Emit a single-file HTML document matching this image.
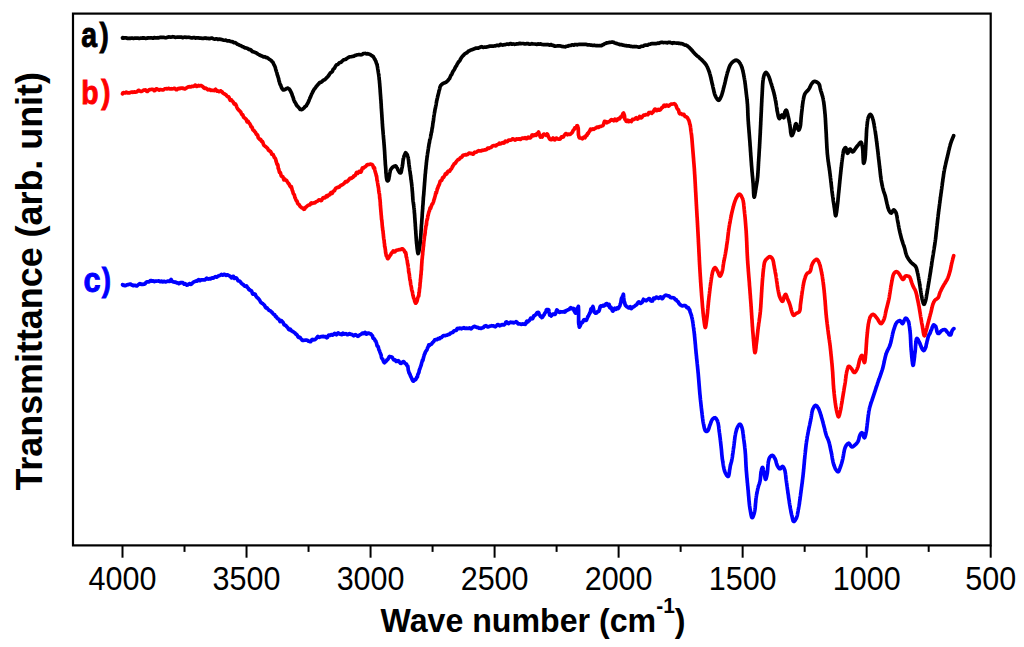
<!DOCTYPE html>
<html lang="en">
<head>
<meta charset="utf-8">
<title>FTIR spectra</title>
<style>
html,body{margin:0;padding:0;background:#fff;}
body{width:1024px;height:647px;overflow:hidden;}
svg{display:block;}
text{font-family:"Liberation Sans",Arial,Helvetica,sans-serif;}
.tl text{font-size:30.5px;text-anchor:middle;fill:#000;}
.ax{font-size:33px;font-weight:bold;fill:#000;}
.lab{font-size:33px;font-weight:bold;}
.curve{fill:none;stroke-width:3.7;stroke-linejoin:round;stroke-linecap:round;}
</style>
</head>
<body>
<svg width="1024" height="647" viewBox="0 0 1024 647">
<rect x="0" y="0" width="1024" height="647" fill="#fff"/>
<g class="curve">
<path stroke="#000000" d="M122.5 38.1 L122.5 37.8 L122.6 37.7 L122.7 37.7 L122.9 37.7 L123.1 37.7 L123.4 37.9 L123.7 38.1 L124.1 38.0 L124.5 37.9 L124.9 37.9 L125.4 37.8 L125.9 37.8 L126.5 38.0 L127.0 38.3 L127.6 38.5 L128.3 38.3 L128.9 38.2 L129.6 38.3 L130.3 38.3 L131.0 38.2 L131.8 38.1 L132.5 38.2 L133.3 38.3 L134.1 38.3 L134.9 38.1 L135.6 38.0 L136.5 38.1 L137.3 38.2 L138.1 38.2 L138.9 38.3 L139.7 38.3 L140.5 38.2 L141.3 38.2 L142.1 38.1 L142.9 37.9 L143.7 37.9 L144.5 38.1 L145.2 38.3 L146.0 38.3 L146.7 38.2 L147.4 38.1 L148.1 37.9 L148.8 37.8 L149.4 38.0 L150.0 38.0 L150.6 37.9 L151.2 37.8 L151.9 37.9 L152.5 38.2 L153.1 38.1 L153.7 37.7 L154.3 37.6 L155.0 37.8 L155.6 38.0 L156.2 37.9 L156.8 37.8 L157.4 37.7 L158.0 37.9 L158.6 37.9 L159.2 37.6 L159.8 37.4 L160.5 37.4 L161.1 37.5 L161.7 37.3 L162.3 37.3 L162.9 37.3 L163.5 37.4 L164.1 37.4 L164.7 37.6 L165.3 37.7 L165.9 37.8 L166.5 37.7 L167.1 37.4 L167.7 37.3 L168.3 37.0 L168.9 36.9 L169.5 37.0 L170.1 37.1 L170.7 37.1 L171.4 37.1 L172.0 36.9 L172.6 36.7 L173.2 36.8 L173.8 36.9 L174.4 37.0 L175.0 37.2 L175.6 37.4 L176.2 37.3 L176.8 37.2 L177.5 37.1 L178.1 37.1 L178.7 37.2 L179.3 37.2 L180.0 37.1 L180.6 37.0 L181.2 37.0 L181.9 37.3 L182.5 37.6 L183.1 37.6 L183.8 37.3 L184.4 37.2 L185.1 37.1 L185.7 37.2 L186.3 37.4 L187.0 37.4 L187.6 37.3 L188.2 37.2 L188.8 37.3 L189.5 37.4 L190.1 37.6 L190.7 37.8 L191.3 37.9 L191.9 38.0 L192.5 37.9 L193.1 37.6 L193.7 37.5 L194.3 37.5 L194.9 37.8 L195.5 38.1 L196.1 38.0 L196.7 37.8 L197.3 37.9 L197.8 37.9 L198.4 37.9 L198.9 38.0 L199.5 38.2 L200.0 38.2 L200.7 38.1 L201.3 38.2 L202.0 38.3 L202.6 38.4 L203.2 38.4 L203.9 38.3 L204.5 38.1 L205.1 37.9 L205.7 38.1 L206.3 38.4 L206.9 38.5 L207.5 38.3 L208.0 38.3 L208.6 38.5 L209.2 38.7 L209.8 38.6 L210.3 38.4 L210.9 38.2 L211.5 38.0 L212.1 38.1 L212.6 38.4 L213.2 38.7 L213.8 38.9 L214.4 39.1 L215.0 39.1 L215.6 39.0 L216.2 38.8 L216.8 38.8 L217.4 39.2 L218.0 39.5 L218.6 39.3 L219.2 39.1 L219.8 39.3 L220.4 39.5 L221.0 39.4 L221.6 39.5 L222.2 39.7 L222.8 39.9 L223.4 40.1 L224.0 40.2 L224.6 40.3 L225.2 40.2 L225.8 40.2 L226.4 40.5 L227.0 40.7 L227.6 40.9 L228.2 40.8 L228.8 40.8 L229.4 40.9 L230.0 41.2 L230.6 41.4 L231.1 41.6 L231.7 41.6 L232.3 41.6 L232.8 41.8 L233.4 42.3 L233.9 42.6 L234.5 42.5 L235.0 42.6 L235.6 42.9 L236.2 43.3 L236.7 43.8 L237.3 44.2 L237.8 44.4 L238.4 44.5 L238.9 44.8 L239.5 45.2 L240.0 45.4 L240.6 45.6 L241.1 45.8 L241.7 46.1 L242.2 46.5 L242.8 46.7 L243.3 46.8 L243.9 47.2 L244.4 47.6 L245.0 47.9 L245.6 47.9 L246.1 48.0 L246.7 48.2 L247.3 48.3 L247.8 48.6 L248.4 49.1 L249.0 49.5 L249.6 49.7 L250.1 49.6 L250.7 49.8 L251.3 50.4 L251.8 51.0 L252.4 51.5 L253.0 51.8 L253.5 51.9 L254.1 52.1 L254.7 52.3 L255.2 52.5 L255.8 52.7 L256.3 53.0 L256.9 53.3 L257.4 53.7 L257.9 54.1 L258.5 54.4 L259.0 54.6 L259.5 55.0 L260.0 55.2 L260.6 55.5 L261.2 55.8 L261.8 56.0 L262.5 56.3 L263.1 56.7 L263.7 56.9 L264.3 56.8 L264.9 56.7 L265.5 57.1 L266.0 57.5 L266.6 57.7 L267.2 57.7 L267.7 58.0 L268.2 58.4 L268.7 58.8 L269.1 59.1 L269.6 59.4 L270.0 59.6 L270.5 60.0 L271.0 60.3 L271.5 60.8 L271.9 61.4 L272.3 61.8 L272.6 62.0 L273.0 62.5 L273.3 63.2 L273.7 64.1 L273.9 64.6 L274.2 65.0 L274.4 65.4 L274.6 65.9 L274.9 66.4 L275.1 67.0 L275.3 67.6 L275.5 68.3 L275.7 69.2 L275.9 69.9 L276.0 70.3 L276.2 70.7 L276.4 71.5 L276.6 72.1 L276.8 72.6 L277.0 73.3 L277.1 74.1 L277.3 74.8 L277.5 75.3 L277.7 75.8 L277.9 76.3 L278.0 77.0 L278.2 77.4 L278.4 77.9 L278.5 78.5 L278.7 79.3 L278.9 80.2 L279.0 80.9 L279.2 81.2 L279.4 81.8 L279.5 82.4 L279.7 83.1 L279.9 83.8 L280.1 84.3 L280.3 84.6 L280.5 84.8 L280.8 85.4 L281.1 86.4 L281.4 87.3 L281.8 88.0 L282.1 88.6 L282.5 89.2 L282.9 89.7 L283.3 90.0 L283.7 90.0 L284.3 89.8 L284.9 89.5 L285.5 89.3 L286.2 88.8 L286.8 88.4 L287.4 88.2 L288.0 88.2 L288.4 88.6 L288.8 88.8 L289.2 89.0 L289.5 89.4 L289.9 90.0 L290.2 90.5 L290.5 91.0 L290.9 91.8 L291.2 92.5 L291.4 93.0 L291.7 93.5 L291.9 94.0 L292.1 94.7 L292.3 95.5 L292.6 96.1 L292.8 96.6 L293.0 97.2 L293.2 97.6 L293.4 98.4 L293.6 99.3 L293.8 99.9 L294.0 100.4 L294.3 100.9 L294.5 101.5 L294.7 102.0 L295.0 102.3 L295.3 102.7 L295.7 103.4 L296.1 104.2 L296.4 104.9 L296.8 105.5 L297.2 106.0 L297.6 106.3 L298.0 106.7 L298.3 107.1 L298.7 107.5 L299.2 108.0 L299.6 108.6 L300.1 109.3 L300.5 109.5 L301.0 109.5 L301.5 109.6 L302.0 109.5 L302.5 109.2 L303.0 108.8 L303.5 108.4 L304.1 107.9 L304.5 107.3 L305.0 106.7 L305.5 106.4 L305.9 106.2 L306.3 105.8 L306.7 105.0 L307.1 104.2 L307.5 103.6 L307.7 103.2 L308.0 102.7 L308.2 102.2 L308.4 101.9 L308.6 101.4 L308.9 100.8 L309.1 100.1 L309.4 99.4 L309.6 98.9 L309.8 98.3 L310.1 97.8 L310.3 97.3 L310.6 96.8 L310.8 96.1 L311.1 95.4 L311.4 94.6 L311.7 94.0 L311.9 93.6 L312.2 93.1 L312.5 92.4 L312.8 91.7 L313.2 91.1 L313.5 90.5 L313.8 89.9 L314.2 89.3 L314.5 88.8 L314.9 88.5 L315.2 88.1 L315.6 87.5 L316.0 86.8 L316.3 86.4 L316.7 86.1 L317.1 85.7 L317.5 85.0 L317.9 84.6 L318.3 84.3 L318.7 83.9 L319.2 83.1 L319.7 82.5 L320.2 82.4 L320.8 82.4 L321.3 82.2 L321.9 81.7 L322.4 81.1 L323.0 80.5 L323.5 80.1 L324.0 80.0 L324.5 79.9 L325.0 79.5 L325.5 79.0 L325.9 78.6 L326.3 78.1 L326.7 77.8 L327.1 77.4 L327.5 76.9 L327.9 76.5 L328.3 76.0 L328.7 75.5 L329.1 74.9 L329.6 74.1 L330.0 73.4 L330.4 72.9 L330.7 72.7 L331.1 72.5 L331.4 72.3 L331.8 72.0 L332.2 71.6 L332.6 70.8 L332.9 69.9 L333.3 69.2 L333.7 68.9 L334.1 68.7 L334.5 68.1 L334.9 67.3 L335.3 66.6 L335.7 65.9 L336.2 65.3 L336.6 64.8 L337.0 64.5 L337.5 64.5 L338.0 64.3 L338.4 63.8 L338.9 63.3 L339.4 62.8 L339.9 62.6 L340.4 62.5 L341.0 62.3 L341.5 61.9 L342.0 61.3 L342.6 60.7 L343.1 60.2 L343.7 59.9 L344.2 59.8 L344.8 59.6 L345.3 59.4 L345.9 59.2 L346.4 58.8 L347.0 58.3 L347.5 58.0 L348.1 57.6 L348.6 57.3 L349.2 57.0 L349.8 56.9 L350.4 56.8 L351.0 56.7 L351.6 56.6 L352.2 56.5 L352.7 56.4 L353.3 56.2 L353.9 56.1 L354.5 55.7 L355.1 55.4 L355.7 55.4 L356.3 55.1 L356.9 54.8 L357.5 54.8 L358.1 54.7 L358.8 54.5 L359.4 54.5 L360.1 54.7 L360.7 54.8 L361.4 54.7 L362.1 54.5 L362.7 54.1 L363.4 53.6 L364.0 53.5 L364.6 53.5 L365.3 53.4 L365.9 53.7 L366.4 53.9 L367.0 53.8 L367.5 53.7 L368.2 53.8 L368.8 54.1 L369.4 54.3 L370.0 54.5 L370.5 54.7 L371.0 55.1 L371.5 55.5 L372.0 55.9 L372.5 56.2 L372.9 56.2 L373.3 56.6 L373.6 57.2 L374.0 57.9 L374.3 58.5 L374.6 59.1 L374.9 59.4 L375.2 59.7 L375.4 60.3 L375.7 61.1 L376.0 61.8 L376.2 62.6 L376.4 63.1 L376.5 63.5 L376.7 63.8 L376.9 64.1 L377.0 64.6 L377.1 65.3 L377.3 66.1 L377.4 66.6 L377.5 67.1 L377.6 67.8 L377.7 68.5 L377.8 69.1 L377.9 69.7 L378.0 70.3 L378.1 70.9 L378.2 71.5 L378.3 72.2 L378.4 73.0 L378.5 73.5 L378.6 74.0 L378.7 74.7 L378.8 75.2 L378.8 75.7 L378.9 76.3 L379.0 76.8 L379.1 77.4 L379.1 78.2 L379.2 79.0 L379.2 79.5 L379.3 80.0 L379.4 80.5 L379.4 81.0 L379.5 81.5 L379.5 82.2 L379.6 82.9 L379.6 83.3 L379.7 83.7 L379.7 84.4 L379.8 85.3 L379.8 85.9 L379.9 86.5 L379.9 87.1 L380.0 87.6 L380.0 88.2 L380.1 88.9 L380.1 89.6 L380.2 90.4 L380.2 91.0 L380.2 91.4 L380.3 91.9 L380.3 92.7 L380.4 93.4 L380.4 94.1 L380.5 94.7 L380.5 95.3 L380.6 96.1 L380.6 96.8 L380.7 97.4 L380.7 97.9 L380.7 98.6 L380.8 99.1 L380.8 99.4 L380.9 99.8 L380.9 100.4 L381.0 101.2 L381.0 102.0 L381.0 102.7 L381.1 102.9 L381.1 103.4 L381.2 104.2 L381.2 105.1 L381.2 105.8 L381.3 106.5 L381.3 107.2 L381.3 107.8 L381.4 108.2 L381.4 108.7 L381.5 109.5 L381.5 110.2 L381.5 110.5 L381.6 111.0 L381.6 111.9 L381.7 112.5 L381.7 112.9 L381.7 113.3 L381.8 114.0 L381.8 114.8 L381.9 115.4 L381.9 115.9 L381.9 116.5 L382.0 117.3 L382.0 118.0 L382.1 118.7 L382.1 119.3 L382.1 119.7 L382.2 120.1 L382.2 120.7 L382.3 121.4 L382.3 122.2 L382.3 122.9 L382.4 123.5 L382.4 124.0 L382.5 124.6 L382.5 125.3 L382.5 125.9 L382.6 126.4 L382.6 126.9 L382.7 127.7 L382.7 128.3 L382.8 128.8 L382.8 129.5 L382.9 130.1 L382.9 130.6 L383.0 131.0 L383.0 131.6 L383.1 132.5 L383.1 133.1 L383.2 133.6 L383.2 134.2 L383.3 135.0 L383.4 135.6 L383.4 136.3 L383.5 137.2 L383.5 137.9 L383.6 138.5 L383.6 139.0 L383.7 139.4 L383.7 139.8 L383.8 140.5 L383.8 141.2 L383.9 141.9 L383.9 142.3 L384.0 142.7 L384.0 143.2 L384.0 143.9 L384.1 144.4 L384.1 144.9 L384.2 145.3 L384.2 146.0 L384.3 146.9 L384.3 147.6 L384.4 148.0 L384.4 148.4 L384.4 149.1 L384.5 149.8 L384.5 150.2 L384.6 150.8 L384.6 151.6 L384.7 152.6 L384.7 153.2 L384.7 153.8 L384.8 154.5 L384.8 155.2 L384.9 156.1 L384.9 156.8 L384.9 157.4 L385.0 157.9 L385.0 158.6 L385.0 159.2 L385.1 159.6 L385.1 160.0 L385.2 160.7 L385.2 161.4 L385.2 162.0 L385.3 162.5 L385.3 163.1 L385.3 163.8 L385.4 164.3 L385.4 164.7 L385.4 165.1 L385.5 165.5 L385.5 166.0 L385.6 166.5 L385.6 167.1 L385.7 167.8 L385.7 168.3 L385.8 169.1 L385.8 170.0 L385.9 171.1 L385.9 172.1 L385.9 172.6 L386.0 172.9 L386.0 173.4 L386.1 173.9 L386.2 174.6 L386.2 175.2 L386.3 175.9 L386.3 176.5 L386.4 177.2 L386.5 177.8 L386.6 178.6 L386.8 179.2 L386.9 179.9 L387.1 180.5 L387.3 180.8 L387.5 180.9 L387.7 180.9 L388.0 180.8 L388.2 180.6 L388.5 179.9 L388.8 178.9 L389.0 177.8 L389.1 176.9 L389.3 176.3 L389.4 175.8 L389.5 175.0 L389.6 174.1 L389.7 173.5 L389.8 173.2 L389.9 172.7 L390.1 171.8 L390.2 171.0 L390.4 170.4 L390.6 169.9 L390.9 169.4 L391.3 168.8 L391.7 168.2 L392.2 167.6 L392.6 167.2 L393.1 166.9 L393.7 166.5 L394.4 166.2 L395.0 166.0 L395.6 165.9 L396.0 166.1 L396.3 166.8 L396.6 167.3 L396.9 167.7 L397.2 168.0 L397.5 168.7 L397.8 169.6 L398.1 170.2 L398.5 170.9 L398.9 171.5 L399.3 172.2 L399.7 172.6 L400.1 172.8 L400.4 173.0 L400.6 172.9 L400.9 172.6 L401.1 172.2 L401.2 171.8 L401.4 171.1 L401.6 170.2 L401.7 169.1 L401.9 168.2 L402.0 167.9 L402.1 167.6 L402.2 167.0 L402.3 166.5 L402.4 165.9 L402.5 165.1 L402.6 164.4 L402.7 163.8 L402.8 163.4 L402.8 162.8 L402.9 161.9 L403.0 161.0 L403.1 160.2 L403.2 159.7 L403.3 159.2 L403.4 158.6 L403.6 158.1 L403.7 157.5 L403.9 156.8 L404.1 156.3 L404.3 155.6 L404.6 154.8 L404.8 154.3 L405.1 153.9 L405.3 153.3 L405.6 152.8 L406.0 153.1 L406.4 153.7 L406.8 154.1 L407.2 154.6 L407.5 155.4 L407.6 155.9 L407.8 156.4 L407.9 156.9 L408.0 157.2 L408.1 157.3 L408.2 157.8 L408.3 158.6 L408.4 159.2 L408.5 159.9 L408.6 160.7 L408.7 161.5 L408.7 162.0 L408.8 162.7 L408.9 163.5 L409.0 164.3 L409.1 164.9 L409.1 165.6 L409.2 166.2 L409.3 166.7 L409.4 167.3 L409.5 167.9 L409.6 168.4 L409.6 169.0 L409.7 169.8 L409.8 170.4 L409.9 170.9 L410.0 171.4 L410.1 172.1 L410.2 172.8 L410.2 173.4 L410.3 173.8 L410.4 174.4 L410.5 175.2 L410.6 175.9 L410.7 176.5 L410.8 177.1 L410.9 178.0 L410.9 178.8 L411.0 179.4 L411.1 179.8 L411.2 180.3 L411.3 180.7 L411.3 181.5 L411.4 182.2 L411.5 182.5 L411.6 183.1 L411.6 183.8 L411.7 184.3 L411.8 184.8 L411.8 185.5 L411.9 186.3 L412.0 186.8 L412.0 187.2 L412.1 187.9 L412.1 188.7 L412.2 189.5 L412.2 190.3 L412.3 190.9 L412.3 191.3 L412.4 191.6 L412.4 192.2 L412.5 193.1 L412.5 193.7 L412.6 194.2 L412.6 194.7 L412.6 195.4 L412.7 196.0 L412.7 196.6 L412.8 197.2 L412.8 197.9 L412.8 198.4 L412.9 199.0 L412.9 199.6 L413.0 200.3 L413.1 200.9 L413.1 201.4 L413.2 202.0 L413.3 202.5 L413.4 202.9 L413.4 203.4 L413.5 204.1 L413.6 204.9 L413.7 205.4 L413.8 205.8 L413.8 206.5 L413.9 207.3 L414.0 208.1 L414.1 208.6 L414.1 209.1 L414.2 209.6 L414.3 210.0 L414.3 210.8 L414.3 211.8 L414.4 212.6 L414.4 213.1 L414.5 213.4 L414.5 213.7 L414.6 214.2 L414.6 214.9 L414.7 215.8 L414.7 216.5 L414.7 217.0 L414.8 217.6 L414.8 218.0 L414.9 218.5 L414.9 219.0 L414.9 219.6 L415.0 220.3 L415.0 221.1 L415.1 221.8 L415.1 222.4 L415.2 223.0 L415.2 223.6 L415.3 224.3 L415.3 225.0 L415.3 225.7 L415.4 226.3 L415.4 226.8 L415.5 227.5 L415.5 228.2 L415.5 228.6 L415.6 229.2 L415.6 229.8 L415.7 230.4 L415.7 230.8 L415.8 231.5 L415.8 232.2 L415.8 232.9 L415.9 233.5 L415.9 234.2 L416.0 234.8 L416.0 235.6 L416.1 236.5 L416.1 237.2 L416.2 237.8 L416.2 238.5 L416.3 239.1 L416.3 239.7 L416.3 240.3 L416.4 240.7 L416.4 241.1 L416.5 241.7 L416.5 242.5 L416.6 243.2 L416.6 243.7 L416.7 243.9 L416.7 244.1 L416.8 244.5 L416.8 245.2 L416.9 245.9 L417.0 246.9 L417.1 248.1 L417.2 248.9 L417.3 249.5 L417.4 250.1 L417.5 250.9 L417.6 251.6 L417.7 252.3 L417.8 252.9 L417.9 253.2 L418.0 253.3 L418.1 253.6 L418.2 253.5 L418.3 253.2 L418.5 252.7 L418.6 252.2 L418.8 251.7 L418.9 251.2 L419.0 250.6 L419.2 249.9 L419.3 249.0 L419.5 248.1 L419.6 247.2 L419.7 246.3 L419.8 245.9 L419.8 245.7 L419.9 245.3 L420.0 244.6 L420.0 243.9 L420.1 243.5 L420.2 243.0 L420.2 242.1 L420.3 241.3 L420.3 240.7 L420.4 240.2 L420.4 239.6 L420.5 238.9 L420.6 238.2 L420.6 237.6 L420.7 237.1 L420.7 236.6 L420.8 236.0 L420.8 235.2 L420.9 234.3 L420.9 233.6 L421.0 232.9 L421.0 232.2 L421.0 231.6 L421.1 230.9 L421.1 230.2 L421.2 229.7 L421.2 229.1 L421.3 228.5 L421.3 227.9 L421.3 227.3 L421.4 226.6 L421.4 225.7 L421.5 224.9 L421.5 224.6 L421.6 224.1 L421.6 223.7 L421.7 223.1 L421.7 222.5 L421.7 221.9 L421.8 221.3 L421.8 220.6 L421.9 220.0 L421.9 219.4 L421.9 218.9 L422.0 218.5 L422.0 218.0 L422.1 217.4 L422.1 216.4 L422.2 215.6 L422.2 215.0 L422.2 214.5 L422.3 213.8 L422.3 213.2 L422.3 212.7 L422.4 212.1 L422.4 211.7 L422.5 211.3 L422.5 210.8 L422.5 210.3 L422.6 209.8 L422.6 209.3 L422.7 208.7 L422.7 208.0 L422.7 207.1 L422.8 206.4 L422.8 205.8 L422.9 205.3 L422.9 205.0 L423.0 204.5 L423.0 203.8 L423.1 203.0 L423.1 202.3 L423.1 201.6 L423.2 201.1 L423.2 200.6 L423.3 199.9 L423.3 199.0 L423.4 197.9 L423.4 197.1 L423.5 196.7 L423.5 196.5 L423.6 196.0 L423.6 195.4 L423.7 194.9 L423.7 194.4 L423.8 193.9 L423.8 193.4 L423.8 192.7 L423.9 192.1 L423.9 191.7 L424.0 191.2 L424.0 190.5 L424.1 189.8 L424.1 189.1 L424.2 188.5 L424.2 187.8 L424.3 187.0 L424.3 186.3 L424.4 185.8 L424.4 185.2 L424.5 184.4 L424.5 183.7 L424.6 183.0 L424.6 182.4 L424.7 182.0 L424.7 181.5 L424.8 180.8 L424.8 180.0 L424.9 179.3 L424.9 178.7 L425.0 178.0 L425.0 177.4 L425.1 176.7 L425.1 175.9 L425.2 175.2 L425.2 174.6 L425.3 174.0 L425.4 173.5 L425.4 173.0 L425.5 172.5 L425.5 171.8 L425.6 171.1 L425.6 170.5 L425.7 169.9 L425.7 169.4 L425.8 169.0 L425.9 168.4 L425.9 167.7 L426.0 167.1 L426.0 166.6 L426.1 166.1 L426.1 165.5 L426.2 165.0 L426.3 164.5 L426.3 163.7 L426.4 162.8 L426.5 161.9 L426.6 161.2 L426.6 160.7 L426.7 160.1 L426.8 159.6 L426.9 159.1 L426.9 158.6 L427.0 157.8 L427.1 157.2 L427.2 156.7 L427.3 156.1 L427.3 155.5 L427.4 154.9 L427.5 154.3 L427.6 153.5 L427.6 153.0 L427.7 152.9 L427.8 152.5 L427.9 151.8 L428.0 151.0 L428.1 150.4 L428.2 150.0 L428.2 149.4 L428.3 148.8 L428.4 148.2 L428.5 147.5 L428.6 146.9 L428.7 146.5 L428.8 145.9 L428.9 145.1 L429.0 144.3 L429.1 143.7 L429.2 143.2 L429.4 142.7 L429.5 141.9 L429.6 141.2 L429.7 140.4 L429.8 139.8 L430.0 139.4 L430.1 139.0 L430.2 138.6 L430.3 138.1 L430.5 137.6 L430.6 137.0 L430.7 136.3 L430.8 135.6 L431.0 135.0 L431.1 134.4 L431.2 133.7 L431.3 133.0 L431.4 132.4 L431.6 132.1 L431.7 131.8 L431.8 131.0 L431.9 130.1 L432.0 129.3 L432.1 128.6 L432.2 128.3 L432.3 128.0 L432.4 127.4 L432.5 126.7 L432.6 126.0 L432.7 125.3 L432.8 124.5 L432.8 123.7 L432.9 123.3 L433.0 123.0 L433.1 122.4 L433.2 121.9 L433.3 121.4 L433.4 120.7 L433.5 120.0 L433.6 119.2 L433.6 118.5 L433.7 117.9 L433.8 117.3 L433.9 116.5 L434.0 115.7 L434.1 115.1 L434.2 114.6 L434.3 114.0 L434.4 113.2 L434.5 112.7 L434.6 112.4 L434.7 111.9 L434.8 111.2 L434.9 110.4 L435.0 109.7 L435.1 109.1 L435.2 108.8 L435.4 108.2 L435.5 107.4 L435.6 107.0 L435.7 106.5 L435.8 105.9 L436.0 105.2 L436.1 104.6 L436.2 103.9 L436.3 103.0 L436.5 102.2 L436.6 101.4 L436.7 100.8 L436.9 100.3 L437.0 99.6 L437.1 99.0 L437.3 98.5 L437.4 98.0 L437.5 97.2 L437.7 96.7 L437.8 96.3 L437.9 95.7 L438.0 95.2 L438.2 94.7 L438.3 94.1 L438.4 93.6 L438.6 93.1 L438.7 92.6 L438.9 91.7 L439.0 90.9 L439.2 90.3 L439.3 89.9 L439.5 89.6 L439.6 89.2 L439.8 88.3 L439.9 87.4 L440.1 86.9 L440.3 86.4 L440.6 85.7 L440.9 85.2 L441.2 85.0 L441.6 84.5 L442.1 84.2 L442.6 83.9 L443.1 83.5 L443.6 83.1 L444.2 83.0 L444.8 82.8 L445.4 82.5 L446.0 82.3 L446.5 81.9 L447.0 81.3 L447.5 81.0 L447.9 80.6 L448.2 80.1 L448.6 79.5 L448.9 79.1 L449.3 78.9 L449.6 78.5 L449.9 77.7 L450.2 76.9 L450.5 76.2 L450.7 75.6 L451.0 75.1 L451.3 74.9 L451.6 74.6 L451.9 74.0 L452.2 73.3 L452.5 72.5 L452.8 71.9 L453.1 71.2 L453.5 70.7 L453.8 70.3 L454.1 69.9 L454.4 69.5 L454.8 68.7 L455.1 67.9 L455.4 67.3 L455.7 66.7 L456.0 66.3 L456.4 65.9 L456.7 65.2 L456.9 64.6 L457.2 64.2 L457.5 63.6 L457.9 63.0 L458.2 62.5 L458.6 62.0 L458.9 61.5 L459.2 61.2 L459.6 60.9 L460.0 60.3 L460.3 59.7 L460.6 59.0 L461.0 58.3 L461.3 57.8 L461.6 57.4 L462.0 56.8 L462.4 56.3 L462.8 55.9 L463.2 55.6 L463.6 55.2 L464.0 54.6 L464.5 54.1 L465.0 53.7 L465.4 53.4 L465.9 53.2 L466.4 52.9 L466.9 52.7 L467.4 52.3 L467.9 51.8 L468.4 51.2 L469.0 50.9 L469.6 50.7 L470.1 50.4 L470.7 50.1 L471.3 49.9 L471.9 49.8 L472.5 49.5 L473.1 49.3 L473.7 49.1 L474.4 48.8 L475.0 48.6 L475.5 48.3 L476.1 48.1 L476.6 48.1 L477.2 48.2 L477.8 48.2 L478.3 48.1 L478.9 47.8 L479.5 47.6 L480.1 47.3 L480.7 46.9 L481.3 46.7 L482.0 46.9 L482.6 47.3 L483.2 47.4 L483.8 47.2 L484.4 47.1 L485.1 47.1 L485.7 47.2 L486.3 47.1 L486.9 46.9 L487.6 46.7 L488.2 46.6 L488.8 46.5 L489.4 46.2 L490.0 46.0 L490.6 46.0 L491.2 46.1 L491.8 46.2 L492.4 46.1 L493.0 46.0 L493.5 46.1 L494.1 46.0 L494.7 45.9 L495.3 45.9 L495.9 45.7 L496.5 45.4 L497.1 45.2 L497.7 45.3 L498.2 45.5 L498.8 45.6 L499.4 45.4 L500.0 44.8 L500.6 44.4 L501.2 44.5 L501.9 44.9 L502.5 45.1 L503.1 45.0 L503.7 44.8 L504.4 44.7 L505.0 44.6 L505.6 44.6 L506.1 44.4 L506.7 44.1 L507.3 44.0 L507.8 44.2 L508.4 44.3 L509.0 44.3 L509.6 43.9 L510.2 43.5 L510.8 43.6 L511.4 44.0 L512.0 44.2 L512.6 44.0 L513.2 43.9 L513.8 44.1 L514.4 44.3 L515.0 44.3 L515.6 44.2 L516.2 44.0 L516.8 43.8 L517.4 43.8 L518.1 43.9 L518.7 43.8 L519.3 43.4 L519.9 43.4 L520.6 43.6 L521.2 43.6 L521.8 43.5 L522.5 43.5 L523.1 43.5 L523.7 43.7 L524.4 43.8 L525.0 43.8 L525.6 43.8 L526.2 43.8 L526.8 43.6 L527.4 43.5 L528.0 43.6 L528.6 44.0 L529.2 44.1 L529.8 44.1 L530.5 44.1 L531.1 43.9 L531.7 43.7 L532.4 43.8 L533.0 43.9 L533.7 44.0 L534.3 44.0 L535.0 44.0 L535.6 44.2 L536.2 44.3 L536.9 44.3 L537.5 44.0 L538.2 43.9 L538.8 44.2 L539.5 44.2 L540.1 43.9 L540.7 43.9 L541.4 44.2 L542.0 44.4 L542.6 44.5 L543.2 44.6 L543.8 44.6 L544.4 44.6 L545.0 44.5 L545.6 44.5 L546.2 44.6 L546.8 44.7 L547.3 44.7 L547.9 44.5 L548.4 44.5 L549.0 44.9 L549.5 45.2 L550.0 45.0 L550.7 44.6 L551.4 44.7 L552.1 45.2 L552.7 45.4 L553.4 45.4 L554.0 45.7 L554.6 46.1 L555.2 46.2 L555.8 46.1 L556.4 46.0 L557.0 46.0 L557.6 45.9 L558.1 45.9 L558.7 45.9 L559.3 46.0 L559.9 45.9 L560.6 46.0 L561.2 46.2 L561.8 46.4 L562.5 46.5 L563.1 46.6 L563.6 46.6 L564.2 46.7 L564.8 46.8 L565.3 46.8 L565.9 46.5 L566.5 46.3 L567.1 46.2 L567.7 46.2 L568.3 46.0 L568.9 45.5 L569.5 45.5 L570.1 45.5 L570.7 45.4 L571.3 45.2 L571.9 44.9 L572.5 44.8 L573.1 45.0 L573.8 45.2 L574.4 44.8 L575.0 44.5 L575.6 44.5 L576.2 44.6 L576.9 44.8 L577.5 44.8 L578.1 44.6 L578.7 44.4 L579.4 44.4 L580.0 44.4 L580.6 44.4 L581.2 44.3 L581.8 44.3 L582.4 44.4 L583.0 44.3 L583.6 44.3 L584.3 44.4 L584.9 44.3 L585.6 44.3 L586.2 44.4 L586.8 44.6 L587.5 45.0 L588.1 45.0 L588.8 44.8 L589.4 44.8 L590.0 45.0 L590.7 45.1 L591.3 45.1 L592.0 45.3 L592.6 45.5 L593.2 45.5 L593.8 45.3 L594.4 45.2 L595.0 45.4 L595.6 45.6 L596.2 45.6 L596.8 45.7 L597.4 45.7 L597.9 45.7 L598.4 45.7 L599.0 45.6 L599.5 45.5 L600.0 45.6 L600.7 45.7 L601.4 45.7 L602.0 45.3 L602.6 44.9 L603.2 44.8 L603.8 44.4 L604.4 43.9 L605.0 43.6 L605.5 43.4 L606.1 43.2 L606.6 42.9 L607.2 42.8 L607.7 42.8 L608.3 42.7 L608.8 42.5 L609.4 42.4 L610.0 42.3 L610.6 42.3 L611.2 42.2 L611.7 42.1 L612.3 42.2 L612.8 42.1 L613.4 42.2 L614.0 42.5 L614.5 42.8 L615.1 43.1 L615.7 43.3 L616.2 43.3 L616.8 43.5 L617.4 43.8 L618.1 44.0 L618.7 44.1 L619.3 44.4 L620.0 44.6 L620.5 44.5 L621.1 44.5 L621.6 44.6 L622.2 45.0 L622.8 45.1 L623.3 45.1 L623.9 45.2 L624.5 45.5 L625.2 45.6 L625.8 45.5 L626.4 45.6 L627.0 46.0 L627.7 46.0 L628.3 45.9 L628.9 45.9 L629.6 46.1 L630.2 46.3 L630.9 46.3 L631.5 46.4 L632.1 46.6 L632.8 46.5 L633.4 46.5 L634.0 46.7 L634.6 46.7 L635.2 46.6 L635.8 46.5 L636.4 46.6 L636.9 46.7 L637.5 46.8 L638.1 47.0 L638.8 47.2 L639.4 47.2 L640.0 47.0 L640.6 46.7 L641.2 46.3 L641.8 46.2 L642.4 46.3 L643.0 46.2 L643.6 45.8 L644.2 45.5 L644.8 45.2 L645.3 45.1 L645.9 45.1 L646.5 45.1 L647.1 45.2 L647.6 45.1 L648.2 44.8 L648.8 44.4 L649.4 44.3 L650.0 44.2 L650.6 44.0 L651.2 43.7 L651.8 43.6 L652.3 43.7 L652.9 43.7 L653.5 43.7 L654.1 43.7 L654.6 43.7 L655.2 43.6 L655.8 43.6 L656.4 43.6 L657.0 43.4 L657.5 43.2 L658.1 43.2 L658.7 43.3 L659.3 43.0 L660.0 42.7 L660.6 42.5 L661.2 42.4 L661.8 42.3 L662.5 42.4 L663.1 42.6 L663.6 42.6 L664.2 42.5 L664.8 42.5 L665.4 42.5 L666.0 42.6 L666.7 42.8 L667.3 42.9 L668.0 42.5 L668.6 42.3 L669.3 42.3 L669.9 42.4 L670.6 42.6 L671.3 42.9 L671.9 43.2 L672.6 43.3 L673.2 42.9 L673.9 42.7 L674.5 42.9 L675.2 43.0 L675.8 43.0 L676.4 43.1 L677.0 43.1 L677.6 43.0 L678.2 43.1 L678.7 43.4 L679.3 43.5 L679.8 43.4 L680.3 43.5 L680.8 43.7 L681.2 43.6 L681.9 43.7 L682.6 43.9 L683.3 44.2 L683.9 44.6 L684.5 44.9 L685.1 45.2 L685.6 45.2 L686.1 45.2 L686.6 45.5 L687.1 45.8 L687.5 46.0 L688.1 46.5 L688.6 46.9 L689.0 47.2 L689.5 47.8 L690.0 48.4 L690.4 48.6 L690.7 48.9 L691.1 49.5 L691.5 50.0 L691.9 50.3 L692.4 50.7 L692.8 51.4 L693.2 52.0 L693.7 52.5 L694.1 52.9 L694.5 53.3 L695.0 53.9 L695.4 54.2 L695.8 54.6 L696.3 55.0 L696.7 55.5 L697.2 55.9 L697.6 56.3 L698.1 56.6 L698.6 56.9 L699.0 57.3 L699.5 57.8 L699.9 58.3 L700.4 58.6 L700.8 59.0 L701.2 59.4 L701.7 59.9 L702.1 60.3 L702.6 60.7 L703.0 61.2 L703.4 61.6 L703.9 62.1 L704.3 62.5 L704.7 63.0 L705.1 63.5 L705.5 64.0 L705.9 64.5 L706.2 65.0 L706.5 65.5 L706.8 66.0 L707.1 66.6 L707.4 67.1 L707.6 67.7 L707.9 68.2 L708.1 68.8 L708.3 69.4 L708.5 70.0 L708.7 70.6 L709.0 71.2 L709.2 71.8 L709.4 72.5 L709.6 73.0 L709.7 73.6 L709.9 74.1 L710.1 74.7 L710.2 75.3 L710.4 75.9 L710.5 76.5 L710.7 77.1 L710.8 77.7 L711.0 78.3 L711.1 78.9 L711.2 79.6 L711.4 80.2 L711.5 80.8 L711.7 81.4 L711.8 82.0 L711.9 82.7 L712.1 83.3 L712.2 83.8 L712.4 84.4 L712.5 85.0 L712.7 85.6 L712.8 86.3 L712.9 86.9 L713.1 87.5 L713.2 88.2 L713.4 88.8 L713.5 89.5 L713.7 90.1 L713.8 90.7 L713.9 91.3 L714.1 91.9 L714.2 92.5 L714.4 93.0 L714.5 93.6 L714.7 94.1 L714.8 94.6 L715.0 95.0 L715.3 95.7 L715.6 96.4 L715.9 97.0 L716.2 97.6 L716.6 98.1 L716.9 98.6 L717.3 99.2 L717.8 99.8 L718.2 100.2 L718.7 100.3 L719.0 100.2 L719.3 99.9 L719.7 99.4 L720.0 98.9 L720.3 98.2 L720.6 97.6 L720.9 96.9 L721.2 96.2 L721.4 95.7 L721.6 95.3 L721.8 94.8 L721.9 94.2 L722.1 93.7 L722.3 93.1 L722.5 92.5 L722.6 91.9 L722.8 91.3 L723.0 90.7 L723.1 90.1 L723.3 89.4 L723.4 88.8 L723.6 88.1 L723.8 87.5 L723.9 86.9 L724.1 86.2 L724.2 85.6 L724.4 85.0 L724.6 84.4 L724.7 83.8 L724.9 83.2 L725.0 82.6 L725.1 82.0 L725.3 81.4 L725.4 80.8 L725.6 80.2 L725.7 79.5 L725.8 78.9 L726.0 78.3 L726.1 77.7 L726.3 77.1 L726.4 76.5 L726.6 75.9 L726.7 75.3 L726.9 74.7 L727.0 74.1 L727.2 73.6 L727.3 73.0 L727.5 72.5 L727.7 71.9 L727.9 71.2 L728.1 70.6 L728.3 69.9 L728.5 69.3 L728.7 68.7 L728.9 68.1 L729.1 67.5 L729.4 66.9 L729.6 66.3 L729.8 65.8 L730.1 65.3 L730.3 64.8 L730.6 64.4 L731.0 63.8 L731.4 63.3 L731.9 62.8 L732.3 62.3 L732.8 61.9 L733.2 61.5 L733.7 61.2 L734.4 60.8 L735.1 60.4 L735.8 60.2 L736.5 60.2 L737.0 60.3 L737.5 60.6 L738.0 61.0 L738.5 61.4 L739.0 61.9 L739.4 62.4 L739.7 62.8 L740.1 63.3 L740.3 63.8 L740.6 64.4 L740.9 64.9 L741.2 65.5 L741.4 66.2 L741.7 66.8 L741.9 67.5 L742.1 68.0 L742.2 68.5 L742.4 69.0 L742.5 69.5 L742.7 70.1 L742.8 70.7 L742.9 71.2 L743.1 71.8 L743.2 72.4 L743.3 73.0 L743.5 73.7 L743.6 74.3 L743.7 74.9 L743.8 75.5 L743.9 76.2 L744.1 76.8 L744.2 77.4 L744.3 78.1 L744.4 78.7 L744.5 79.3 L744.6 79.8 L744.7 80.4 L744.8 81.0 L744.9 81.6 L745.0 82.2 L745.0 82.8 L745.1 83.4 L745.2 84.0 L745.3 84.6 L745.4 85.2 L745.4 85.9 L745.5 86.5 L745.6 87.1 L745.6 87.7 L745.7 88.3 L745.8 88.9 L745.9 89.5 L745.9 90.1 L746.0 90.7 L746.1 91.3 L746.1 91.9 L746.2 92.5 L746.3 93.1 L746.3 93.8 L746.4 94.4 L746.5 95.0 L746.6 95.7 L746.6 96.3 L746.7 96.9 L746.8 97.5 L746.9 98.1 L746.9 98.7 L747.0 99.4 L747.1 100.0 L747.1 100.6 L747.2 101.2 L747.2 101.8 L747.3 102.5 L747.3 103.1 L747.4 103.7 L747.5 104.4 L747.5 105.0 L747.5 105.6 L747.6 106.2 L747.6 106.8 L747.6 107.4 L747.7 108.0 L747.7 108.6 L747.7 109.2 L747.7 109.8 L747.8 110.4 L747.8 111.0 L747.8 111.6 L747.8 112.2 L747.8 112.8 L747.9 113.4 L747.9 114.0 L747.9 114.7 L747.9 115.3 L748.0 116.0 L748.0 116.6 L748.0 117.3 L748.1 118.0 L748.1 118.7 L748.1 119.2 L748.2 119.8 L748.2 120.3 L748.2 120.8 L748.3 121.4 L748.3 122.0 L748.4 122.5 L748.4 123.1 L748.4 123.7 L748.5 124.3 L748.5 124.9 L748.6 125.5 L748.6 126.1 L748.7 126.7 L748.7 127.3 L748.8 127.9 L748.8 128.6 L748.9 129.2 L748.9 129.8 L749.0 130.5 L749.0 131.1 L749.1 131.7 L749.1 132.4 L749.2 133.0 L749.2 133.6 L749.3 134.3 L749.3 134.9 L749.4 135.6 L749.4 136.2 L749.5 136.8 L749.5 137.5 L749.6 138.1 L749.6 138.7 L749.7 139.4 L749.7 140.0 L749.8 140.6 L749.8 141.3 L749.9 141.9 L749.9 142.5 L750.0 143.1 L750.0 143.7 L750.0 144.3 L750.1 144.9 L750.1 145.6 L750.2 146.2 L750.2 146.8 L750.3 147.4 L750.3 148.1 L750.4 148.7 L750.4 149.3 L750.4 150.0 L750.5 150.6 L750.5 151.2 L750.6 151.9 L750.6 152.5 L750.7 153.1 L750.7 153.8 L750.7 154.4 L750.8 155.0 L750.8 155.6 L750.9 156.3 L750.9 156.9 L751.0 157.5 L751.0 158.1 L751.1 158.7 L751.1 159.4 L751.1 160.0 L751.2 160.6 L751.2 161.2 L751.3 161.8 L751.3 162.4 L751.4 163.0 L751.4 163.5 L751.4 164.1 L751.5 164.7 L751.5 165.3 L751.6 165.8 L751.6 166.4 L751.7 167.0 L751.7 167.5 L751.8 168.2 L751.8 168.9 L751.9 169.5 L751.9 170.2 L752.0 170.8 L752.0 171.5 L752.1 172.1 L752.2 172.7 L752.2 173.4 L752.3 174.0 L752.3 174.6 L752.4 175.2 L752.4 175.8 L752.5 176.4 L752.6 177.0 L752.6 177.6 L752.7 178.2 L752.7 178.8 L752.8 179.4 L752.8 180.0 L752.9 180.6 L752.9 181.2 L753.0 181.8 L753.0 182.4 L753.1 183.0 L753.2 183.7 L753.2 184.3 L753.2 185.1 L753.3 185.8 L753.3 186.6 L753.4 187.4 L753.4 188.2 L753.5 189.1 L753.5 189.9 L753.5 190.7 L753.6 191.5 L753.6 192.2 L753.6 192.9 L753.7 193.6 L753.7 194.3 L753.8 194.9 L753.8 195.4 L753.9 195.9 L753.9 196.3 L754.0 196.6 L754.1 196.9 L754.1 197.0 L754.2 197.1 L754.3 197.0 L754.4 196.8 L754.5 196.5 L754.6 196.0 L754.8 195.4 L754.9 194.8 L755.0 194.1 L755.1 193.3 L755.3 192.6 L755.4 191.7 L755.5 190.9 L755.6 190.1 L755.8 189.4 L755.9 188.7 L756.0 188.0 L756.1 187.4 L756.2 186.8 L756.3 186.2 L756.4 185.6 L756.5 185.0 L756.6 184.4 L756.7 183.8 L756.8 183.2 L756.9 182.6 L757.0 182.0 L757.1 181.4 L757.2 180.7 L757.3 180.1 L757.3 179.4 L757.4 178.7 L757.5 178.0 L757.6 177.5 L757.6 177.0 L757.7 176.4 L757.7 175.9 L757.8 175.3 L757.8 174.8 L757.8 174.2 L757.9 173.6 L757.9 173.1 L758.0 172.5 L758.0 171.9 L758.0 171.3 L758.1 170.7 L758.1 170.1 L758.2 169.5 L758.2 168.8 L758.2 168.2 L758.3 167.6 L758.3 167.0 L758.3 166.3 L758.4 165.7 L758.4 165.1 L758.4 164.4 L758.5 163.8 L758.5 163.2 L758.5 162.5 L758.6 161.9 L758.6 161.3 L758.7 160.6 L758.7 160.0 L758.7 159.4 L758.8 158.8 L758.8 158.3 L758.8 157.7 L758.9 157.1 L758.9 156.5 L759.0 155.9 L759.0 155.3 L759.0 154.7 L759.1 154.1 L759.1 153.5 L759.1 152.9 L759.2 152.3 L759.2 151.7 L759.2 151.1 L759.3 150.5 L759.3 149.9 L759.3 149.3 L759.4 148.7 L759.4 148.0 L759.5 147.4 L759.5 146.8 L759.5 146.2 L759.6 145.6 L759.6 145.0 L759.6 144.3 L759.7 143.7 L759.7 143.1 L759.7 142.5 L759.8 141.9 L759.8 141.2 L759.8 140.6 L759.9 140.0 L759.9 139.4 L759.9 138.7 L760.0 138.1 L760.0 137.5 L760.0 136.9 L760.1 136.3 L760.1 135.7 L760.1 135.1 L760.2 134.5 L760.2 133.8 L760.2 133.2 L760.3 132.6 L760.3 132.0 L760.3 131.4 L760.3 130.7 L760.4 130.1 L760.4 129.5 L760.4 128.9 L760.5 128.2 L760.5 127.6 L760.5 127.0 L760.6 126.3 L760.6 125.7 L760.6 125.1 L760.7 124.5 L760.7 123.8 L760.7 123.2 L760.7 122.6 L760.8 122.0 L760.8 121.3 L760.8 120.7 L760.9 120.1 L760.9 119.5 L760.9 118.9 L760.9 118.3 L761.0 117.7 L761.0 117.1 L761.0 116.5 L761.1 115.9 L761.1 115.3 L761.1 114.7 L761.1 114.1 L761.2 113.6 L761.2 113.0 L761.2 112.4 L761.3 111.7 L761.3 111.1 L761.3 110.4 L761.4 109.8 L761.4 109.2 L761.4 108.6 L761.4 108.0 L761.5 107.3 L761.5 106.7 L761.5 106.1 L761.6 105.5 L761.6 104.9 L761.6 104.3 L761.6 103.7 L761.7 103.1 L761.7 102.5 L761.7 101.9 L761.8 101.4 L761.8 100.8 L761.8 100.2 L761.8 99.6 L761.9 99.0 L761.9 98.5 L761.9 97.9 L762.0 97.3 L762.0 96.7 L762.0 96.1 L762.1 95.6 L762.1 95.0 L762.1 94.4 L762.2 93.7 L762.2 93.1 L762.2 92.4 L762.3 91.8 L762.3 91.1 L762.3 90.5 L762.4 89.8 L762.4 89.2 L762.4 88.5 L762.5 87.9 L762.5 87.3 L762.5 86.6 L762.6 86.0 L762.6 85.4 L762.6 84.8 L762.7 84.2 L762.7 83.6 L762.8 83.1 L762.8 82.5 L762.9 82.0 L762.9 81.4 L763.0 80.9 L763.0 80.5 L763.1 80.0 L763.2 79.2 L763.3 78.5 L763.5 77.9 L763.6 77.2 L763.7 76.6 L763.9 76.0 L764.0 75.5 L764.2 75.0 L764.4 74.5 L764.7 73.8 L765.1 73.1 L765.5 72.6 L765.9 72.4 L766.3 72.5 L766.8 73.0 L767.2 73.6 L767.7 74.3 L768.1 75.0 L768.3 75.4 L768.5 75.9 L768.8 76.4 L769.0 76.9 L769.2 77.4 L769.4 78.0 L769.6 78.6 L769.8 79.2 L770.0 79.9 L770.2 80.5 L770.4 81.1 L770.6 81.8 L770.8 82.4 L771.0 83.1 L771.2 83.7 L771.4 84.3 L771.6 84.8 L771.7 85.4 L771.9 86.0 L772.1 86.6 L772.3 87.2 L772.5 87.8 L772.6 88.4 L772.8 89.0 L773.0 89.6 L773.2 90.2 L773.3 90.8 L773.5 91.4 L773.7 92.0 L773.8 92.6 L774.0 93.2 L774.1 93.8 L774.3 94.4 L774.4 95.0 L774.5 95.6 L774.7 96.3 L774.8 96.9 L775.0 97.6 L775.1 98.2 L775.2 98.8 L775.3 99.5 L775.4 100.1 L775.6 100.7 L775.7 101.4 L775.8 102.0 L775.9 102.6 L776.0 103.2 L776.1 103.8 L776.2 104.4 L776.3 105.0 L776.4 105.7 L776.5 106.3 L776.6 107.0 L776.7 107.6 L776.8 108.2 L776.9 108.9 L777.0 109.5 L777.0 110.1 L777.1 110.7 L777.3 111.3 L777.4 111.9 L777.5 112.5 L777.7 113.2 L777.8 114.0 L778.0 114.7 L778.1 115.5 L778.3 116.3 L778.5 117.0 L778.7 117.6 L778.9 118.1 L779.2 118.5 L779.4 118.6 L779.7 118.4 L780.1 117.9 L780.4 117.2 L780.8 116.4 L781.2 115.7 L781.6 115.2 L781.9 115.0 L782.3 115.3 L782.7 116.0 L783.0 116.9 L783.4 117.5 L783.7 117.8 L783.9 117.6 L784.0 117.3 L784.2 116.7 L784.3 116.0 L784.4 115.3 L784.5 114.4 L784.6 113.7 L784.7 112.9 L784.8 112.3 L785.0 111.8 L785.4 111.0 L785.8 110.4 L786.2 110.2 L786.4 110.3 L786.6 110.7 L786.8 111.1 L787.0 111.7 L787.2 112.4 L787.4 113.2 L787.6 114.0 L787.8 114.8 L787.9 115.5 L788.1 116.2 L788.2 116.8 L788.4 117.3 L788.5 117.9 L788.6 118.5 L788.8 119.0 L788.9 119.6 L789.0 120.2 L789.1 120.8 L789.2 121.4 L789.3 122.1 L789.5 122.7 L789.6 123.3 L789.7 124.0 L789.8 124.6 L789.9 125.2 L790.0 125.9 L790.1 126.7 L790.2 127.5 L790.3 128.2 L790.4 129.1 L790.5 129.9 L790.6 130.7 L790.6 131.4 L790.7 132.2 L790.8 132.9 L791.0 133.5 L791.1 134.1 L791.2 134.6 L791.3 135.0 L791.4 135.3 L791.6 135.5 L791.7 135.6 L792.0 135.5 L792.4 135.0 L792.7 134.3 L793.1 133.5 L793.4 132.7 L793.6 132.2 L793.8 131.6 L793.9 130.9 L794.1 130.2 L794.3 129.4 L794.4 128.6 L794.6 127.8 L794.8 127.0 L794.9 126.3 L795.1 125.6 L795.3 125.0 L795.5 124.5 L795.6 124.1 L795.8 123.8 L796.0 123.7 L796.2 123.8 L796.5 124.2 L796.7 124.8 L796.9 125.6 L797.2 126.4 L797.4 127.3 L797.7 128.1 L797.9 128.9 L798.2 129.5 L798.4 129.9 L798.6 130.1 L799.0 129.9 L799.3 129.3 L799.7 128.4 L800.0 127.5 L800.1 127.1 L800.2 126.6 L800.3 126.2 L800.4 125.6 L800.5 125.1 L800.6 124.5 L800.6 123.9 L800.7 123.2 L800.7 122.6 L800.8 121.9 L800.9 121.2 L800.9 120.5 L801.0 119.8 L801.0 119.1 L801.1 118.4 L801.1 117.7 L801.2 117.0 L801.3 116.3 L801.3 115.7 L801.4 115.0 L801.5 114.4 L801.5 113.8 L801.6 113.2 L801.7 112.6 L801.7 112.0 L801.8 111.4 L801.9 110.7 L802.0 110.1 L802.0 109.4 L802.1 108.8 L802.2 108.1 L802.2 107.5 L802.3 106.9 L802.4 106.2 L802.5 105.6 L802.5 105.0 L802.6 104.4 L802.7 103.8 L802.8 103.2 L802.9 102.6 L802.9 102.0 L803.0 101.5 L803.1 101.0 L803.2 100.5 L803.3 100.0 L803.4 99.2 L803.6 98.5 L803.7 97.8 L803.8 97.2 L804.0 96.6 L804.1 96.0 L804.3 95.4 L804.5 94.8 L804.7 94.2 L805.0 93.7 L805.3 93.2 L805.7 92.7 L806.1 92.2 L806.5 91.7 L807.0 91.3 L807.4 90.9 L807.9 90.4 L808.3 89.9 L808.7 89.4 L809.0 88.9 L809.3 88.4 L809.6 87.8 L809.9 87.2 L810.2 86.6 L810.5 86.0 L810.7 85.4 L811.0 84.9 L811.3 84.4 L811.6 83.9 L811.9 83.5 L812.4 82.9 L812.8 82.4 L813.3 81.9 L813.8 81.6 L814.4 81.4 L814.9 81.4 L815.4 81.5 L816.0 81.7 L816.6 82.0 L817.2 82.3 L817.8 82.7 L818.3 83.1 L818.7 83.6 L819.0 84.0 L819.2 84.5 L819.5 85.0 L819.6 85.6 L819.8 86.2 L819.9 86.8 L820.0 87.4 L820.2 88.1 L820.3 88.7 L820.4 89.4 L820.6 90.0 L820.8 90.5 L820.9 91.1 L821.1 91.6 L821.3 92.2 L821.4 92.7 L821.6 93.3 L821.8 93.8 L822.0 94.4 L822.1 95.0 L822.3 95.6 L822.5 96.2 L822.7 96.8 L822.8 97.4 L823.0 98.0 L823.1 98.7 L823.2 99.2 L823.3 99.8 L823.4 100.3 L823.5 100.9 L823.6 101.4 L823.7 102.0 L823.8 102.6 L823.9 103.2 L823.9 103.8 L824.0 104.4 L824.1 105.0 L824.2 105.6 L824.2 106.2 L824.3 106.8 L824.4 107.4 L824.4 108.1 L824.5 108.7 L824.6 109.3 L824.6 110.0 L824.7 110.6 L824.8 111.2 L824.8 111.8 L824.9 112.5 L824.9 113.1 L825.0 113.7 L825.1 114.3 L825.1 114.9 L825.2 115.5 L825.2 116.0 L825.2 116.6 L825.3 117.2 L825.3 117.8 L825.4 118.4 L825.4 119.0 L825.4 119.5 L825.5 120.1 L825.5 120.7 L825.5 121.3 L825.6 121.9 L825.6 122.5 L825.6 123.1 L825.7 123.7 L825.7 124.3 L825.7 124.9 L825.8 125.5 L825.8 126.1 L825.8 126.8 L825.9 127.4 L825.9 128.0 L825.9 128.7 L826.0 129.3 L826.0 130.0 L826.0 130.5 L826.1 131.1 L826.1 131.7 L826.1 132.2 L826.2 132.8 L826.2 133.4 L826.2 134.0 L826.3 134.6 L826.3 135.2 L826.3 135.8 L826.3 136.4 L826.4 137.0 L826.4 137.7 L826.4 138.3 L826.5 138.9 L826.5 139.5 L826.5 140.2 L826.6 140.8 L826.6 141.4 L826.6 142.1 L826.7 142.7 L826.7 143.4 L826.7 144.0 L826.8 144.6 L826.8 145.3 L826.8 145.9 L826.9 146.5 L826.9 147.2 L826.9 147.8 L827.0 148.4 L827.0 149.0 L827.1 149.7 L827.1 150.3 L827.2 150.9 L827.2 151.5 L827.2 152.1 L827.3 152.7 L827.3 153.3 L827.4 153.9 L827.4 154.4 L827.5 155.0 L827.6 155.6 L827.6 156.3 L827.7 156.9 L827.8 157.5 L827.8 158.2 L827.9 158.8 L828.0 159.4 L828.1 160.0 L828.1 160.6 L828.2 161.2 L828.3 161.8 L828.4 162.4 L828.5 163.0 L828.6 163.6 L828.6 164.2 L828.7 164.7 L828.8 165.3 L828.9 165.9 L829.0 166.5 L829.1 167.1 L829.2 167.7 L829.3 168.3 L829.3 168.9 L829.4 169.4 L829.5 170.0 L829.6 170.6 L829.7 171.2 L829.8 171.9 L829.8 172.5 L829.9 173.1 L830.0 173.7 L830.1 174.3 L830.1 174.9 L830.2 175.5 L830.3 176.1 L830.4 176.7 L830.4 177.3 L830.5 178.0 L830.6 178.6 L830.7 179.2 L830.7 179.8 L830.8 180.5 L830.9 181.1 L830.9 181.7 L831.0 182.4 L831.1 183.0 L831.2 183.6 L831.2 184.3 L831.3 184.9 L831.4 185.5 L831.4 186.2 L831.5 186.8 L831.6 187.4 L831.7 188.0 L831.7 188.6 L831.8 189.3 L831.9 189.9 L831.9 190.5 L832.0 191.1 L832.1 191.6 L832.1 192.2 L832.2 192.8 L832.3 193.4 L832.4 193.9 L832.4 194.5 L832.5 195.0 L832.6 195.7 L832.7 196.4 L832.8 197.1 L832.9 197.7 L833.0 198.4 L833.1 199.0 L833.1 199.7 L833.2 200.3 L833.3 201.0 L833.4 201.6 L833.5 202.2 L833.6 202.8 L833.7 203.4 L833.8 204.0 L833.9 204.6 L834.0 205.2 L834.1 205.8 L834.1 206.3 L834.2 206.9 L834.3 207.5 L834.4 208.0 L834.5 208.7 L834.6 209.5 L834.7 210.3 L834.8 211.1 L834.9 211.9 L835.0 212.6 L835.1 213.4 L835.2 214.0 L835.3 214.6 L835.4 215.1 L835.5 215.5 L835.6 215.7 L835.7 215.8 L835.8 215.7 L835.9 215.5 L836.0 215.1 L836.1 214.6 L836.2 214.0 L836.3 213.4 L836.5 212.6 L836.6 211.9 L836.7 211.0 L836.8 210.2 L836.9 209.4 L837.0 208.5 L837.1 207.7 L837.2 207.0 L837.3 206.5 L837.3 205.9 L837.4 205.4 L837.5 204.8 L837.5 204.2 L837.6 203.7 L837.7 203.1 L837.7 202.5 L837.8 201.9 L837.9 201.3 L837.9 200.7 L838.0 200.1 L838.0 199.5 L838.1 198.9 L838.1 198.2 L838.2 197.6 L838.3 197.0 L838.3 196.3 L838.4 195.7 L838.4 195.1 L838.5 194.4 L838.6 193.8 L838.6 193.1 L838.7 192.5 L838.8 191.9 L838.8 191.4 L838.9 190.8 L838.9 190.2 L839.0 189.6 L839.1 189.0 L839.1 188.4 L839.2 187.8 L839.2 187.2 L839.3 186.6 L839.4 186.0 L839.4 185.3 L839.5 184.7 L839.5 184.1 L839.6 183.5 L839.7 182.9 L839.7 182.2 L839.8 181.6 L839.8 181.0 L839.9 180.4 L840.0 179.7 L840.0 179.1 L840.1 178.5 L840.2 177.9 L840.2 177.3 L840.3 176.7 L840.3 176.1 L840.4 175.5 L840.5 174.9 L840.5 174.3 L840.6 173.7 L840.7 173.1 L840.7 172.4 L840.8 171.8 L840.9 171.2 L840.9 170.5 L841.0 169.9 L841.1 169.3 L841.1 168.6 L841.2 168.0 L841.3 167.4 L841.4 166.7 L841.4 166.1 L841.5 165.5 L841.6 164.9 L841.6 164.2 L841.7 163.6 L841.8 163.0 L841.8 162.4 L841.9 161.8 L842.0 161.3 L842.1 160.7 L842.1 160.1 L842.2 159.6 L842.3 159.0 L842.4 158.5 L842.4 158.0 L842.5 157.5 L842.6 156.8 L842.7 156.1 L842.8 155.3 L842.9 154.6 L843.0 153.9 L843.1 153.3 L843.2 152.6 L843.3 152.0 L843.4 151.4 L843.5 150.9 L843.7 150.4 L843.8 149.9 L844.0 149.5 L844.4 148.8 L844.8 148.2 L845.2 147.7 L845.6 147.6 L845.8 147.8 L846.0 148.2 L846.2 148.9 L846.4 149.6 L846.5 150.5 L846.7 151.3 L846.9 152.1 L847.1 152.7 L847.3 153.1 L847.5 153.3 L847.8 153.1 L848.1 152.7 L848.4 152.0 L848.7 151.2 L849.0 150.4 L849.3 149.7 L849.7 149.2 L850.0 149.0 L850.4 149.2 L850.8 149.7 L851.2 150.4 L851.6 151.1 L852.1 151.7 L852.5 151.9 L852.9 151.8 L853.3 151.5 L853.7 151.1 L854.1 150.5 L854.5 149.9 L855.0 149.3 L855.4 148.6 L855.8 148.0 L856.2 147.5 L856.6 147.0 L857.0 146.4 L857.5 145.9 L857.9 145.3 L858.3 144.8 L858.7 144.3 L859.0 143.9 L859.4 143.5 L860.0 142.9 L860.5 142.3 L861.0 142.2 L861.2 142.4 L861.4 142.7 L861.6 143.2 L861.8 143.8 L861.9 144.4 L862.1 145.2 L862.2 145.9 L862.4 146.7 L862.5 147.5 L862.6 148.0 L862.6 148.5 L862.7 149.1 L862.8 149.8 L862.8 150.5 L862.9 151.2 L862.9 152.0 L862.9 152.7 L863.0 153.6 L863.0 154.4 L863.0 155.2 L863.1 156.0 L863.1 156.8 L863.1 157.6 L863.2 158.4 L863.2 159.1 L863.2 159.8 L863.3 160.4 L863.3 161.1 L863.4 161.6 L863.4 162.1 L863.4 162.5 L863.5 162.8 L863.6 163.1 L863.6 163.2 L863.7 163.3 L863.9 163.1 L864.2 162.4 L864.5 161.5 L864.7 160.5 L864.8 160.1 L864.8 159.8 L864.9 159.3 L865.0 158.9 L865.0 158.4 L865.1 157.9 L865.1 157.4 L865.2 156.8 L865.2 156.2 L865.3 155.6 L865.3 155.0 L865.4 154.4 L865.4 153.7 L865.4 153.1 L865.5 152.4 L865.5 151.7 L865.5 151.0 L865.6 150.4 L865.6 149.7 L865.7 149.0 L865.7 148.3 L865.7 147.6 L865.8 146.9 L865.8 146.3 L865.8 145.6 L865.9 145.0 L865.9 144.3 L865.9 143.7 L866.0 143.1 L866.0 142.5 L866.0 141.9 L866.1 141.2 L866.1 140.6 L866.1 139.9 L866.2 139.3 L866.2 138.6 L866.2 138.0 L866.3 137.3 L866.3 136.7 L866.3 136.1 L866.4 135.4 L866.4 134.8 L866.4 134.1 L866.4 133.5 L866.5 132.9 L866.5 132.3 L866.5 131.7 L866.6 131.1 L866.6 130.5 L866.6 129.9 L866.7 129.3 L866.7 128.7 L866.8 128.1 L866.8 127.6 L866.9 127.0 L867.0 126.3 L867.0 125.6 L867.1 124.9 L867.2 124.2 L867.3 123.5 L867.3 122.8 L867.4 122.1 L867.5 121.4 L867.6 120.8 L867.7 120.1 L867.8 119.5 L867.9 119.0 L868.0 118.4 L868.2 117.9 L868.3 117.4 L868.5 117.0 L868.8 116.3 L869.2 115.5 L869.6 114.9 L870.0 114.5 L870.4 114.4 L870.8 114.6 L871.1 115.0 L871.5 115.6 L871.8 116.4 L872.2 117.2 L872.5 118.0 L872.7 118.4 L872.8 118.9 L873.0 119.4 L873.1 119.9 L873.2 120.4 L873.4 121.0 L873.5 121.5 L873.6 122.1 L873.7 122.7 L873.9 123.4 L874.0 124.0 L874.1 124.6 L874.2 125.3 L874.3 126.0 L874.4 126.6 L874.5 127.3 L874.7 128.0 L874.8 128.7 L874.9 129.3 L875.0 130.0 L875.1 130.5 L875.2 131.1 L875.3 131.6 L875.4 132.2 L875.4 132.8 L875.5 133.4 L875.6 134.0 L875.7 134.6 L875.8 135.2 L875.9 135.8 L876.0 136.4 L876.0 137.0 L876.1 137.6 L876.2 138.2 L876.3 138.9 L876.4 139.5 L876.4 140.1 L876.5 140.7 L876.6 141.4 L876.7 142.0 L876.8 142.6 L876.8 143.2 L876.9 143.9 L877.0 144.5 L877.1 145.1 L877.1 145.7 L877.2 146.3 L877.3 146.9 L877.4 147.5 L877.4 148.1 L877.5 148.7 L877.6 149.3 L877.7 149.9 L877.7 150.6 L877.8 151.2 L877.9 151.8 L878.0 152.4 L878.0 153.0 L878.1 153.6 L878.2 154.2 L878.2 154.8 L878.3 155.5 L878.4 156.1 L878.4 156.7 L878.5 157.3 L878.6 157.9 L878.6 158.5 L878.7 159.1 L878.8 159.7 L878.9 160.3 L878.9 160.8 L879.0 161.4 L879.1 162.0 L879.1 162.6 L879.2 163.2 L879.3 163.8 L879.3 164.4 L879.4 165.0 L879.5 165.6 L879.5 166.2 L879.6 166.9 L879.7 167.5 L879.8 168.1 L879.8 168.7 L879.9 169.4 L880.0 170.0 L880.0 170.6 L880.1 171.2 L880.2 171.8 L880.2 172.5 L880.3 173.1 L880.4 173.7 L880.4 174.3 L880.5 174.9 L880.6 175.5 L880.6 176.1 L880.7 176.7 L880.8 177.2 L880.9 177.8 L881.0 178.4 L881.0 178.9 L881.1 179.5 L881.2 180.0 L881.3 180.7 L881.4 181.4 L881.5 182.0 L881.7 182.7 L881.8 183.3 L881.9 183.9 L882.0 184.5 L882.1 185.1 L882.3 185.7 L882.4 186.3 L882.5 186.9 L882.7 187.5 L882.8 188.1 L883.0 188.6 L883.1 189.2 L883.3 189.8 L883.4 190.4 L883.6 191.0 L883.8 191.6 L884.0 192.2 L884.2 192.7 L884.4 193.3 L884.6 193.9 L884.8 194.4 L885.0 195.0 L885.1 195.6 L885.3 196.2 L885.5 196.8 L885.6 197.4 L885.7 198.0 L885.9 198.6 L886.0 199.2 L886.1 199.8 L886.3 200.4 L886.4 201.0 L886.5 201.6 L886.7 202.2 L886.8 202.8 L886.9 203.4 L887.1 203.9 L887.2 204.5 L887.4 205.2 L887.5 205.8 L887.7 206.5 L887.8 207.1 L888.0 207.7 L888.2 208.4 L888.4 208.9 L888.6 209.5 L888.8 210.0 L889.0 210.5 L889.4 211.2 L889.8 211.9 L890.3 212.5 L890.7 212.9 L891.2 213.1 L891.6 212.9 L892.0 212.3 L892.4 211.5 L892.9 210.7 L893.3 210.1 L893.7 209.9 L894.1 210.0 L894.5 210.4 L894.9 210.9 L895.3 211.5 L895.7 212.1 L896.0 212.8 L896.2 213.3 L896.4 213.8 L896.5 214.3 L896.6 214.9 L896.8 215.5 L896.9 216.1 L897.0 216.7 L897.1 217.4 L897.2 218.0 L897.3 218.7 L897.4 219.3 L897.5 220.0 L897.6 220.6 L897.7 221.2 L897.8 221.8 L898.0 222.4 L898.1 223.0 L898.2 223.6 L898.3 224.3 L898.4 224.9 L898.5 225.5 L898.6 226.2 L898.8 226.8 L898.9 227.5 L899.0 228.1 L899.1 228.7 L899.3 229.4 L899.4 230.0 L899.5 230.6 L899.7 231.2 L899.8 231.8 L899.9 232.4 L900.1 233.0 L900.2 233.6 L900.4 234.2 L900.5 234.8 L900.7 235.4 L900.8 236.0 L901.0 236.6 L901.1 237.2 L901.3 237.8 L901.4 238.3 L901.6 238.9 L901.7 239.5 L901.9 240.0 L902.1 240.6 L902.3 241.2 L902.5 241.8 L902.7 242.4 L902.8 242.9 L903.0 243.5 L903.2 244.1 L903.4 244.6 L903.6 245.2 L903.8 245.8 L904.0 246.3 L904.2 246.9 L904.4 247.5 L904.6 248.1 L904.7 248.6 L904.9 249.2 L905.0 249.8 L905.2 250.4 L905.3 251.0 L905.4 251.6 L905.6 252.2 L905.7 252.8 L905.9 253.4 L906.1 254.0 L906.3 254.6 L906.5 255.1 L906.7 255.7 L906.9 256.2 L907.2 256.8 L907.5 257.4 L907.8 257.9 L908.2 258.5 L908.5 259.0 L908.9 259.6 L909.3 260.1 L909.6 260.6 L910.0 261.1 L910.4 261.6 L910.8 262.0 L911.2 262.5 L911.7 263.0 L912.2 263.5 L912.7 263.9 L913.3 264.3 L913.8 264.7 L914.3 265.1 L914.8 265.5 L915.2 266.0 L915.6 266.5 L915.9 267.0 L916.2 267.6 L916.4 268.1 L916.6 268.7 L916.7 269.3 L916.9 269.9 L917.0 270.5 L917.2 271.2 L917.3 271.8 L917.5 272.5 L917.6 273.1 L917.8 273.6 L917.9 274.2 L918.0 274.8 L918.1 275.4 L918.3 276.0 L918.4 276.7 L918.5 277.3 L918.6 277.9 L918.7 278.6 L918.8 279.2 L919.0 279.9 L919.1 280.6 L919.2 281.2 L919.3 281.9 L919.4 282.5 L919.5 283.1 L919.6 283.7 L919.7 284.4 L919.8 285.0 L919.9 285.6 L920.0 286.3 L920.1 286.9 L920.2 287.6 L920.3 288.2 L920.4 288.9 L920.5 289.5 L920.6 290.1 L920.7 290.8 L920.8 291.4 L920.9 292.0 L921.0 292.6 L921.1 293.1 L921.2 293.7 L921.3 294.4 L921.4 295.1 L921.5 295.7 L921.6 296.4 L921.8 297.0 L921.9 297.6 L922.0 298.3 L922.1 298.8 L922.2 299.4 L922.4 300.0 L922.5 300.5 L922.7 301.3 L923.0 302.1 L923.2 303.0 L923.5 303.6 L923.7 304.1 L924.0 304.3 L924.3 304.1 L924.5 303.7 L924.8 303.0 L925.1 302.2 L925.4 301.3 L925.6 300.5 L925.7 300.0 L925.9 299.5 L926.0 299.0 L926.1 298.4 L926.2 297.9 L926.3 297.3 L926.4 296.7 L926.5 296.0 L926.6 295.4 L926.7 294.7 L926.8 294.1 L927.0 293.4 L927.1 292.7 L927.2 292.0 L927.3 291.4 L927.4 290.7 L927.5 290.0 L927.6 289.4 L927.7 288.9 L927.8 288.3 L927.9 287.8 L928.0 287.2 L928.1 286.6 L928.2 286.0 L928.3 285.4 L928.4 284.8 L928.5 284.2 L928.6 283.6 L928.7 283.0 L928.8 282.4 L928.9 281.8 L929.0 281.2 L929.1 280.6 L929.2 279.9 L929.3 279.3 L929.4 278.7 L929.5 278.1 L929.6 277.5 L929.7 276.8 L929.8 276.2 L929.9 275.6 L930.0 275.0 L930.1 274.4 L930.2 273.8 L930.3 273.2 L930.4 272.6 L930.5 272.0 L930.6 271.4 L930.7 270.9 L930.7 270.3 L930.8 269.7 L930.9 269.1 L931.0 268.5 L931.1 267.9 L931.2 267.3 L931.3 266.7 L931.4 266.1 L931.5 265.5 L931.6 264.8 L931.7 264.2 L931.7 263.6 L931.8 263.0 L931.9 262.4 L932.0 261.8 L932.1 261.2 L932.2 260.6 L932.3 259.9 L932.4 259.3 L932.5 258.7 L932.6 258.1 L932.7 257.5 L932.8 256.9 L932.9 256.3 L933.0 255.7 L933.1 255.1 L933.2 254.4 L933.3 253.8 L933.4 253.2 L933.5 252.5 L933.6 251.9 L933.7 251.2 L933.8 250.6 L933.9 250.0 L934.0 249.3 L934.1 248.7 L934.2 248.0 L934.3 247.4 L934.4 246.8 L934.5 246.2 L934.6 245.6 L934.7 245.0 L934.8 244.4 L934.9 243.8 L934.9 243.2 L935.0 242.6 L935.1 242.1 L935.2 241.5 L935.3 241.0 L935.3 240.5 L935.4 240.0 L935.5 239.3 L935.6 238.6 L935.7 238.0 L935.7 237.4 L935.8 236.8 L935.9 236.2 L935.9 235.6 L936.0 235.1 L936.0 234.5 L936.1 233.9 L936.2 233.3 L936.2 232.6 L936.3 231.9 L936.4 231.2 L936.5 230.7 L936.5 230.2 L936.6 229.7 L936.6 229.2 L936.7 228.6 L936.8 228.1 L936.8 227.5 L936.9 226.9 L936.9 226.3 L937.0 225.8 L937.1 225.2 L937.1 224.5 L937.2 223.9 L937.3 223.3 L937.4 222.7 L937.4 222.1 L937.5 221.4 L937.6 220.8 L937.6 220.1 L937.7 219.5 L937.8 218.9 L937.9 218.2 L937.9 217.6 L938.0 216.9 L938.1 216.3 L938.2 215.6 L938.2 215.0 L938.3 214.3 L938.4 213.7 L938.5 213.1 L938.5 212.4 L938.6 211.8 L938.7 211.2 L938.8 210.6 L938.8 210.0 L938.9 209.4 L939.0 208.8 L939.1 208.2 L939.2 207.6 L939.2 207.0 L939.3 206.4 L939.4 205.8 L939.5 205.2 L939.5 204.6 L939.6 204.0 L939.7 203.3 L939.8 202.7 L939.9 202.1 L939.9 201.5 L940.0 200.9 L940.1 200.3 L940.2 199.7 L940.3 199.1 L940.3 198.5 L940.4 197.9 L940.5 197.2 L940.6 196.6 L940.7 196.0 L940.8 195.4 L940.8 194.8 L940.9 194.2 L941.0 193.6 L941.1 193.0 L941.2 192.4 L941.3 191.8 L941.3 191.2 L941.4 190.6 L941.5 190.0 L941.6 189.4 L941.7 188.8 L941.8 188.1 L941.8 187.5 L941.9 186.9 L942.0 186.3 L942.1 185.7 L942.2 185.0 L942.3 184.4 L942.3 183.8 L942.4 183.1 L942.5 182.5 L942.6 181.9 L942.7 181.3 L942.8 180.7 L942.8 180.0 L942.9 179.4 L943.0 178.8 L943.1 178.2 L943.2 177.6 L943.3 177.0 L943.4 176.4 L943.5 175.8 L943.5 175.2 L943.6 174.6 L943.7 174.0 L943.8 173.4 L943.9 172.8 L944.0 172.2 L944.1 171.7 L944.2 171.1 L944.3 170.6 L944.4 170.0 L944.5 169.3 L944.6 168.7 L944.8 168.1 L944.9 167.4 L945.0 166.8 L945.2 166.2 L945.3 165.6 L945.4 165.0 L945.6 164.4 L945.7 163.8 L945.8 163.2 L946.0 162.6 L946.1 162.0 L946.2 161.4 L946.4 160.8 L946.5 160.3 L946.7 159.7 L946.8 159.1 L946.9 158.5 L947.1 157.9 L947.2 157.4 L947.4 156.8 L947.5 156.2 L947.6 155.6 L947.8 155.0 L947.9 154.4 L948.1 153.7 L948.2 153.1 L948.4 152.5 L948.5 151.9 L948.6 151.3 L948.8 150.6 L948.9 150.0 L949.1 149.4 L949.2 148.8 L949.4 148.2 L949.5 147.6 L949.7 147.0 L949.8 146.5 L950.0 145.9 L950.1 145.3 L950.3 144.8 L950.4 144.2 L950.6 143.7 L950.8 143.0 L951.1 142.3 L951.3 141.5 L951.6 140.8 L951.9 140.0 L952.2 139.2 L952.5 138.5 L952.8 137.8 L953.0 137.2 L953.3 136.7 L953.4 136.2 L953.6 135.9 L953.7 135.7 L953.7 135.6"/>
<path stroke="#0000ff" d="M122.5 284.7 L122.5 284.7 L122.7 284.7 L122.9 285.0 L123.2 285.4 L123.6 285.3 L124.1 285.2 L124.6 285.5 L125.1 285.7 L125.8 285.5 L126.4 285.1 L127.1 284.8 L127.9 284.7 L128.6 284.6 L129.4 284.2 L130.2 284.0 L131.0 284.3 L131.8 285.0 L132.6 285.4 L133.4 285.6 L134.1 285.4 L134.9 285.3 L135.6 285.6 L136.3 286.0 L136.9 286.0 L137.5 285.4 L138.1 284.8 L138.7 284.3 L139.3 284.0 L139.9 283.7 L140.5 284.0 L141.0 284.4 L141.6 284.2 L142.2 284.4 L142.7 284.5 L143.3 284.2 L143.8 284.2 L144.4 284.2 L145.0 283.9 L145.5 283.2 L146.1 282.4 L146.7 282.0 L147.3 281.8 L148.0 281.9 L148.6 281.9 L149.3 281.7 L150.0 280.9 L150.5 280.5 L151.0 280.5 L151.6 280.8 L152.1 281.2 L152.7 280.8 L153.3 280.8 L153.8 281.4 L154.4 281.6 L155.1 281.2 L155.7 281.2 L156.3 281.1 L156.9 281.0 L157.6 281.0 L158.2 281.1 L158.9 280.9 L159.5 281.2 L160.2 281.7 L160.8 281.6 L161.5 281.2 L162.2 281.6 L162.8 281.9 L163.5 281.5 L164.1 281.3 L164.8 281.6 L165.5 282.0 L166.1 281.8 L166.8 281.4 L167.4 281.2 L168.1 281.2 L168.7 281.2 L169.3 281.5 L169.9 281.5 L170.5 280.2 L171.1 279.5 L171.7 280.5 L172.3 281.4 L172.9 281.8 L173.4 281.7 L174.0 281.9 L174.5 282.2 L175.0 282.3 L175.7 282.1 L176.4 282.4 L177.0 283.0 L177.7 282.9 L178.3 283.0 L178.9 283.6 L179.5 283.5 L180.1 282.7 L180.7 282.5 L181.3 282.8 L181.8 282.7 L182.4 282.5 L182.9 282.7 L183.5 283.5 L184.1 284.1 L184.6 283.8 L185.2 283.7 L185.8 284.2 L186.3 284.7 L186.9 285.1 L187.5 285.0 L188.1 284.5 L188.7 284.1 L189.3 283.7 L189.9 283.7 L190.5 284.2 L191.1 284.4 L191.7 283.9 L192.3 283.2 L192.9 282.6 L193.5 282.1 L194.0 281.8 L194.6 281.7 L195.2 281.4 L195.8 281.0 L196.4 280.9 L197.0 281.1 L197.6 280.8 L198.2 279.9 L198.8 279.6 L199.4 280.2 L200.0 280.6 L200.6 280.2 L201.2 279.8 L201.8 279.8 L202.4 279.9 L203.0 279.8 L203.6 279.9 L204.2 279.9 L204.8 279.9 L205.4 279.5 L206.0 278.8 L206.6 278.2 L207.2 278.3 L207.8 278.8 L208.4 279.1 L209.0 278.9 L209.6 278.6 L210.2 278.8 L210.8 278.8 L211.3 278.4 L211.9 277.9 L212.5 277.9 L213.1 278.2 L213.7 277.9 L214.3 277.3 L214.9 277.0 L215.5 276.7 L216.1 276.8 L216.7 277.1 L217.3 276.8 L217.9 276.2 L218.5 275.9 L219.1 275.7 L219.7 275.4 L220.3 275.2 L220.9 274.9 L221.4 274.5 L222.0 274.8 L222.6 275.2 L223.1 274.8 L223.7 274.3 L224.3 274.3 L224.9 274.5 L225.5 275.0 L226.1 275.3 L226.7 275.0 L227.3 274.8 L227.9 275.0 L228.5 275.4 L229.0 275.6 L229.6 276.0 L230.2 276.4 L230.8 277.0 L231.3 277.7 L231.9 277.9 L232.5 277.4 L233.0 276.4 L233.5 276.4 L234.0 277.6 L234.5 278.4 L235.0 278.3 L235.5 278.0 L236.0 277.8 L236.5 278.1 L237.0 278.8 L237.5 279.7 L238.0 280.6 L238.5 280.9 L239.0 281.0 L239.5 281.0 L240.0 281.4 L240.5 282.0 L241.0 282.7 L241.5 283.3 L242.0 283.7 L242.5 284.2 L242.9 284.3 L243.4 284.6 L243.8 285.1 L244.3 285.8 L244.7 286.1 L245.1 286.3 L245.6 286.4 L246.0 286.1 L246.5 285.9 L246.9 286.4 L247.4 287.5 L247.8 287.9 L248.3 288.3 L248.7 289.2 L249.2 289.8 L249.6 289.7 L250.1 290.0 L250.5 290.5 L251.0 290.7 L251.4 290.8 L251.9 291.7 L252.3 293.1 L252.8 294.1 L253.2 294.2 L253.7 293.9 L254.1 293.9 L254.6 294.0 L255.0 294.0 L255.4 294.6 L255.8 295.8 L256.3 296.6 L256.7 297.1 L257.1 297.5 L257.5 297.7 L257.9 298.1 L258.4 298.6 L258.8 299.2 L259.2 299.7 L259.6 300.2 L260.0 300.8 L260.4 301.6 L260.8 302.3 L261.2 302.5 L261.6 302.9 L262.0 303.2 L262.5 303.4 L262.9 303.8 L263.3 304.2 L263.7 304.7 L264.1 304.9 L264.5 305.3 L264.9 306.2 L265.4 307.2 L265.8 307.8 L266.2 308.0 L266.6 307.8 L267.1 308.0 L267.5 308.7 L267.9 309.2 L268.4 309.5 L268.8 310.2 L269.3 310.5 L269.7 310.6 L270.1 310.8 L270.6 311.0 L271.0 311.4 L271.5 312.0 L271.9 312.3 L272.4 312.7 L272.8 313.3 L273.3 314.0 L273.8 314.4 L274.2 314.6 L274.7 314.8 L275.1 315.6 L275.6 316.6 L276.0 316.7 L276.5 316.8 L276.9 317.7 L277.4 318.5 L277.9 318.8 L278.3 319.1 L278.8 319.1 L279.2 319.7 L279.7 320.8 L280.1 321.6 L280.6 321.4 L281.0 320.7 L281.5 320.6 L281.9 321.3 L282.4 321.7 L282.8 322.2 L283.3 322.9 L283.8 324.1 L284.2 324.9 L284.7 325.1 L285.2 325.2 L285.6 325.4 L286.1 325.9 L286.5 326.5 L287.0 327.0 L287.5 327.4 L287.9 328.0 L288.4 328.9 L288.8 329.5 L289.3 329.9 L289.7 329.8 L290.2 329.2 L290.6 329.4 L291.0 330.3 L291.4 330.8 L291.9 331.0 L292.3 331.3 L292.7 331.5 L293.1 331.6 L293.5 332.0 L294.0 332.5 L294.5 332.6 L295.0 333.0 L295.5 333.9 L296.0 334.3 L296.4 334.2 L296.9 334.7 L297.4 335.7 L297.8 336.5 L298.3 337.1 L298.7 337.5 L299.2 337.3 L299.6 337.1 L300.1 337.5 L300.5 338.2 L301.0 338.7 L301.6 339.4 L302.1 340.1 L302.6 340.4 L303.2 340.5 L303.7 340.4 L304.3 340.3 L304.8 340.2 L305.4 340.0 L306.0 340.0 L306.6 340.1 L307.2 340.2 L307.7 340.4 L308.2 341.0 L308.8 341.3 L309.3 341.4 L309.9 341.7 L310.5 341.7 L311.1 341.0 L311.7 339.9 L312.3 339.4 L312.9 339.6 L313.5 339.8 L314.1 339.8 L314.8 339.6 L315.4 339.3 L316.0 338.7 L316.6 338.0 L317.3 337.0 L317.9 336.4 L318.5 336.9 L319.1 337.4 L319.7 337.1 L320.2 337.0 L320.8 336.8 L321.4 336.6 L322.0 336.7 L322.6 336.5 L323.2 336.3 L323.8 336.5 L324.4 336.8 L325.0 336.7 L325.6 336.7 L326.2 337.4 L326.8 337.9 L327.4 337.4 L328.0 336.0 L328.6 335.2 L329.2 335.0 L329.8 335.4 L330.4 335.4 L331.0 334.7 L331.6 334.5 L332.2 335.0 L332.8 335.2 L333.4 334.7 L334.0 333.9 L334.6 333.4 L335.2 333.7 L335.8 334.4 L336.4 334.8 L337.0 334.6 L337.5 333.5 L338.1 332.9 L338.7 333.3 L339.3 333.7 L339.9 334.0 L340.5 334.3 L341.1 334.5 L341.7 334.6 L342.3 334.0 L342.9 333.2 L343.5 333.5 L344.1 334.1 L344.7 334.0 L345.3 333.9 L345.9 333.7 L346.5 334.0 L347.1 334.6 L347.7 334.7 L348.3 334.3 L348.9 334.0 L349.5 333.6 L350.1 333.9 L350.7 334.4 L351.3 334.4 L351.9 334.3 L352.5 334.8 L353.1 335.4 L353.7 335.8 L354.3 335.6 L354.8 335.0 L355.4 334.7 L356.0 334.8 L356.6 335.3 L357.3 336.0 L358.0 336.3 L358.6 335.9 L359.3 335.2 L360.0 334.7 L360.6 334.5 L361.3 334.1 L361.9 333.5 L362.6 333.0 L363.2 333.2 L363.9 333.5 L364.5 332.8 L365.1 332.4 L365.6 333.1 L366.2 334.1 L366.7 334.1 L367.2 333.4 L367.9 333.0 L368.5 333.1 L369.1 333.3 L369.7 333.7 L370.2 333.8 L370.7 333.9 L371.2 334.4 L371.7 335.0 L372.2 335.5 L372.6 336.2 L372.9 337.6 L373.3 338.4 L373.6 338.3 L373.9 338.4 L374.2 339.0 L374.6 339.4 L374.9 340.0 L375.2 340.8 L375.5 340.9 L375.8 341.1 L376.0 341.7 L376.3 342.5 L376.6 343.6 L376.9 345.0 L377.2 346.0 L377.4 346.2 L377.7 346.0 L377.9 346.1 L378.1 346.6 L378.4 347.4 L378.6 348.5 L378.8 349.5 L379.1 350.0 L379.3 350.2 L379.5 350.7 L379.7 351.5 L379.9 352.1 L380.1 352.5 L380.4 353.3 L380.6 354.0 L380.8 354.1 L381.0 354.6 L381.2 355.7 L381.4 357.1 L381.6 357.9 L381.8 358.2 L382.0 358.5 L382.2 358.8 L382.5 359.0 L382.8 359.4 L383.1 360.4 L383.4 361.2 L383.7 361.7 L384.1 362.5 L384.4 362.7 L384.7 362.2 L385.1 362.0 L385.5 361.8 L385.9 361.5 L386.4 360.8 L386.8 360.0 L387.2 359.7 L387.6 359.6 L388.0 359.1 L388.4 358.3 L388.8 357.5 L389.2 356.9 L389.7 356.4 L390.1 356.7 L390.5 356.8 L391.0 356.8 L391.4 356.9 L391.9 357.0 L392.4 357.5 L392.9 358.6 L393.5 359.6 L394.0 360.0 L394.5 359.8 L395.1 359.8 L395.6 360.5 L396.2 361.5 L396.8 361.5 L397.4 360.9 L398.1 360.7 L398.7 361.0 L399.3 361.7 L399.9 362.6 L400.5 363.3 L401.0 363.4 L401.7 363.0 L402.3 362.3 L403.0 361.8 L403.7 361.6 L404.3 362.3 L404.9 363.2 L405.5 363.7 L406.0 363.9 L406.5 364.2 L406.8 365.1 L407.1 365.7 L407.4 366.1 L407.6 366.1 L407.8 366.1 L407.9 366.9 L408.1 368.3 L408.2 369.7 L408.3 370.2 L408.5 370.6 L408.6 371.3 L408.8 372.0 L409.0 372.7 L409.2 373.1 L409.5 373.4 L409.7 374.0 L409.9 374.5 L410.2 374.9 L410.4 375.7 L410.7 376.3 L410.9 376.8 L411.2 377.3 L411.5 378.1 L411.9 379.0 L412.3 379.8 L412.7 380.5 L413.1 381.0 L413.6 381.2 L414.0 380.5 L414.4 379.8 L414.8 379.6 L415.2 379.8 L415.6 379.6 L416.0 379.0 L416.4 378.0 L416.8 377.2 L417.2 377.2 L417.4 377.0 L417.6 375.8 L417.8 374.6 L418.0 374.2 L418.2 374.0 L418.4 373.4 L418.6 372.9 L418.8 372.6 L419.0 372.0 L419.1 371.1 L419.3 370.2 L419.5 369.6 L419.7 369.3 L419.8 368.9 L420.0 368.3 L420.2 367.5 L420.4 367.0 L420.6 366.6 L420.8 366.0 L421.0 365.6 L421.2 365.1 L421.4 364.2 L421.6 363.2 L421.8 362.4 L422.0 362.0 L422.2 361.4 L422.3 360.6 L422.5 360.2 L422.7 360.4 L422.9 360.5 L423.1 359.5 L423.3 358.3 L423.6 357.4 L423.8 356.5 L424.0 355.8 L424.2 355.0 L424.4 354.5 L424.6 354.3 L424.8 353.8 L425.1 353.1 L425.3 352.3 L425.5 351.8 L425.8 351.4 L426.0 351.2 L426.3 350.6 L426.6 350.2 L426.9 349.9 L427.2 349.0 L427.5 348.0 L427.8 347.5 L428.1 347.0 L428.5 345.8 L428.8 345.0 L429.1 345.2 L429.5 345.4 L429.8 345.2 L430.2 344.8 L430.6 344.4 L431.0 344.3 L431.4 344.1 L431.9 343.6 L432.3 342.9 L432.8 342.3 L433.2 342.1 L433.7 341.5 L434.2 340.7 L434.7 339.8 L435.2 339.7 L435.7 339.7 L436.2 339.7 L436.8 339.7 L437.3 339.3 L437.9 338.6 L438.5 338.5 L439.0 338.9 L439.5 338.7 L440.0 338.0 L440.6 337.5 L441.2 337.6 L441.7 337.3 L442.3 336.6 L442.9 336.0 L443.5 335.6 L444.1 335.7 L444.7 335.7 L445.4 335.7 L446.0 335.4 L446.6 335.1 L447.2 335.1 L447.8 334.8 L448.3 334.4 L448.9 334.4 L449.5 334.4 L450.0 333.8 L450.5 333.2 L451.0 332.9 L451.6 332.7 L452.1 332.5 L452.6 332.5 L453.1 332.1 L453.6 331.4 L454.1 330.9 L454.6 330.8 L455.0 330.6 L455.5 330.4 L456.0 330.5 L456.4 330.2 L456.9 329.0 L457.4 328.4 L457.9 328.6 L458.5 328.7 L459.1 328.6 L459.6 328.1 L460.2 328.1 L460.8 328.6 L461.4 328.8 L462.0 328.6 L462.7 328.3 L463.3 327.9 L463.9 327.7 L464.6 328.0 L465.2 328.5 L465.9 328.5 L466.5 328.2 L467.2 328.3 L467.8 328.5 L468.5 328.4 L469.1 328.0 L469.7 327.9 L470.3 328.4 L470.9 328.9 L471.5 328.6 L472.1 327.9 L472.8 327.2 L473.4 327.0 L474.0 326.5 L474.7 326.3 L475.3 326.6 L475.9 327.0 L476.6 327.4 L477.2 327.4 L477.8 327.4 L478.5 327.8 L479.1 328.3 L479.7 328.2 L480.4 328.2 L481.0 328.4 L481.6 328.2 L482.3 327.8 L482.9 327.7 L483.5 327.5 L484.1 326.6 L484.8 326.1 L485.4 325.9 L486.0 325.7 L486.6 326.1 L487.3 326.8 L487.9 326.8 L488.5 326.8 L489.1 326.6 L489.8 326.3 L490.4 326.1 L491.0 325.9 L491.6 325.7 L492.3 325.9 L492.9 326.0 L493.5 325.9 L494.1 326.0 L494.7 326.6 L495.3 326.8 L495.9 326.4 L496.6 325.6 L497.2 324.9 L497.8 324.5 L498.5 324.7 L499.1 325.3 L499.7 325.8 L500.3 325.6 L500.9 325.1 L501.5 324.7 L502.1 324.6 L502.7 324.8 L503.3 325.0 L503.9 325.0 L504.4 324.6 L505.0 324.1 L505.5 322.8 L506.0 322.0 L506.7 321.9 L507.3 322.4 L507.9 323.2 L508.4 323.6 L509.0 323.2 L509.5 322.9 L510.1 322.4 L510.7 322.1 L511.2 322.2 L511.8 322.7 L512.5 322.4 L513.0 322.4 L513.6 322.9 L514.2 322.8 L514.8 322.4 L515.4 322.1 L516.1 321.7 L516.7 321.9 L517.4 322.8 L518.0 323.8 L518.7 323.9 L519.4 323.8 L520.0 324.0 L520.7 324.1 L521.3 324.4 L521.9 324.1 L522.5 323.8 L523.1 324.2 L523.7 324.2 L524.2 323.9 L524.8 324.0 L525.3 324.4 L525.8 323.7 L526.4 321.8 L526.9 321.1 L527.4 322.0 L527.9 321.8 L528.4 321.1 L528.9 320.7 L529.3 320.5 L529.8 319.9 L530.3 318.8 L530.7 318.1 L531.2 318.2 L531.6 318.7 L532.1 318.8 L532.5 318.7 L533.0 317.9 L533.5 316.4 L534.0 315.7 L534.5 315.7 L535.0 315.1 L535.5 314.7 L535.9 314.6 L536.4 314.0 L536.8 312.9 L537.2 312.6 L537.6 312.9 L538.0 312.7 L538.4 312.5 L538.8 313.0 L539.1 314.2 L539.4 314.8 L539.8 315.2 L540.1 315.8 L540.4 316.3 L540.8 316.5 L541.2 316.6 L541.6 317.2 L541.9 317.6 L542.4 317.2 L542.8 316.6 L543.2 315.8 L543.7 315.3 L544.1 314.7 L544.6 313.5 L545.1 312.8 L545.5 312.4 L546.0 311.1 L546.4 309.7 L546.8 309.6 L547.2 310.1 L547.5 309.8 L547.8 310.1 L548.1 310.6 L548.4 310.3 L548.6 309.7 L548.8 310.2 L549.0 311.8 L549.2 313.0 L549.5 314.2 L549.7 315.1 L550.0 315.3 L550.3 314.9 L550.7 315.2 L551.1 316.0 L551.5 315.6 L552.0 314.6 L552.5 314.2 L553.0 314.5 L553.5 314.1 L554.0 313.9 L554.6 314.4 L555.1 314.4 L555.7 313.2 L556.3 311.2 L556.9 309.9 L557.5 310.4 L558.1 311.3 L558.7 311.9 L559.3 312.4 L559.9 312.2 L560.6 311.7 L561.2 311.8 L561.9 311.8 L562.6 311.8 L563.3 311.8 L563.9 311.6 L564.6 312.1 L565.2 311.8 L565.8 310.7 L566.4 310.5 L567.0 310.5 L567.5 310.0 L568.2 309.7 L568.8 309.5 L569.4 309.2 L570.0 308.2 L570.6 307.8 L571.1 308.6 L571.6 308.7 L572.1 308.4 L572.5 308.9 L572.9 309.1 L573.3 308.4 L573.6 308.5 L573.9 309.8 L574.1 310.9 L574.4 311.2 L574.7 311.6 L575.0 312.5 L575.3 312.8 L575.6 313.1 L575.8 312.7 L576.1 310.9 L576.4 309.7 L576.7 309.3 L577.0 308.6 L577.3 308.1 L577.5 308.3 L577.8 308.7 L578.0 308.1 L578.1 307.3 L578.2 306.9 L578.3 306.6 L578.4 306.3 L578.4 307.1 L578.5 308.0 L578.5 308.3 L578.5 309.0 L578.6 310.0 L578.6 311.6 L578.6 313.5 L578.6 314.1 L578.6 313.8 L578.6 313.9 L578.6 314.8 L578.6 315.8 L578.6 317.1 L578.6 319.0 L578.6 321.2 L578.6 322.3 L578.7 323.1 L578.7 324.0 L578.7 324.1 L578.8 322.9 L578.8 322.5 L578.9 323.5 L578.9 324.5 L579.0 324.8 L579.1 325.3 L579.2 326.5 L579.4 327.2 L579.5 326.7 L579.8 326.3 L580.1 326.1 L580.4 325.2 L580.8 324.2 L581.2 323.2 L581.6 322.5 L582.0 322.8 L582.4 322.5 L582.9 321.7 L583.3 320.9 L583.7 320.1 L584.2 319.6 L584.8 320.2 L585.3 320.4 L585.9 320.5 L586.4 320.2 L587.0 318.8 L587.5 317.6 L587.8 316.8 L588.1 316.3 L588.4 316.1 L588.8 315.1 L589.1 314.4 L589.4 313.9 L589.7 313.2 L590.0 312.6 L590.3 312.4 L590.5 311.2 L590.8 309.5 L591.1 308.7 L591.4 308.6 L591.7 308.5 L592.0 308.6 L592.2 308.4 L592.5 307.3 L592.9 306.5 L593.2 307.4 L593.6 309.1 L593.9 310.8 L594.3 312.1 L594.7 312.4 L595.1 312.8 L595.5 313.2 L595.9 313.1 L596.3 313.0 L596.8 312.8 L597.2 312.1 L597.7 311.5 L598.2 311.4 L598.7 311.5 L599.2 310.5 L599.7 308.5 L600.2 306.5 L600.7 306.0 L601.2 306.3 L601.7 306.3 L602.2 305.8 L602.8 305.3 L603.3 305.5 L603.9 306.0 L604.4 305.7 L604.9 304.9 L605.5 304.4 L606.0 303.8 L606.5 303.5 L607.0 303.7 L607.5 304.7 L607.9 305.5 L608.3 305.1 L608.7 304.6 L609.1 304.4 L609.5 305.7 L609.8 307.6 L610.2 307.9 L610.5 307.5 L610.9 307.2 L611.3 307.9 L611.6 309.0 L612.1 310.1 L612.5 310.8 L613.0 311.1 L613.6 310.1 L614.1 308.9 L614.7 308.2 L615.3 308.8 L616.0 309.4 L616.6 308.6 L617.1 307.8 L617.7 308.1 L618.2 308.5 L618.7 308.0 L619.0 307.1 L619.4 306.4 L619.7 306.3 L620.0 305.2 L620.3 303.9 L620.5 303.7 L620.8 302.8 L621.0 301.2 L621.3 299.4 L621.5 298.3 L621.7 298.1 L621.9 298.3 L622.1 297.6 L622.3 296.7 L622.5 296.6 L622.7 296.7 L622.9 296.2 L623.0 295.5 L623.2 294.5 L623.4 294.2 L623.5 295.1 L623.6 296.3 L623.7 297.5 L623.8 298.3 L623.8 298.6 L623.9 299.3 L624.0 300.6 L624.0 301.5 L624.1 301.8 L624.2 301.7 L624.4 301.5 L624.5 302.0 L624.7 303.0 L625.0 304.3 L625.4 305.3 L625.9 305.6 L626.4 306.4 L626.9 306.8 L627.5 307.0 L628.1 307.6 L628.7 307.9 L629.3 307.2 L630.0 306.8 L630.4 307.6 L630.9 308.3 L631.4 308.6 L631.9 308.0 L632.4 307.1 L632.9 307.0 L633.4 307.0 L633.9 306.7 L634.5 306.3 L635.0 305.8 L635.6 305.2 L636.1 305.0 L636.7 304.7 L637.2 303.7 L637.8 302.8 L638.4 302.1 L638.9 301.8 L639.5 302.2 L640.0 303.0 L640.6 303.3 L641.2 303.0 L641.7 302.7 L642.3 302.1 L642.9 300.5 L643.5 299.3 L644.1 299.8 L644.7 300.3 L645.3 300.2 L645.8 300.7 L646.4 300.8 L647.0 299.9 L647.6 299.6 L648.2 299.4 L648.8 298.5 L649.4 298.5 L650.0 299.6 L650.6 300.6 L651.2 301.0 L651.9 301.1 L652.5 300.9 L653.1 299.5 L653.7 298.1 L654.4 298.2 L655.0 298.6 L655.6 298.0 L656.2 297.2 L656.9 297.2 L657.5 297.4 L658.1 298.0 L658.7 298.4 L659.4 297.8 L660.0 297.0 L660.6 296.9 L661.3 297.6 L661.9 298.7 L662.6 298.6 L663.2 297.6 L663.9 296.4 L664.6 295.8 L665.2 295.5 L665.9 295.2 L666.5 295.5 L667.2 295.5 L667.8 295.7 L668.4 295.9 L668.9 295.8 L669.5 296.4 L670.0 297.0 L670.6 297.5 L671.3 297.7 L671.8 297.8 L672.4 297.7 L672.9 297.6 L673.4 297.8 L673.9 298.0 L674.5 298.5 L675.0 299.3 L675.4 299.7 L675.9 299.6 L676.3 299.7 L676.7 300.6 L677.2 301.1 L677.6 301.2 L678.0 301.6 L678.5 302.5 L678.9 303.3 L679.4 303.9 L679.8 304.4 L680.3 304.9 L680.7 305.1 L681.2 305.3 L681.8 305.8 L682.3 305.9 L682.9 305.7 L683.5 305.6 L684.2 305.7 L684.8 305.6 L685.4 305.6 L686.0 306.1 L686.5 307.2 L687.0 307.7 L687.5 307.7 L687.9 307.7 L688.3 307.7 L688.6 308.1 L688.9 309.0 L689.2 309.8 L689.5 310.1 L689.8 310.0 L690.0 311.7 L690.3 312.3 L690.5 313.0 L690.8 313.6 L691.0 314.3 L691.2 315.0 L691.4 315.5 L691.5 316.0 L691.7 316.5 L691.8 317.1 L691.9 317.6 L692.0 318.1 L692.2 318.7 L692.3 319.3 L692.4 319.8 L692.5 320.4 L692.6 321.0 L692.7 321.6 L692.8 322.2 L692.9 322.8 L693.0 323.4 L693.1 324.1 L693.2 324.7 L693.2 325.4 L693.3 326.0 L693.4 326.7 L693.5 327.3 L693.6 328.0 L693.7 328.7 L693.8 329.2 L693.8 329.8 L693.9 330.3 L694.0 330.9 L694.1 331.4 L694.1 332.0 L694.2 332.6 L694.3 333.2 L694.3 333.7 L694.4 334.4 L694.5 335.0 L694.5 335.6 L694.6 336.2 L694.6 336.8 L694.7 337.4 L694.8 338.1 L694.8 338.7 L694.9 339.3 L694.9 340.0 L695.0 340.6 L695.1 341.3 L695.1 341.9 L695.2 342.6 L695.2 343.2 L695.3 343.9 L695.4 344.5 L695.4 345.1 L695.5 345.8 L695.5 346.4 L695.6 347.0 L695.6 347.7 L695.7 348.3 L695.7 348.9 L695.8 349.5 L695.9 350.2 L695.9 350.8 L696.0 351.4 L696.0 352.0 L696.1 352.6 L696.1 353.1 L696.2 353.7 L696.3 354.3 L696.3 355.0 L696.4 355.6 L696.5 356.2 L696.5 356.9 L696.6 357.5 L696.6 358.1 L696.7 358.7 L696.8 359.3 L696.8 359.9 L696.9 360.5 L697.0 361.1 L697.0 361.7 L697.1 362.3 L697.1 362.9 L697.2 363.5 L697.3 364.0 L697.3 364.6 L697.4 365.2 L697.4 365.8 L697.5 366.4 L697.6 367.0 L697.6 367.6 L697.7 368.2 L697.7 368.8 L697.8 369.4 L697.9 370.0 L697.9 370.6 L698.0 371.2 L698.0 371.9 L698.1 372.5 L698.2 373.1 L698.2 373.7 L698.3 374.3 L698.3 374.9 L698.4 375.5 L698.4 376.1 L698.5 376.7 L698.5 377.3 L698.6 377.9 L698.6 378.5 L698.7 379.1 L698.7 379.7 L698.8 380.4 L698.8 381.0 L698.9 381.6 L698.9 382.2 L699.0 382.9 L699.0 383.5 L699.1 384.1 L699.1 384.7 L699.2 385.4 L699.2 386.0 L699.3 386.6 L699.3 387.2 L699.4 387.8 L699.4 388.5 L699.5 389.1 L699.5 389.7 L699.6 390.3 L699.6 390.9 L699.7 391.5 L699.7 392.1 L699.8 392.7 L699.8 393.3 L699.9 393.8 L699.9 394.4 L700.0 395.0 L700.1 395.6 L700.1 396.3 L700.2 396.9 L700.2 397.6 L700.3 398.2 L700.4 398.8 L700.4 399.4 L700.5 400.1 L700.6 400.7 L700.6 401.3 L700.7 401.9 L700.8 402.5 L700.8 403.2 L700.9 403.8 L701.0 404.4 L701.0 405.0 L701.1 405.6 L701.2 406.2 L701.2 406.8 L701.3 407.4 L701.4 407.9 L701.4 408.5 L701.5 409.1 L701.6 409.7 L701.6 410.3 L701.7 410.8 L701.8 411.4 L701.8 411.9 L701.9 412.5 L702.0 413.1 L702.1 413.8 L702.1 414.4 L702.2 415.1 L702.3 415.7 L702.4 416.4 L702.4 417.0 L702.5 417.6 L702.6 418.3 L702.7 418.9 L702.8 419.5 L702.8 420.1 L702.9 420.7 L703.0 421.3 L703.1 421.8 L703.2 422.4 L703.3 422.9 L703.4 423.5 L703.5 424.0 L703.6 424.5 L703.7 425.0 L703.9 425.7 L704.0 426.5 L704.2 427.2 L704.3 427.9 L704.5 428.6 L704.7 429.3 L704.9 429.8 L705.1 430.3 L705.3 430.7 L705.6 431.0 L706.2 431.3 L706.9 431.3 L707.5 431.0 L707.8 430.7 L708.1 430.3 L708.3 429.8 L708.6 429.2 L708.8 428.5 L709.1 427.8 L709.3 427.0 L709.5 426.3 L709.8 425.6 L710.0 425.0 L710.2 424.4 L710.5 423.8 L710.7 423.1 L710.9 422.5 L711.2 421.8 L711.4 421.2 L711.6 420.6 L711.9 420.1 L712.2 419.6 L712.5 419.2 L713.1 418.6 L713.7 418.1 L714.4 417.8 L715.0 417.7 L715.4 417.9 L715.8 418.2 L716.2 418.7 L716.5 419.2 L716.9 419.8 L717.2 420.5 L717.5 421.2 L717.7 421.6 L717.8 422.1 L718.0 422.6 L718.1 423.1 L718.2 423.6 L718.3 424.2 L718.4 424.8 L718.5 425.4 L718.6 426.0 L718.7 426.6 L718.8 427.3 L718.8 427.9 L718.9 428.6 L719.0 429.2 L719.1 429.9 L719.1 430.6 L719.2 431.2 L719.3 431.9 L719.4 432.5 L719.5 433.1 L719.6 433.6 L719.6 434.2 L719.7 434.8 L719.8 435.4 L719.9 436.0 L719.9 436.6 L720.0 437.2 L720.1 437.8 L720.2 438.4 L720.2 439.0 L720.3 439.6 L720.4 440.3 L720.5 440.9 L720.5 441.5 L720.6 442.1 L720.7 442.7 L720.7 443.3 L720.8 443.9 L720.9 444.6 L720.9 445.2 L721.0 445.7 L721.1 446.3 L721.1 446.9 L721.2 447.5 L721.3 448.2 L721.3 448.8 L721.4 449.4 L721.5 450.1 L721.5 450.7 L721.6 451.3 L721.6 452.0 L721.7 452.6 L721.7 453.2 L721.8 453.8 L721.8 454.5 L721.9 455.1 L722.0 455.7 L722.0 456.3 L722.1 456.9 L722.2 457.5 L722.2 458.2 L722.3 458.8 L722.4 459.4 L722.5 460.0 L722.6 460.6 L722.7 461.2 L722.8 461.9 L722.9 462.5 L723.0 463.2 L723.1 463.8 L723.2 464.5 L723.3 465.1 L723.4 465.8 L723.5 466.4 L723.6 467.0 L723.8 467.7 L723.9 468.3 L724.0 468.9 L724.2 469.5 L724.3 470.0 L724.5 470.5 L724.6 471.1 L724.8 471.5 L725.0 472.0 L725.3 472.7 L725.6 473.4 L726.0 474.1 L726.4 474.7 L726.7 475.3 L727.1 475.8 L727.5 476.2 L727.8 476.5 L728.1 476.5 L728.3 476.4 L728.5 476.1 L728.6 475.8 L728.8 475.3 L728.9 474.8 L729.1 474.1 L729.2 473.4 L729.3 472.7 L729.4 471.9 L729.5 471.1 L729.6 470.3 L729.7 469.5 L729.9 468.7 L730.0 467.9 L730.1 467.2 L730.2 466.6 L730.3 466.0 L730.5 465.3 L730.6 464.7 L730.8 464.1 L730.9 463.6 L731.1 463.0 L731.2 462.5 L731.4 461.9 L731.5 461.3 L731.7 460.7 L731.8 460.0 L731.9 459.5 L732.0 459.0 L732.1 458.4 L732.2 457.9 L732.3 457.3 L732.4 456.8 L732.5 456.2 L732.5 455.6 L732.6 455.0 L732.7 454.4 L732.8 453.7 L732.9 453.1 L733.0 452.5 L733.1 451.8 L733.1 451.2 L733.2 450.6 L733.3 449.9 L733.4 449.3 L733.5 448.6 L733.6 448.0 L733.7 447.4 L733.8 446.9 L733.8 446.3 L733.9 445.7 L734.0 445.0 L734.1 444.4 L734.1 443.8 L734.2 443.2 L734.3 442.5 L734.4 441.9 L734.4 441.2 L734.5 440.6 L734.6 439.9 L734.7 439.3 L734.8 438.7 L734.8 438.1 L734.9 437.4 L735.0 436.8 L735.1 436.2 L735.2 435.6 L735.3 435.1 L735.4 434.5 L735.5 434.0 L735.6 433.5 L735.7 433.0 L735.8 432.5 L736.0 431.8 L736.2 431.1 L736.4 430.4 L736.5 429.7 L736.7 429.1 L737.0 428.5 L737.2 427.9 L737.4 427.4 L737.6 426.9 L737.9 426.4 L738.1 426.0 L738.6 425.3 L739.0 424.7 L739.5 424.3 L740.0 424.2 L740.3 424.4 L740.7 424.8 L741.0 425.3 L741.3 426.0 L741.6 426.7 L741.9 427.5 L742.0 427.9 L742.2 428.4 L742.3 428.9 L742.4 429.5 L742.5 430.1 L742.7 430.7 L742.8 431.3 L742.8 431.9 L742.9 432.6 L743.0 433.3 L743.1 433.9 L743.2 434.6 L743.3 435.3 L743.4 436.0 L743.4 436.7 L743.5 437.4 L743.6 438.0 L743.7 438.7 L743.8 439.3 L743.9 439.8 L743.9 440.4 L744.0 441.0 L744.1 441.6 L744.2 442.2 L744.2 442.8 L744.3 443.3 L744.4 443.9 L744.5 444.5 L744.5 445.1 L744.6 445.7 L744.7 446.3 L744.7 446.9 L744.8 447.6 L744.9 448.2 L744.9 448.8 L745.0 449.4 L745.1 450.0 L745.1 450.6 L745.2 451.3 L745.2 451.9 L745.3 452.5 L745.3 453.1 L745.4 453.7 L745.4 454.2 L745.5 454.8 L745.5 455.4 L745.5 456.0 L745.6 456.6 L745.6 457.1 L745.6 457.7 L745.7 458.3 L745.7 458.9 L745.7 459.5 L745.7 460.1 L745.8 460.7 L745.8 461.3 L745.8 461.9 L745.9 462.5 L745.9 463.1 L745.9 463.7 L745.9 464.3 L746.0 464.9 L746.0 465.5 L746.0 466.2 L746.1 466.8 L746.1 467.4 L746.2 468.1 L746.2 468.7 L746.2 469.3 L746.3 469.8 L746.3 470.4 L746.4 471.0 L746.4 471.6 L746.5 472.2 L746.5 472.8 L746.6 473.4 L746.6 474.0 L746.7 474.6 L746.7 475.2 L746.8 475.8 L746.8 476.5 L746.9 477.1 L746.9 477.7 L747.0 478.3 L747.1 478.9 L747.1 479.6 L747.2 480.2 L747.2 480.8 L747.3 481.4 L747.3 482.1 L747.4 482.7 L747.5 483.3 L747.5 483.9 L747.6 484.6 L747.6 485.2 L747.7 485.8 L747.8 486.4 L747.8 487.0 L747.9 487.6 L747.9 488.2 L748.0 488.8 L748.0 489.4 L748.1 490.0 L748.2 490.6 L748.2 491.3 L748.3 491.9 L748.3 492.5 L748.4 493.2 L748.4 493.8 L748.5 494.4 L748.5 495.1 L748.6 495.7 L748.7 496.4 L748.7 497.0 L748.8 497.6 L748.8 498.3 L748.9 498.9 L748.9 499.5 L749.0 500.2 L749.0 500.8 L749.1 501.4 L749.2 502.0 L749.2 502.6 L749.3 503.2 L749.3 503.8 L749.4 504.4 L749.5 505.0 L749.5 505.5 L749.6 506.1 L749.7 506.6 L749.8 507.2 L749.8 507.7 L749.9 508.2 L750.0 508.7 L750.1 509.4 L750.3 510.2 L750.4 511.0 L750.5 511.8 L750.7 512.6 L750.8 513.4 L750.9 514.1 L751.1 514.9 L751.2 515.5 L751.4 516.1 L751.5 516.7 L751.7 517.1 L751.9 517.4 L752.0 517.6 L752.2 517.7 L752.4 517.6 L752.7 517.3 L752.9 516.9 L753.2 516.3 L753.5 515.6 L753.7 514.9 L754.0 514.1 L754.2 513.3 L754.4 512.5 L754.5 512.0 L754.6 511.6 L754.7 511.1 L754.8 510.5 L754.9 510.0 L755.0 509.4 L755.1 508.8 L755.1 508.2 L755.2 507.6 L755.3 506.9 L755.3 506.3 L755.4 505.6 L755.4 505.0 L755.5 504.3 L755.5 503.7 L755.6 503.0 L755.7 502.4 L755.7 501.7 L755.8 501.1 L755.8 500.4 L755.9 499.8 L756.0 499.2 L756.0 498.6 L756.1 498.0 L756.2 497.5 L756.3 496.8 L756.4 496.1 L756.5 495.5 L756.6 494.8 L756.7 494.1 L756.9 493.5 L757.0 492.9 L757.1 492.2 L757.2 491.6 L757.3 491.0 L757.5 490.4 L757.6 489.8 L757.7 489.2 L757.8 488.6 L758.0 488.1 L758.1 487.5 L758.3 486.8 L758.5 486.2 L758.7 485.5 L758.9 484.9 L759.1 484.4 L759.3 483.8 L759.5 483.2 L759.7 482.5 L759.8 481.9 L760.0 481.2 L760.1 480.6 L760.2 480.0 L760.3 479.4 L760.4 478.8 L760.4 478.1 L760.5 477.4 L760.6 476.7 L760.6 476.0 L760.7 475.4 L760.7 474.7 L760.8 474.0 L760.9 473.4 L760.9 472.8 L761.0 472.2 L761.1 471.7 L761.2 471.2 L761.4 470.4 L761.6 469.5 L761.8 468.7 L762.1 468.0 L762.3 467.6 L762.5 467.4 L762.7 467.5 L762.9 467.9 L763.1 468.5 L763.3 469.3 L763.4 470.1 L763.6 470.9 L763.8 471.8 L764.0 472.5 L764.1 473.1 L764.3 473.9 L764.4 474.6 L764.6 475.5 L764.7 476.3 L764.9 477.1 L765.0 477.8 L765.2 478.4 L765.3 478.9 L765.4 479.2 L765.6 479.3 L765.8 479.2 L766.0 478.9 L766.1 478.4 L766.3 477.7 L766.5 477.0 L766.7 476.2 L766.9 475.3 L767.0 474.5 L767.2 473.7 L767.3 473.2 L767.4 472.6 L767.4 472.0 L767.5 471.4 L767.6 470.8 L767.6 470.1 L767.7 469.4 L767.7 468.7 L767.8 468.0 L767.8 467.3 L767.9 466.6 L767.9 466.0 L768.0 465.3 L768.0 464.6 L768.1 464.0 L768.2 463.3 L768.2 462.8 L768.3 462.2 L768.4 461.7 L768.5 461.2 L768.7 460.5 L768.8 459.8 L769.0 459.1 L769.2 458.5 L769.4 457.9 L769.7 457.4 L770.0 457.0 L770.6 456.4 L771.2 455.8 L771.9 455.5 L772.5 455.4 L773.0 455.6 L773.4 456.0 L773.8 456.6 L774.2 457.3 L774.6 458.0 L775.0 458.7 L775.2 459.2 L775.5 459.8 L775.7 460.4 L775.9 461.0 L776.1 461.7 L776.2 462.4 L776.4 463.1 L776.6 463.7 L776.8 464.4 L777.0 465.0 L777.3 465.5 L777.5 466.0 L777.9 466.6 L778.3 467.3 L778.7 467.9 L779.1 468.3 L779.6 468.7 L780.0 468.8 L780.5 468.6 L781.0 467.9 L781.5 467.2 L782.0 466.6 L782.5 466.4 L782.9 466.6 L783.2 466.9 L783.5 467.4 L783.9 468.0 L784.2 468.6 L784.4 469.3 L784.7 470.0 L784.9 470.5 L785.0 471.0 L785.1 471.5 L785.2 472.1 L785.3 472.7 L785.4 473.3 L785.5 473.9 L785.6 474.6 L785.7 475.2 L785.7 475.9 L785.8 476.6 L785.9 477.3 L785.9 478.0 L786.0 478.6 L786.1 479.3 L786.2 480.0 L786.3 480.6 L786.4 481.1 L786.4 481.7 L786.5 482.3 L786.6 482.8 L786.7 483.4 L786.8 484.0 L786.8 484.6 L786.9 485.2 L787.0 485.8 L787.1 486.4 L787.2 487.1 L787.3 487.7 L787.3 488.3 L787.4 488.9 L787.5 489.5 L787.6 490.1 L787.7 490.7 L787.8 491.3 L787.8 491.9 L787.9 492.5 L788.0 493.1 L788.1 493.7 L788.2 494.3 L788.3 494.9 L788.4 495.5 L788.5 496.1 L788.5 496.8 L788.6 497.4 L788.7 498.0 L788.8 498.6 L788.9 499.2 L789.0 499.8 L789.1 500.4 L789.2 501.0 L789.3 501.6 L789.3 502.2 L789.4 502.8 L789.5 503.3 L789.6 503.9 L789.7 504.5 L789.8 505.1 L789.9 505.6 L790.0 506.2 L790.1 506.9 L790.2 507.5 L790.3 508.2 L790.4 508.8 L790.6 509.5 L790.7 510.1 L790.8 510.7 L790.9 511.4 L791.0 512.0 L791.1 512.6 L791.3 513.2 L791.4 513.8 L791.5 514.4 L791.6 514.9 L791.8 515.5 L791.9 516.0 L792.1 516.7 L792.3 517.5 L792.4 518.3 L792.6 519.1 L792.8 519.8 L793.0 520.5 L793.2 521.0 L793.4 521.3 L793.7 521.5 L794.1 521.4 L794.5 521.1 L794.9 520.6 L795.4 519.9 L795.8 519.2 L796.2 518.5 L796.4 518.1 L796.6 517.6 L796.7 517.1 L796.9 516.6 L797.1 516.1 L797.2 515.5 L797.4 514.9 L797.5 514.3 L797.6 513.6 L797.7 513.0 L797.9 512.3 L798.0 511.6 L798.1 511.0 L798.2 510.3 L798.3 509.6 L798.5 508.9 L798.6 508.2 L798.7 507.5 L798.8 507.0 L798.9 506.4 L799.0 505.9 L799.1 505.3 L799.2 504.7 L799.3 504.1 L799.4 503.5 L799.5 502.9 L799.5 502.3 L799.6 501.7 L799.7 501.1 L799.8 500.5 L799.9 499.9 L800.0 499.2 L800.1 498.6 L800.1 498.0 L800.2 497.4 L800.3 496.7 L800.4 496.1 L800.5 495.5 L800.6 494.8 L800.6 494.2 L800.7 493.6 L800.8 493.0 L800.9 492.4 L801.0 491.8 L801.0 491.2 L801.1 490.6 L801.2 490.0 L801.3 489.4 L801.4 488.8 L801.4 488.2 L801.5 487.6 L801.6 487.0 L801.7 486.4 L801.8 485.8 L801.8 485.2 L801.9 484.6 L802.0 484.0 L802.1 483.4 L802.2 482.9 L802.2 482.3 L802.3 481.7 L802.4 481.1 L802.4 480.5 L802.5 479.9 L802.6 479.3 L802.7 478.7 L802.7 478.1 L802.8 477.5 L802.9 476.9 L803.0 476.3 L803.0 475.6 L803.1 475.0 L803.2 474.4 L803.2 473.9 L803.3 473.3 L803.3 472.7 L803.4 472.1 L803.5 471.5 L803.5 470.9 L803.6 470.3 L803.6 469.6 L803.7 469.0 L803.8 468.4 L803.8 467.8 L803.9 467.1 L803.9 466.5 L804.0 465.9 L804.0 465.2 L804.1 464.6 L804.2 464.0 L804.2 463.3 L804.3 462.7 L804.3 462.1 L804.4 461.5 L804.4 460.8 L804.5 460.2 L804.5 459.6 L804.6 459.0 L804.7 458.4 L804.7 457.8 L804.8 457.2 L804.8 456.7 L804.9 456.1 L804.9 455.5 L805.0 455.0 L805.1 454.3 L805.1 453.6 L805.2 453.0 L805.3 452.3 L805.4 451.7 L805.4 451.0 L805.5 450.4 L805.6 449.7 L805.6 449.1 L805.7 448.5 L805.8 447.9 L805.8 447.3 L805.9 446.7 L806.0 446.1 L806.0 445.5 L806.1 444.9 L806.2 444.3 L806.3 443.7 L806.3 443.1 L806.4 442.6 L806.5 442.0 L806.6 441.4 L806.7 440.7 L806.8 440.1 L806.9 439.5 L807.0 439.0 L807.1 438.4 L807.1 437.8 L807.2 437.2 L807.3 436.6 L807.4 436.1 L807.5 435.5 L807.7 434.9 L807.8 434.3 L807.9 433.7 L808.0 433.1 L808.1 432.5 L808.2 431.9 L808.3 431.4 L808.4 430.8 L808.6 430.2 L808.7 429.6 L808.8 429.0 L808.9 428.4 L809.0 427.8 L809.2 427.2 L809.3 426.6 L809.4 426.0 L809.6 425.4 L809.7 424.8 L809.8 424.1 L810.0 423.5 L810.1 422.9 L810.2 422.3 L810.3 421.7 L810.5 421.1 L810.6 420.5 L810.7 419.9 L810.8 419.3 L811.0 418.6 L811.1 418.0 L811.2 417.3 L811.3 416.6 L811.4 416.0 L811.5 415.3 L811.6 414.6 L811.7 414.0 L811.8 413.3 L811.9 412.7 L812.0 412.1 L812.2 411.5 L812.3 410.9 L812.4 410.4 L812.6 409.8 L812.8 409.4 L812.9 408.9 L813.1 408.5 L813.5 407.8 L813.9 407.0 L814.3 406.4 L814.7 405.9 L815.2 405.5 L815.6 405.4 L816.1 405.5 L816.6 405.9 L817.1 406.4 L817.6 407.1 L818.1 407.8 L818.4 408.2 L818.6 408.7 L818.8 409.2 L819.1 409.7 L819.3 410.3 L819.5 410.9 L819.7 411.6 L820.0 412.2 L820.2 412.9 L820.4 413.5 L820.6 414.2 L820.8 414.9 L821.0 415.5 L821.2 416.2 L821.4 416.7 L821.5 417.3 L821.7 417.9 L821.9 418.5 L822.1 419.1 L822.2 419.7 L822.4 420.3 L822.6 420.9 L822.7 421.5 L822.9 422.2 L823.1 422.8 L823.2 423.4 L823.4 424.0 L823.5 424.6 L823.7 425.2 L823.8 425.8 L824.0 426.4 L824.1 426.9 L824.3 427.5 L824.4 428.0 L824.6 428.6 L824.7 429.3 L824.9 429.9 L825.0 430.5 L825.1 431.1 L825.3 431.6 L825.4 432.2 L825.6 432.8 L825.7 433.3 L825.9 433.9 L826.0 434.4 L826.2 435.0 L826.4 435.6 L826.6 436.1 L826.8 436.7 L827.1 437.2 L827.3 437.7 L827.6 438.3 L827.8 438.8 L828.0 439.4 L828.3 440.0 L828.5 440.6 L828.7 441.2 L828.9 441.7 L829.0 442.3 L829.2 442.8 L829.3 443.4 L829.5 443.9 L829.6 444.5 L829.7 445.1 L829.9 445.7 L830.0 446.4 L830.1 447.0 L830.3 447.6 L830.4 448.2 L830.5 448.9 L830.7 449.5 L830.8 450.1 L830.9 450.7 L831.1 451.4 L831.2 452.0 L831.3 452.6 L831.4 453.2 L831.6 453.8 L831.7 454.4 L831.8 455.0 L831.9 455.7 L832.0 456.3 L832.1 456.9 L832.2 457.6 L832.3 458.2 L832.4 458.8 L832.5 459.5 L832.7 460.1 L832.8 460.7 L832.9 461.3 L833.0 461.9 L833.1 462.4 L833.3 463.0 L833.4 463.5 L833.6 464.0 L833.7 464.5 L833.9 465.2 L834.2 465.8 L834.4 466.4 L834.6 467.0 L834.9 467.6 L835.1 468.2 L835.4 468.7 L835.7 469.2 L835.9 469.6 L836.2 470.0 L836.7 470.7 L837.2 471.3 L837.6 471.7 L838.1 471.8 L838.4 471.6 L838.7 471.3 L839.0 470.7 L839.2 470.1 L839.5 469.4 L839.7 468.7 L840.0 468.0 L840.2 467.5 L840.4 467.0 L840.6 466.4 L840.8 465.8 L841.0 465.2 L841.2 464.6 L841.4 464.0 L841.6 463.3 L841.8 462.7 L842.0 462.0 L842.1 461.4 L842.3 460.7 L842.5 460.0 L842.6 459.4 L842.8 458.9 L842.9 458.3 L843.0 457.6 L843.1 457.0 L843.3 456.3 L843.4 455.7 L843.5 455.0 L843.6 454.3 L843.7 453.7 L843.8 453.0 L843.9 452.4 L844.1 451.7 L844.2 451.1 L844.3 450.5 L844.4 450.0 L844.6 449.4 L844.7 448.9 L844.9 448.4 L845.0 448.0 L845.3 447.3 L845.6 446.6 L845.9 446.0 L846.2 445.5 L846.5 445.0 L846.9 444.6 L847.5 443.9 L848.1 443.4 L848.7 443.2 L849.1 443.4 L849.4 443.8 L849.8 444.4 L850.2 445.0 L850.6 445.7 L851.1 446.3 L851.5 446.7 L851.9 446.9 L852.4 446.9 L852.9 446.7 L853.5 446.3 L854.0 445.9 L854.5 445.4 L855.0 445.0 L855.4 444.6 L855.8 444.2 L856.3 443.8 L856.7 443.3 L857.1 442.8 L857.4 442.3 L857.8 441.8 L858.1 441.2 L858.4 440.6 L858.6 440.0 L858.8 439.4 L858.9 438.7 L859.1 438.0 L859.2 437.3 L859.4 436.7 L859.6 436.1 L859.8 435.5 L860.0 435.0 L860.4 434.2 L860.9 433.4 L861.4 432.9 L861.9 432.7 L862.2 432.9 L862.5 433.4 L862.8 434.1 L863.1 434.9 L863.4 435.7 L863.6 436.5 L863.9 437.2 L864.2 437.6 L864.4 437.8 L864.6 437.7 L864.8 437.4 L865.0 436.9 L865.2 436.3 L865.4 435.6 L865.6 434.8 L865.8 434.0 L865.9 433.2 L866.1 432.5 L866.2 432.0 L866.3 431.4 L866.4 430.9 L866.5 430.3 L866.6 429.7 L866.7 429.1 L866.7 428.5 L866.8 427.9 L866.9 427.2 L867.0 426.6 L867.0 425.9 L867.1 425.3 L867.2 424.6 L867.3 424.0 L867.3 423.3 L867.4 422.7 L867.5 422.0 L867.6 421.4 L867.7 420.8 L867.7 420.2 L867.8 419.6 L867.9 419.0 L867.9 418.4 L868.0 417.8 L868.1 417.2 L868.2 416.6 L868.2 415.9 L868.3 415.3 L868.4 414.7 L868.5 414.1 L868.6 413.4 L868.7 412.8 L868.7 412.2 L868.8 411.6 L868.9 411.0 L869.1 410.4 L869.2 409.8 L869.3 409.3 L869.4 408.7 L869.5 408.1 L869.7 407.5 L869.9 406.8 L870.0 406.2 L870.2 405.7 L870.4 405.1 L870.6 404.5 L870.7 403.9 L870.9 403.3 L871.1 402.8 L871.3 402.2 L871.5 401.6 L871.7 401.1 L871.9 400.5 L872.1 399.9 L872.3 399.3 L872.5 398.7 L872.7 398.1 L872.9 397.5 L873.1 396.9 L873.3 396.3 L873.5 395.7 L873.7 395.1 L873.9 394.5 L874.1 393.9 L874.3 393.3 L874.5 392.7 L874.7 392.1 L874.9 391.5 L875.1 390.9 L875.3 390.3 L875.5 389.7 L875.7 389.1 L875.8 388.6 L876.0 388.0 L876.2 387.5 L876.4 386.9 L876.6 386.3 L876.8 385.7 L877.0 385.1 L877.2 384.6 L877.4 384.0 L877.5 383.5 L877.7 382.9 L877.9 382.4 L878.1 381.8 L878.3 381.2 L878.5 380.6 L878.7 380.0 L878.9 379.5 L879.1 378.9 L879.3 378.4 L879.5 377.9 L879.7 377.3 L879.9 376.7 L880.1 376.2 L880.3 375.6 L880.5 375.0 L880.7 374.5 L880.9 373.9 L881.1 373.3 L881.3 372.7 L881.5 372.1 L881.7 371.5 L881.9 370.9 L882.1 370.3 L882.3 369.6 L882.5 369.0 L882.7 368.5 L882.8 367.9 L883.0 367.3 L883.1 366.7 L883.2 366.2 L883.4 365.6 L883.5 365.0 L883.7 364.3 L883.8 363.7 L883.9 363.1 L884.1 362.5 L884.2 361.9 L884.3 361.2 L884.4 360.6 L884.6 360.0 L884.7 359.4 L884.9 358.8 L885.0 358.2 L885.1 357.6 L885.3 357.0 L885.4 356.4 L885.6 355.8 L885.7 355.3 L885.9 354.7 L886.0 354.2 L886.2 353.7 L886.4 353.0 L886.7 352.4 L886.9 351.8 L887.2 351.3 L887.4 350.7 L887.7 350.1 L888.0 349.6 L888.2 349.1 L888.5 348.5 L888.8 348.0 L889.0 347.4 L889.3 346.9 L889.5 346.3 L889.8 345.7 L890.0 345.0 L890.2 344.5 L890.3 343.9 L890.5 343.4 L890.7 342.8 L890.8 342.2 L891.0 341.6 L891.1 341.0 L891.3 340.3 L891.4 339.7 L891.5 339.1 L891.7 338.4 L891.8 337.8 L892.0 337.1 L892.1 336.5 L892.2 335.8 L892.4 335.2 L892.5 334.6 L892.6 333.9 L892.8 333.3 L892.9 332.7 L893.1 332.2 L893.2 331.6 L893.4 331.0 L893.5 330.5 L893.7 330.0 L893.9 329.3 L894.2 328.6 L894.4 327.9 L894.6 327.2 L894.8 326.5 L895.0 325.9 L895.3 325.3 L895.5 324.7 L895.8 324.1 L896.0 323.6 L896.3 323.1 L896.6 322.7 L896.9 322.3 L897.5 321.7 L898.1 321.3 L898.8 320.9 L899.4 320.7 L900.0 320.7 L900.5 321.0 L900.9 321.6 L901.3 322.2 L901.7 322.9 L902.1 323.4 L902.5 323.6 L902.8 323.4 L903.1 323.0 L903.4 322.4 L903.7 321.7 L904.0 320.9 L904.3 320.1 L904.7 319.4 L905.0 318.8 L905.3 318.4 L905.6 318.2 L906.0 318.3 L906.5 318.5 L906.9 319.0 L907.3 319.5 L907.7 320.2 L908.1 320.8 L908.3 321.2 L908.5 321.7 L908.6 322.1 L908.8 322.7 L908.9 323.2 L909.0 323.8 L909.1 324.4 L909.2 325.0 L909.3 325.7 L909.4 326.3 L909.5 327.0 L909.6 327.7 L909.7 328.4 L909.8 329.1 L909.8 329.8 L909.9 330.5 L910.0 331.2 L910.1 331.7 L910.1 332.3 L910.2 332.8 L910.2 333.4 L910.3 333.9 L910.3 334.5 L910.4 335.1 L910.4 335.7 L910.4 336.3 L910.5 336.9 L910.5 337.5 L910.5 338.2 L910.6 338.8 L910.6 339.4 L910.6 340.1 L910.7 340.7 L910.7 341.3 L910.7 342.0 L910.7 342.6 L910.8 343.2 L910.8 343.9 L910.8 344.5 L910.9 345.2 L910.9 345.8 L910.9 346.4 L911.0 347.0 L911.0 347.6 L911.1 348.2 L911.1 348.8 L911.1 349.4 L911.2 350.0 L911.3 350.7 L911.3 351.4 L911.4 352.1 L911.5 352.9 L911.5 353.7 L911.6 354.5 L911.7 355.3 L911.7 356.1 L911.8 356.9 L911.9 357.7 L912.0 358.5 L912.1 359.3 L912.1 360.0 L912.2 360.8 L912.3 361.5 L912.4 362.1 L912.5 362.7 L912.5 363.3 L912.6 363.8 L912.7 364.2 L912.8 364.6 L912.9 364.9 L912.9 365.1 L913.0 365.3 L913.1 365.3 L913.2 365.2 L913.3 365.1 L913.4 364.8 L913.5 364.5 L913.5 364.0 L913.6 363.5 L913.7 363.0 L913.8 362.3 L913.9 361.6 L914.0 360.9 L914.1 360.2 L914.2 359.4 L914.3 358.6 L914.4 357.8 L914.5 357.0 L914.6 356.1 L914.6 355.4 L914.7 354.6 L914.8 353.8 L914.9 353.2 L915.0 352.5 L915.1 351.9 L915.2 351.2 L915.2 350.5 L915.3 349.8 L915.4 349.0 L915.4 348.2 L915.5 347.4 L915.5 346.6 L915.6 345.8 L915.7 345.0 L915.7 344.2 L915.8 343.4 L915.9 342.7 L915.9 342.0 L916.0 341.4 L916.1 340.7 L916.2 340.2 L916.3 339.7 L916.4 339.3 L916.5 338.9 L916.6 338.7 L916.8 338.5 L916.9 338.4 L917.2 338.5 L917.5 338.8 L917.8 339.2 L918.1 339.8 L918.4 340.5 L918.8 341.2 L919.1 341.9 L919.4 342.5 L919.7 343.0 L919.9 343.6 L920.2 344.2 L920.4 344.9 L920.7 345.5 L920.9 346.1 L921.1 346.7 L921.4 347.3 L921.6 347.8 L921.9 348.3 L922.3 349.1 L922.8 349.8 L923.3 350.4 L923.7 350.6 L924.0 350.5 L924.4 350.1 L924.7 349.6 L925.0 348.9 L925.3 348.2 L925.6 347.5 L925.8 347.2 L925.9 346.8 L926.1 345.9 L926.2 345.0 L926.4 344.3 L926.5 343.8 L926.6 343.4 L926.8 342.8 L926.9 342.1 L927.0 341.5 L927.2 340.9 L927.3 340.4 L927.5 339.8 L927.6 339.3 L927.8 338.6 L927.9 337.9 L928.1 337.3 L928.3 336.7 L928.5 336.0 L928.8 335.4 L929.0 334.8 L929.2 334.4 L929.5 334.2 L929.7 333.9 L930.0 333.4 L930.2 332.8 L930.5 332.0 L930.7 331.2 L931.0 330.6 L931.2 330.2 L931.5 329.6 L931.8 328.8 L932.0 328.1 L932.3 327.2 L932.6 326.5 L932.8 326.0 L933.1 325.6 L933.4 325.1 L933.7 324.9 L934.2 325.0 L934.7 325.5 L935.1 326.0 L935.6 326.3 L935.8 326.6 L936.0 327.3 L936.2 328.0 L936.4 328.7 L936.6 329.5 L936.8 330.4 L936.9 331.2 L937.1 331.9 L937.3 332.4 L937.6 332.9 L937.8 333.3 L938.1 333.4 L938.5 333.5 L938.9 333.5 L939.4 333.0 L939.9 332.4 L940.4 331.9 L940.9 331.3 L941.4 330.8 L941.9 330.4 L942.5 330.1 L943.2 329.8 L943.8 329.7 L944.4 329.7 L945.0 329.7 L945.5 329.9 L945.9 330.3 L946.3 330.9 L946.7 331.5 L947.1 332.0 L947.5 332.4 L948.0 332.8 L948.5 333.7 L949.1 334.6 L949.6 334.9 L950.2 335.0 L950.6 335.0 L950.9 334.7 L951.2 333.9 L951.4 332.9 L951.6 332.2 L951.8 331.6 L952.0 331.0 L952.2 330.5 L952.5 330.2 L953.1 329.3 L953.7 328.6 L954.0 328.6"/>
<path stroke="#ff0000" d="M122.5 93.9 L122.5 93.9 L122.6 93.7 L122.7 93.2 L122.9 92.9 L123.1 92.8 L123.4 92.7 L123.7 92.7 L124.0 92.9 L124.4 93.0 L124.8 93.0 L125.3 93.0 L125.8 92.4 L126.3 92.1 L126.9 92.7 L127.4 92.9 L128.0 92.7 L128.7 92.9 L129.3 92.9 L130.0 92.7 L130.7 92.3 L131.4 92.2 L132.1 92.2 L132.9 92.3 L133.6 92.0 L134.4 91.9 L135.2 92.1 L136.0 92.1 L136.8 91.8 L137.6 91.1 L138.4 90.3 L139.2 90.6 L140.0 91.1 L140.7 91.5 L141.5 91.5 L142.3 91.0 L143.1 90.4 L143.9 90.1 L144.6 90.0 L145.3 89.9 L146.1 90.4 L146.8 91.4 L147.5 91.4 L148.1 90.8 L148.8 90.2 L149.4 89.6 L150.0 89.6 L150.6 89.6 L151.2 89.4 L151.9 89.4 L152.5 89.3 L153.1 89.5 L153.7 90.0 L154.3 90.7 L155.0 90.5 L155.6 89.5 L156.2 88.8 L156.8 88.9 L157.4 89.2 L158.0 89.4 L158.6 89.8 L159.2 90.1 L159.8 89.8 L160.4 89.6 L161.1 89.7 L161.7 89.8 L162.3 89.8 L162.9 89.9 L163.5 89.9 L164.1 89.4 L164.7 88.9 L165.3 88.8 L165.9 88.7 L166.5 88.7 L167.1 88.9 L167.7 88.8 L168.3 88.3 L168.9 88.5 L169.5 88.8 L170.1 89.0 L170.7 88.9 L171.4 88.7 L172.0 88.8 L172.6 88.8 L173.2 88.7 L173.8 88.5 L174.4 88.3 L175.0 88.5 L175.6 89.1 L176.2 89.7 L176.9 89.6 L177.5 89.2 L178.2 88.6 L178.8 88.4 L179.5 88.6 L180.1 88.6 L180.8 88.1 L181.4 88.1 L182.1 88.3 L182.8 88.2 L183.5 88.3 L184.1 88.7 L184.8 88.9 L185.5 88.7 L186.1 88.2 L186.8 87.7 L187.5 87.3 L188.1 87.0 L188.8 86.7 L189.4 86.6 L190.1 86.9 L190.7 87.0 L191.3 86.6 L192.0 86.4 L192.6 86.4 L193.2 86.3 L193.8 86.3 L194.4 85.8 L195.0 85.2 L195.5 85.2 L196.1 85.9 L196.6 86.4 L197.2 86.4 L197.7 86.0 L198.2 85.6 L198.6 85.4 L199.1 85.8 L199.6 85.9 L200.0 85.8 L200.7 85.6 L201.4 85.7 L202.0 86.2 L202.6 86.5 L203.2 87.0 L203.7 87.8 L204.2 88.3 L204.7 88.4 L205.2 88.2 L205.8 88.2 L206.3 88.5 L206.9 88.9 L207.5 89.5 L208.1 89.8 L208.7 89.6 L209.3 89.4 L209.9 89.7 L210.5 90.3 L211.1 90.3 L211.8 90.2 L212.4 90.3 L213.1 90.4 L213.7 90.5 L214.4 90.6 L215.0 89.9 L215.6 89.3 L216.3 90.1 L216.9 91.0 L217.5 90.8 L218.0 90.8 L218.6 91.3 L219.1 91.6 L219.7 91.5 L220.2 91.0 L220.7 90.9 L221.3 91.3 L221.8 91.6 L222.3 92.1 L222.8 92.9 L223.4 93.4 L223.9 93.5 L224.4 93.8 L224.9 94.2 L225.4 94.4 L225.9 94.8 L226.5 95.5 L227.0 96.1 L227.5 96.5 L227.9 96.6 L228.3 96.6 L228.7 96.9 L229.1 97.7 L229.5 98.7 L229.9 99.6 L230.3 100.4 L230.7 100.4 L231.1 99.9 L231.5 99.9 L231.9 100.6 L232.3 101.1 L232.7 101.3 L233.1 101.8 L233.5 102.7 L233.9 103.5 L234.3 104.0 L234.7 104.1 L235.1 103.9 L235.5 104.0 L235.9 104.8 L236.3 105.7 L236.6 106.6 L237.0 107.6 L237.4 108.3 L237.8 109.0 L238.2 109.4 L238.5 109.9 L238.9 110.3 L239.3 110.5 L239.6 110.7 L240.0 111.4 L240.4 111.7 L240.8 112.0 L241.1 112.9 L241.5 113.8 L241.9 114.5 L242.2 114.8 L242.6 114.7 L242.9 115.1 L243.3 116.3 L243.6 117.2 L244.0 117.5 L244.3 117.8 L244.7 118.0 L245.0 118.2 L245.4 118.6 L245.7 118.9 L246.1 119.2 L246.4 120.0 L246.8 121.1 L247.1 121.9 L247.5 121.8 L247.8 121.1 L248.2 121.2 L248.5 122.2 L248.9 122.9 L249.3 123.1 L249.6 123.5 L250.0 124.2 L250.3 124.7 L250.7 125.6 L251.0 126.6 L251.4 126.9 L251.7 126.9 L252.1 127.3 L252.4 128.4 L252.8 129.5 L253.1 130.0 L253.5 130.3 L253.8 130.4 L254.2 130.8 L254.5 131.4 L254.9 131.7 L255.2 132.0 L255.6 132.6 L256.0 133.6 L256.3 134.3 L256.7 134.5 L257.1 134.7 L257.4 134.9 L257.8 135.7 L258.1 137.3 L258.5 138.1 L258.9 138.3 L259.2 138.6 L259.6 139.2 L260.0 139.6 L260.3 139.3 L260.7 139.5 L261.0 140.2 L261.4 141.0 L261.8 141.5 L262.1 141.5 L262.5 141.6 L262.9 142.3 L263.2 143.6 L263.6 144.7 L264.0 145.4 L264.4 145.8 L264.8 145.9 L265.2 146.4 L265.6 146.8 L266.0 146.9 L266.4 147.2 L266.8 147.8 L267.2 148.0 L267.6 148.4 L268.0 149.1 L268.4 150.1 L268.8 150.4 L269.2 150.4 L269.6 150.8 L270.0 151.3 L270.3 151.5 L270.7 151.6 L271.1 152.3 L271.5 153.5 L271.8 154.2 L272.2 154.3 L272.5 154.5 L272.9 154.5 L273.2 154.6 L273.5 155.4 L273.9 156.3 L274.2 157.3 L274.5 157.7 L274.7 157.8 L275.0 158.0 L275.3 158.5 L275.6 159.1 L275.9 160.3 L276.1 161.3 L276.3 161.8 L276.6 162.7 L276.8 163.6 L277.0 164.1 L277.2 164.6 L277.4 164.7 L277.5 164.6 L277.7 164.6 L277.9 165.3 L278.1 166.7 L278.2 168.3 L278.4 168.7 L278.6 168.7 L278.8 169.2 L278.9 170.1 L279.1 170.8 L279.3 171.7 L279.5 172.3 L279.8 172.2 L280.0 172.2 L280.3 172.6 L280.6 173.3 L280.9 174.6 L281.2 175.8 L281.6 176.3 L281.9 176.4 L282.2 176.4 L282.6 176.5 L282.9 176.8 L283.2 177.6 L283.6 179.0 L283.9 179.9 L284.3 179.7 L284.6 179.3 L285.0 179.2 L285.4 179.8 L285.9 180.1 L286.4 180.2 L286.8 180.8 L287.3 181.7 L287.8 182.5 L288.2 183.1 L288.7 183.6 L289.2 184.3 L289.6 185.3 L290.0 186.0 L290.3 186.4 L290.5 186.8 L290.8 186.6 L291.0 186.4 L291.3 186.5 L291.5 187.2 L291.8 188.2 L292.0 189.2 L292.2 190.1 L292.4 190.7 L292.7 191.1 L292.9 191.9 L293.1 192.9 L293.3 193.5 L293.5 193.9 L293.7 194.0 L293.9 194.2 L294.1 194.6 L294.4 195.2 L294.6 196.2 L294.8 197.1 L295.0 197.7 L295.3 198.0 L295.5 198.6 L295.8 199.4 L296.0 200.0 L296.3 200.5 L296.5 200.6 L296.8 200.7 L297.0 201.2 L297.3 202.0 L297.5 202.9 L297.8 203.6 L298.1 204.0 L298.4 204.1 L298.7 204.2 L299.2 204.7 L299.7 205.7 L300.2 206.5 L300.7 206.8 L301.2 207.4 L301.8 207.9 L302.5 208.0 L302.9 208.1 L303.4 208.6 L303.9 209.3 L304.4 209.2 L304.9 208.4 L305.4 207.5 L306.0 207.1 L306.5 206.7 L307.1 206.2 L307.7 205.7 L308.3 205.2 L308.9 205.0 L309.5 205.0 L310.1 204.7 L310.7 203.5 L311.3 203.0 L311.9 203.3 L312.5 203.3 L313.0 203.0 L313.6 202.9 L314.1 202.8 L314.7 202.8 L315.3 202.5 L315.8 202.0 L316.4 201.7 L317.0 201.4 L317.6 201.0 L318.1 200.6 L318.7 200.0 L319.3 199.8 L319.9 200.1 L320.5 200.3 L321.0 200.6 L321.6 200.3 L322.2 199.2 L322.8 198.1 L323.3 197.6 L323.9 197.6 L324.5 197.8 L325.0 197.8 L325.5 197.2 L326.0 196.3 L326.5 195.8 L326.9 196.2 L327.4 196.5 L327.9 195.8 L328.4 195.1 L328.9 194.8 L329.4 194.9 L329.8 194.6 L330.3 193.5 L330.8 192.7 L331.3 193.0 L331.7 193.6 L332.2 193.4 L332.7 192.4 L333.1 191.4 L333.6 191.0 L334.0 191.0 L334.5 190.7 L334.9 189.7 L335.4 188.8 L335.8 188.2 L336.2 187.9 L336.7 187.9 L337.1 187.7 L337.5 187.3 L338.0 187.2 L338.6 187.3 L339.1 187.1 L339.6 186.6 L340.1 186.0 L340.6 185.5 L341.1 185.3 L341.6 185.1 L342.1 184.8 L342.6 184.6 L343.0 184.3 L343.5 183.9 L344.0 183.5 L344.5 183.0 L345.0 182.2 L345.5 181.6 L346.0 181.5 L346.5 181.8 L347.0 181.8 L347.5 181.3 L348.0 180.7 L348.5 180.1 L349.0 179.6 L349.5 178.9 L350.0 178.3 L350.5 178.2 L351.0 178.4 L351.5 178.4 L352.0 177.8 L352.5 177.4 L352.9 177.3 L353.4 176.7 L353.8 175.9 L354.3 175.7 L354.8 175.7 L355.3 175.4 L355.7 174.4 L356.2 173.1 L356.7 172.4 L357.2 172.9 L357.7 173.4 L358.2 172.8 L358.6 171.9 L359.1 171.5 L359.6 171.3 L360.0 171.6 L360.5 172.1 L360.9 172.1 L361.3 171.4 L361.7 170.2 L362.1 168.7 L362.5 167.9 L363.1 168.1 L363.6 168.0 L364.1 167.4 L364.6 167.0 L365.1 166.9 L365.5 166.5 L366.0 166.1 L366.4 165.6 L366.9 165.0 L367.5 164.7 L368.2 164.6 L368.8 164.5 L369.4 164.5 L370.0 164.2 L370.5 164.1 L371.1 164.2 L371.6 164.3 L372.2 164.6 L372.6 165.2 L373.1 166.2 L373.4 167.3 L373.7 168.1 L373.9 167.9 L374.2 167.5 L374.4 167.6 L374.6 168.4 L374.8 169.8 L375.0 171.0 L375.2 171.6 L375.4 172.2 L375.6 173.0 L375.7 173.5 L375.9 173.9 L376.0 174.1 L376.1 174.6 L376.2 175.5 L376.4 176.0 L376.5 175.9 L376.6 176.2 L376.7 177.0 L376.8 178.0 L376.9 179.1 L377.0 180.1 L377.1 180.6 L377.2 180.6 L377.3 180.8 L377.4 181.5 L377.5 182.3 L377.6 182.9 L377.7 183.4 L377.8 184.1 L377.9 185.1 L378.0 185.6 L378.1 185.7 L378.2 186.2 L378.3 187.1 L378.4 187.4 L378.5 187.6 L378.6 188.9 L378.7 190.1 L378.7 190.3 L378.8 190.7 L378.9 191.8 L379.0 192.6 L379.1 193.1 L379.2 193.3 L379.3 193.4 L379.3 193.6 L379.4 194.1 L379.5 194.8 L379.6 195.7 L379.6 196.8 L379.7 198.1 L379.8 198.8 L379.9 198.9 L379.9 198.9 L380.0 199.5 L380.1 200.4 L380.1 201.2 L380.2 201.7 L380.2 201.9 L380.3 202.7 L380.3 204.3 L380.4 205.7 L380.4 206.0 L380.5 205.6 L380.5 205.6 L380.5 206.5 L380.6 207.6 L380.6 208.3 L380.7 208.4 L380.7 208.7 L380.7 209.3 L380.8 209.7 L380.8 210.2 L380.9 211.0 L380.9 211.5 L381.0 211.9 L381.0 212.5 L381.1 213.3 L381.1 214.0 L381.2 214.7 L381.3 215.5 L381.3 216.0 L381.4 216.6 L381.4 217.3 L381.5 217.9 L381.5 218.7 L381.6 219.4 L381.7 219.7 L381.7 220.0 L381.8 220.3 L381.9 220.9 L381.9 221.5 L382.0 222.2 L382.1 223.1 L382.1 223.8 L382.2 224.7 L382.3 225.8 L382.4 226.7 L382.4 227.3 L382.5 227.6 L382.6 227.8 L382.6 228.5 L382.7 229.6 L382.8 230.5 L382.9 230.8 L382.9 230.7 L383.0 230.9 L383.1 231.8 L383.1 232.8 L383.2 233.3 L383.3 234.0 L383.4 234.9 L383.4 235.5 L383.5 236.2 L383.6 237.1 L383.6 237.6 L383.7 238.0 L383.8 238.6 L383.9 239.1 L383.9 239.7 L384.0 240.0 L384.1 240.3 L384.2 241.0 L384.2 242.1 L384.3 242.9 L384.4 243.3 L384.5 243.9 L384.6 244.8 L384.6 245.9 L384.7 246.6 L384.8 246.8 L384.9 246.7 L384.9 246.7 L385.0 247.2 L385.1 248.0 L385.2 248.9 L385.3 249.5 L385.4 249.9 L385.5 251.0 L385.6 252.3 L385.8 253.3 L385.9 253.7 L386.1 254.6 L386.2 255.6 L386.4 256.0 L386.6 256.0 L386.8 256.2 L387.0 256.7 L387.2 257.6 L387.5 258.4 L387.9 258.7 L388.3 258.3 L388.7 257.7 L389.2 256.8 L389.7 255.9 L390.1 255.4 L390.6 254.9 L391.0 254.0 L391.5 253.1 L391.9 252.8 L392.3 252.5 L392.7 251.8 L393.2 251.0 L393.7 251.2 L394.3 251.9 L394.9 251.8 L395.5 251.0 L396.1 250.5 L396.8 250.2 L397.5 250.0 L398.1 250.0 L398.7 249.8 L399.4 249.6 L400.1 249.6 L400.8 249.5 L401.4 249.0 L402.1 248.8 L402.6 248.9 L403.1 249.4 L403.7 250.0 L404.1 250.5 L404.5 251.2 L404.8 252.1 L405.2 252.6 L405.4 252.4 L405.6 252.5 L405.7 252.7 L405.9 253.5 L406.0 255.0 L406.2 256.3 L406.3 257.0 L406.4 257.2 L406.5 257.3 L406.7 257.8 L406.8 258.6 L406.9 259.1 L407.0 259.3 L407.1 260.1 L407.3 261.2 L407.4 262.3 L407.5 263.1 L407.6 263.5 L407.7 264.2 L407.8 264.6 L407.9 264.8 L408.0 265.3 L408.1 265.4 L408.1 265.9 L408.2 266.8 L408.3 267.5 L408.4 268.1 L408.5 268.6 L408.6 269.5 L408.6 270.8 L408.7 271.7 L408.8 272.2 L408.9 272.7 L409.0 272.9 L409.0 273.2 L409.1 273.3 L409.2 273.6 L409.3 274.3 L409.4 275.2 L409.5 276.2 L409.6 276.9 L409.7 277.7 L409.8 278.7 L409.9 279.5 L410.0 280.1 L410.1 280.0 L410.2 280.1 L410.3 280.7 L410.4 281.6 L410.5 282.4 L410.6 283.4 L410.7 284.5 L410.8 284.9 L410.9 285.0 L411.0 285.5 L411.1 286.0 L411.2 286.6 L411.4 287.3 L411.5 288.2 L411.6 289.2 L411.7 289.8 L411.8 290.0 L411.9 290.2 L412.0 290.8 L412.2 291.3 L412.3 291.7 L412.4 292.0 L412.5 292.5 L412.6 293.3 L412.8 294.5 L412.9 295.4 L413.0 295.5 L413.2 295.9 L413.4 297.0 L413.6 298.0 L413.8 298.3 L414.0 298.5 L414.2 299.0 L414.4 299.7 L414.6 300.9 L414.8 301.6 L415.0 301.8 L415.3 302.5 L415.5 303.1 L415.8 303.1 L416.1 302.8 L416.4 302.4 L416.8 301.7 L417.1 300.8 L417.4 299.5 L417.7 298.1 L418.0 297.1 L418.1 296.8 L418.2 296.6 L418.3 296.3 L418.5 296.2 L418.6 296.2 L418.7 296.2 L418.8 295.5 L418.9 294.2 L419.0 293.2 L419.1 292.6 L419.1 292.4 L419.2 292.5 L419.3 291.8 L419.4 290.3 L419.5 289.0 L419.6 288.5 L419.7 288.5 L419.7 288.1 L419.8 287.2 L419.9 286.4 L420.0 285.4 L420.0 284.5 L420.1 283.6 L420.2 282.6 L420.2 281.9 L420.3 281.9 L420.4 281.3 L420.4 280.0 L420.5 279.1 L420.6 278.9 L420.6 278.5 L420.7 277.9 L420.7 277.5 L420.8 276.9 L420.8 275.8 L420.9 274.9 L420.9 274.5 L421.0 274.9 L421.1 274.6 L421.1 273.4 L421.2 272.1 L421.2 271.4 L421.3 271.0 L421.3 270.6 L421.4 270.2 L421.4 269.8 L421.5 269.7 L421.5 269.1 L421.5 267.8 L421.6 266.3 L421.6 265.5 L421.6 265.6 L421.7 265.5 L421.7 265.0 L421.7 264.5 L421.8 263.5 L421.8 262.8 L421.9 262.5 L421.9 261.7 L422.0 260.4 L422.0 259.7 L422.1 259.4 L422.1 259.2 L422.2 258.9 L422.2 258.4 L422.3 258.1 L422.3 257.5 L422.4 256.4 L422.5 255.3 L422.5 255.0 L422.6 255.3 L422.6 255.1 L422.7 254.1 L422.7 253.0 L422.8 252.0 L422.9 251.5 L422.9 251.2 L423.0 250.6 L423.0 250.0 L423.1 249.6 L423.2 249.2 L423.2 248.4 L423.3 247.4 L423.4 246.6 L423.4 246.2 L423.5 246.2 L423.6 245.7 L423.6 244.4 L423.7 243.5 L423.8 242.7 L423.8 241.9 L423.9 241.4 L424.0 240.8 L424.1 240.3 L424.1 240.0 L424.2 239.5 L424.3 238.4 L424.4 237.4 L424.4 236.9 L424.5 236.4 L424.6 235.7 L424.7 235.5 L424.7 235.5 L424.8 235.4 L424.9 234.5 L425.0 233.5 L425.1 233.1 L425.2 232.7 L425.2 231.5 L425.3 230.3 L425.4 229.7 L425.5 229.4 L425.6 228.9 L425.7 228.0 L425.8 227.3 L425.8 226.8 L425.9 226.4 L426.0 226.0 L426.1 225.6 L426.2 225.3 L426.3 225.1 L426.4 224.8 L426.5 223.8 L426.6 222.1 L426.8 220.7 L426.9 220.3 L427.0 220.3 L427.1 219.9 L427.2 219.2 L427.4 218.8 L427.5 218.6 L427.6 217.9 L427.7 217.0 L427.8 216.0 L428.0 215.3 L428.1 215.5 L428.2 215.4 L428.3 214.4 L428.5 213.6 L428.6 213.2 L428.7 212.6 L428.9 211.9 L429.2 211.5 L429.4 210.9 L429.7 209.8 L430.0 208.3 L430.2 207.8 L430.4 208.3 L430.6 208.4 L430.8 207.7 L431.0 207.0 L431.3 206.4 L431.5 205.7 L431.8 204.9 L432.0 204.4 L432.3 204.2 L432.5 204.1 L432.8 203.4 L433.1 202.6 L433.3 202.2 L433.5 201.6 L433.8 200.6 L434.0 199.6 L434.2 199.1 L434.4 198.8 L434.6 198.1 L434.8 197.2 L435.0 196.5 L435.1 196.2 L435.3 195.6 L435.5 194.3 L435.7 193.1 L435.8 192.4 L436.0 192.5 L436.2 193.0 L436.4 193.0 L436.5 192.1 L436.7 191.4 L436.9 190.9 L437.1 189.8 L437.3 188.6 L437.5 188.6 L437.7 188.6 L438.0 187.5 L438.2 186.4 L438.4 186.0 L438.6 185.9 L438.9 185.3 L439.1 184.8 L439.3 184.4 L439.6 183.6 L439.8 182.5 L440.1 181.5 L440.3 181.0 L440.6 180.9 L440.9 180.5 L441.2 180.6 L441.5 180.5 L441.9 179.8 L442.3 178.6 L442.6 177.7 L443.0 177.5 L443.4 177.5 L443.8 177.0 L444.2 176.3 L444.6 175.6 L445.0 174.8 L445.4 173.7 L445.8 173.6 L446.2 174.1 L446.7 173.8 L447.2 172.8 L447.6 171.7 L448.1 171.2 L448.6 171.3 L449.1 171.5 L449.5 171.3 L450.0 170.6 L450.3 169.9 L450.7 169.3 L451.0 169.0 L451.3 168.9 L451.6 168.6 L451.9 167.9 L452.2 167.1 L452.5 166.7 L452.9 166.1 L453.2 165.5 L453.5 165.0 L453.9 164.3 L454.2 163.8 L454.6 163.7 L455.0 163.5 L455.4 163.0 L455.8 162.5 L456.2 161.8 L456.6 161.1 L457.1 160.7 L457.5 160.2 L458.0 159.6 L458.4 159.4 L458.9 159.5 L459.4 159.0 L459.9 158.4 L460.4 157.8 L460.9 157.3 L461.4 157.3 L461.9 157.0 L462.5 156.0 L463.0 155.2 L463.5 155.1 L464.0 155.1 L464.5 154.9 L465.1 154.7 L465.6 154.6 L466.2 154.8 L466.7 154.8 L467.3 154.6 L467.9 154.2 L468.5 153.7 L469.1 153.1 L469.7 153.0 L470.3 153.4 L470.9 153.6 L471.5 153.4 L472.1 153.6 L472.7 154.1 L473.3 154.2 L473.8 153.5 L474.4 152.5 L475.0 152.2 L475.6 152.3 L476.2 152.2 L476.8 151.9 L477.4 151.4 L478.0 150.9 L478.6 150.7 L479.2 150.9 L479.8 150.9 L480.4 150.9 L481.0 151.0 L481.6 150.6 L482.2 150.2 L482.7 150.3 L483.3 150.3 L483.9 150.2 L484.5 149.9 L485.1 149.8 L485.7 149.8 L486.3 149.7 L486.9 149.1 L487.5 148.3 L488.1 148.1 L488.6 148.4 L489.2 148.2 L489.8 147.7 L490.4 147.6 L490.9 147.5 L491.5 147.1 L492.1 146.4 L492.6 145.9 L493.2 145.7 L493.8 145.6 L494.3 145.6 L494.9 145.8 L495.5 145.9 L496.0 145.8 L496.6 145.0 L497.2 144.5 L497.7 144.5 L498.3 144.3 L498.9 143.5 L499.4 143.2 L500.0 143.5 L500.6 143.8 L501.2 143.7 L501.8 143.2 L502.4 142.7 L503.0 142.9 L503.6 143.1 L504.1 143.0 L504.7 141.9 L505.3 141.1 L505.9 141.2 L506.5 141.6 L507.1 141.6 L507.7 141.2 L508.3 140.5 L508.9 140.0 L509.5 140.1 L510.1 140.2 L510.7 140.1 L511.3 139.9 L511.9 139.5 L512.5 138.9 L513.1 138.8 L513.7 139.1 L514.3 139.7 L514.9 140.2 L515.5 139.9 L516.1 139.3 L516.7 138.9 L517.3 139.2 L517.9 139.2 L518.5 139.0 L519.1 138.8 L519.7 139.0 L520.3 139.4 L520.9 139.2 L521.5 138.6 L522.1 138.0 L522.7 138.0 L523.3 138.3 L523.9 138.4 L524.4 138.1 L525.0 137.7 L525.6 138.0 L526.3 138.7 L526.9 138.7 L527.6 137.7 L528.2 137.1 L528.9 137.5 L529.5 137.9 L530.2 137.9 L530.8 137.5 L531.4 136.3 L532.0 135.1 L532.6 134.9 L533.1 135.7 L533.6 135.8 L534.1 135.3 L534.6 134.9 L535.0 134.8 L535.6 135.3 L536.1 135.4 L536.6 134.5 L537.0 133.6 L537.4 133.5 L537.8 133.4 L538.2 132.6 L538.6 132.0 L538.9 132.9 L539.2 134.1 L539.5 134.6 L539.8 135.4 L540.1 136.4 L540.4 137.1 L540.8 136.9 L541.2 136.6 L541.7 136.8 L542.2 137.0 L542.7 135.9 L543.3 134.5 L543.9 134.1 L544.5 134.3 L545.1 134.6 L545.7 135.0 L546.2 135.4 L546.7 134.8 L547.1 134.0 L547.6 134.4 L548.0 135.4 L548.4 136.5 L548.8 137.4 L549.3 138.3 L549.7 139.0 L550.2 139.3 L550.7 139.3 L551.2 139.7 L551.8 139.6 L552.4 138.6 L553.0 137.9 L553.6 138.6 L554.2 139.7 L554.9 139.8 L555.5 138.7 L556.2 138.0 L556.9 138.2 L557.5 138.9 L558.1 139.1 L558.6 139.0 L559.2 139.1 L559.8 139.1 L560.4 138.8 L560.9 137.7 L561.5 136.9 L562.1 136.8 L562.7 137.1 L563.3 137.0 L563.8 136.1 L564.4 135.1 L565.0 134.4 L565.6 133.7 L566.2 133.5 L566.8 134.2 L567.4 134.8 L568.0 134.4 L568.6 134.1 L569.2 134.4 L569.8 134.5 L570.4 134.1 L570.9 133.6 L571.5 133.1 L572.0 132.8 L572.5 132.0 L573.0 130.8 L573.5 130.0 L574.0 129.6 L574.4 128.8 L574.9 127.7 L575.3 127.7 L575.7 127.8 L576.1 127.3 L576.5 126.6 L576.9 125.8 L577.2 125.7 L577.5 125.8 L577.7 126.4 L577.9 127.4 L578.0 128.0 L578.1 128.4 L578.2 128.6 L578.2 128.7 L578.3 128.8 L578.3 129.3 L578.3 130.8 L578.4 132.7 L578.4 134.4 L578.5 135.3 L578.5 135.3 L578.6 135.0 L578.7 135.5 L578.9 136.7 L579.0 137.3 L579.2 137.5 L579.5 137.9 L580.0 138.0 L580.5 138.0 L581.1 138.1 L581.8 138.6 L582.4 138.8 L583.1 138.0 L583.8 137.1 L584.4 137.3 L585.0 137.7 L585.4 137.0 L585.8 136.0 L586.2 135.3 L586.5 135.1 L586.9 135.5 L587.2 134.9 L587.5 133.6 L587.9 133.3 L588.3 133.4 L588.6 132.5 L589.1 131.7 L589.5 131.3 L590.0 130.4 L590.5 129.2 L591.0 129.2 L591.5 129.7 L592.1 129.3 L592.7 128.8 L593.3 129.1 L593.9 129.3 L594.5 128.7 L595.2 128.3 L595.8 128.0 L596.4 127.6 L597.1 127.1 L597.7 127.1 L598.3 127.5 L598.9 127.2 L599.5 126.6 L600.0 126.5 L600.6 126.5 L601.1 126.3 L601.6 126.1 L602.1 125.9 L602.6 125.7 L603.1 125.4 L603.6 124.2 L604.1 122.4 L604.5 121.3 L605.0 121.6 L605.5 121.9 L606.0 121.6 L606.5 122.0 L607.0 122.8 L607.5 122.4 L608.1 121.8 L608.7 121.8 L609.4 121.6 L610.0 120.9 L610.7 120.1 L611.3 119.6 L612.0 120.1 L612.6 120.2 L613.2 120.1 L613.8 120.8 L614.4 120.6 L615.0 119.2 L615.7 119.5 L616.4 120.6 L617.0 120.3 L617.7 119.2 L618.3 118.7 L618.9 118.8 L619.5 118.8 L620.0 117.8 L620.5 117.0 L620.9 116.9 L621.4 117.0 L621.7 116.7 L622.1 115.6 L622.5 114.8 L622.8 113.9 L623.2 113.2 L623.5 113.0 L623.7 113.5 L624.0 114.5 L624.2 115.0 L624.4 115.3 L624.6 116.8 L624.8 118.9 L625.1 119.7 L625.4 119.6 L625.8 120.3 L626.2 121.3 L626.6 121.4 L627.1 120.6 L627.6 120.3 L628.1 121.3 L628.7 121.7 L629.3 121.3 L629.9 120.7 L630.5 121.1 L631.2 121.6 L631.8 120.7 L632.5 119.4 L633.1 119.3 L633.8 119.7 L634.4 119.2 L635.0 118.8 L635.6 118.1 L636.1 117.8 L636.7 118.7 L637.3 119.2 L637.9 118.9 L638.5 118.3 L639.0 117.4 L639.6 116.4 L640.2 116.9 L640.8 117.9 L641.4 117.9 L642.0 117.2 L642.6 116.3 L643.2 115.5 L643.8 115.1 L644.4 115.2 L645.0 115.1 L645.5 114.7 L646.1 114.5 L646.7 114.5 L647.2 114.7 L647.8 114.7 L648.4 113.7 L648.9 112.6 L649.5 112.8 L650.1 113.0 L650.7 112.4 L651.3 112.7 L651.8 113.3 L652.4 112.7 L653.0 112.1 L653.6 111.2 L654.2 110.0 L654.7 109.2 L655.3 109.0 L655.9 109.7 L656.4 110.6 L657.0 110.6 L657.5 109.9 L658.1 109.4 L658.7 109.8 L659.3 110.1 L659.9 110.0 L660.5 109.5 L661.1 108.8 L661.6 108.0 L662.2 107.5 L662.8 107.3 L663.4 106.2 L663.9 105.3 L664.5 105.2 L665.0 105.7 L665.6 106.3 L666.1 105.8 L666.6 105.1 L667.0 105.0 L667.5 105.5 L668.2 106.1 L668.9 105.9 L669.6 105.2 L670.2 104.6 L670.8 104.3 L671.4 104.1 L672.0 104.1 L672.6 104.0 L673.1 104.0 L673.6 103.9 L674.2 103.7 L674.7 103.9 L675.2 104.4 L675.7 105.1 L676.2 105.9 L676.5 106.8 L676.8 107.7 L677.1 108.4 L677.4 108.9 L677.7 109.2 L677.9 109.4 L678.2 109.6 L678.4 109.9 L678.7 110.6 L678.9 111.9 L679.2 112.8 L679.5 113.5 L679.8 113.8 L680.1 113.7 L680.5 113.5 L681.1 113.6 L681.7 114.2 L682.4 114.6 L683.1 114.3 L683.8 114.4 L684.4 115.3 L685.0 116.4 L685.5 116.7 L685.9 116.7 L686.4 117.0 L686.8 117.2 L687.2 117.5 L687.6 118.0 L688.0 118.8 L688.4 119.5 L688.7 120.2 L688.9 120.6 L689.1 121.1 L689.3 121.7 L689.4 122.5 L689.6 123.0 L689.7 123.5 L689.8 124.4 L690.0 124.5 L690.1 124.7 L690.2 125.3 L690.3 125.9 L690.4 126.5 L690.5 127.2 L690.6 127.8 L690.7 128.5 L690.7 129.2 L690.8 129.8 L690.9 130.5 L691.0 131.2 L691.1 131.8 L691.2 132.5 L691.3 133.0 L691.3 133.6 L691.4 134.1 L691.5 134.7 L691.6 135.3 L691.6 135.9 L691.7 136.4 L691.7 137.0 L691.8 137.6 L691.9 138.2 L691.9 138.9 L692.0 139.5 L692.0 140.1 L692.1 140.7 L692.1 141.3 L692.2 142.0 L692.2 142.6 L692.3 143.2 L692.3 143.9 L692.4 144.5 L692.4 145.1 L692.5 145.8 L692.5 146.4 L692.6 147.0 L692.6 147.6 L692.7 148.3 L692.7 148.9 L692.8 149.5 L692.8 150.1 L692.9 150.7 L692.9 151.3 L693.0 151.9 L693.0 152.5 L693.1 153.1 L693.1 153.7 L693.2 154.3 L693.2 154.9 L693.3 155.5 L693.3 156.1 L693.4 156.7 L693.4 157.3 L693.5 157.8 L693.5 158.4 L693.6 159.0 L693.6 159.6 L693.6 160.1 L693.7 160.7 L693.7 161.3 L693.8 161.9 L693.8 162.5 L693.9 163.0 L693.9 163.6 L694.0 164.2 L694.0 164.8 L694.1 165.5 L694.1 166.1 L694.2 166.7 L694.2 167.3 L694.3 168.0 L694.3 168.6 L694.4 169.3 L694.4 170.0 L694.4 170.5 L694.5 171.0 L694.5 171.6 L694.5 172.1 L694.6 172.6 L694.6 173.2 L694.6 173.7 L694.7 174.3 L694.7 174.9 L694.8 175.4 L694.8 176.0 L694.8 176.6 L694.9 177.1 L694.9 177.7 L694.9 178.3 L695.0 178.9 L695.0 179.5 L695.0 180.1 L695.1 180.7 L695.1 181.3 L695.1 181.9 L695.2 182.5 L695.2 183.1 L695.2 183.7 L695.3 184.3 L695.3 185.0 L695.3 185.6 L695.4 186.2 L695.4 186.8 L695.4 187.4 L695.5 188.1 L695.5 188.7 L695.5 189.3 L695.6 190.0 L695.6 190.6 L695.6 191.2 L695.7 191.8 L695.7 192.5 L695.8 193.1 L695.8 193.7 L695.8 194.4 L695.9 195.0 L695.9 195.6 L695.9 196.2 L696.0 196.9 L696.0 197.5 L696.0 198.1 L696.1 198.7 L696.1 199.4 L696.1 200.0 L696.2 200.6 L696.2 201.2 L696.2 201.8 L696.3 202.4 L696.3 203.0 L696.3 203.6 L696.4 204.2 L696.4 204.8 L696.4 205.4 L696.5 205.9 L696.5 206.5 L696.5 207.1 L696.6 207.7 L696.6 208.3 L696.6 208.9 L696.7 209.5 L696.7 210.1 L696.7 210.7 L696.8 211.3 L696.8 211.9 L696.8 212.5 L696.9 213.1 L696.9 213.7 L696.9 214.3 L697.0 214.9 L697.0 215.5 L697.0 216.1 L697.1 216.7 L697.1 217.3 L697.2 217.9 L697.2 218.5 L697.2 219.2 L697.3 219.8 L697.3 220.4 L697.3 221.0 L697.4 221.6 L697.4 222.2 L697.4 222.8 L697.5 223.4 L697.5 224.0 L697.5 224.6 L697.6 225.2 L697.6 225.8 L697.6 226.4 L697.7 227.0 L697.7 227.7 L697.7 228.3 L697.8 228.9 L697.8 229.5 L697.8 230.1 L697.9 230.7 L697.9 231.3 L697.9 231.9 L698.0 232.5 L698.0 233.2 L698.0 233.8 L698.1 234.4 L698.1 235.0 L698.1 235.6 L698.2 236.2 L698.2 236.8 L698.2 237.4 L698.3 238.0 L698.3 238.6 L698.3 239.2 L698.4 239.8 L698.4 240.4 L698.4 241.0 L698.4 241.6 L698.5 242.2 L698.5 242.9 L698.5 243.5 L698.6 244.1 L698.6 244.7 L698.6 245.3 L698.7 245.9 L698.7 246.5 L698.7 247.2 L698.8 247.8 L698.8 248.4 L698.8 249.0 L698.9 249.6 L698.9 250.2 L698.9 250.9 L698.9 251.5 L699.0 252.1 L699.0 252.7 L699.0 253.3 L699.1 253.9 L699.1 254.6 L699.1 255.2 L699.2 255.8 L699.2 256.4 L699.2 257.0 L699.3 257.6 L699.3 258.2 L699.3 258.8 L699.3 259.5 L699.4 260.1 L699.4 260.7 L699.4 261.3 L699.5 261.9 L699.5 262.5 L699.5 263.1 L699.6 263.7 L699.6 264.3 L699.6 264.9 L699.7 265.4 L699.7 266.0 L699.7 266.6 L699.8 267.2 L699.8 267.8 L699.8 268.4 L699.9 268.9 L699.9 269.5 L699.9 270.1 L700.0 270.6 L700.0 271.2 L700.0 271.9 L700.1 272.5 L700.1 273.2 L700.2 273.8 L700.2 274.4 L700.2 275.1 L700.3 275.7 L700.3 276.4 L700.4 277.0 L700.4 277.7 L700.4 278.3 L700.5 278.9 L700.5 279.6 L700.6 280.2 L700.6 280.8 L700.6 281.5 L700.7 282.1 L700.7 282.7 L700.8 283.3 L700.8 283.9 L700.9 284.6 L700.9 285.2 L700.9 285.8 L701.0 286.4 L701.0 287.0 L701.1 287.6 L701.1 288.2 L701.2 288.8 L701.2 289.4 L701.2 290.0 L701.3 290.6 L701.3 291.2 L701.4 291.8 L701.4 292.4 L701.5 293.0 L701.5 293.6 L701.5 294.2 L701.6 294.7 L701.6 295.3 L701.7 295.9 L701.7 296.4 L701.8 297.0 L701.8 297.6 L701.9 298.1 L701.9 298.7 L702.0 299.4 L702.0 300.0 L702.1 300.7 L702.1 301.3 L702.2 302.0 L702.2 302.6 L702.3 303.3 L702.3 303.9 L702.4 304.6 L702.4 305.2 L702.5 305.9 L702.5 306.5 L702.6 307.1 L702.6 307.7 L702.7 308.4 L702.8 309.0 L702.8 309.6 L702.9 310.2 L702.9 310.8 L703.0 311.4 L703.0 312.0 L703.1 312.6 L703.1 313.2 L703.2 313.7 L703.3 314.3 L703.3 314.9 L703.4 315.4 L703.4 315.9 L703.5 316.5 L703.6 317.0 L703.6 317.5 L703.7 318.0 L703.8 318.7 L703.9 319.5 L704.0 320.3 L704.1 321.1 L704.2 321.9 L704.3 322.6 L704.4 323.4 L704.5 324.1 L704.6 324.8 L704.7 325.5 L704.8 326.0 L704.9 326.5 L705.0 326.9 L705.1 327.2 L705.2 327.4 L705.3 327.5 L705.4 327.4 L705.5 327.2 L705.6 326.9 L705.7 326.5 L705.8 326.0 L705.9 325.5 L706.0 324.8 L706.1 324.1 L706.2 323.4 L706.3 322.6 L706.4 321.8 L706.5 321.0 L706.6 320.2 L706.7 319.5 L706.8 318.7 L706.9 318.0 L707.0 317.5 L707.0 317.0 L707.1 316.4 L707.2 315.9 L707.2 315.3 L707.3 314.8 L707.3 314.2 L707.4 313.6 L707.5 313.1 L707.5 312.5 L707.6 311.9 L707.6 311.3 L707.7 310.6 L707.7 310.0 L707.8 309.4 L707.8 308.8 L707.9 308.2 L708.0 307.5 L708.0 306.9 L708.1 306.3 L708.1 305.6 L708.2 305.0 L708.3 304.4 L708.3 303.8 L708.4 303.1 L708.4 302.5 L708.5 301.9 L708.6 301.2 L708.6 300.6 L708.7 300.0 L708.8 299.4 L708.8 298.8 L708.9 298.2 L709.0 297.6 L709.0 297.0 L709.1 296.3 L709.2 295.7 L709.3 295.1 L709.3 294.4 L709.4 293.8 L709.5 293.1 L709.6 292.5 L709.6 291.8 L709.7 291.2 L709.8 290.6 L709.9 289.9 L709.9 289.3 L710.0 288.6 L710.1 288.0 L710.2 287.4 L710.2 286.8 L710.3 286.2 L710.4 285.5 L710.5 284.9 L710.6 284.4 L710.6 283.8 L710.7 283.2 L710.8 282.6 L710.9 282.1 L711.0 281.5 L711.0 281.0 L711.1 280.5 L711.2 280.0 L711.3 279.3 L711.4 278.6 L711.5 277.9 L711.6 277.2 L711.7 276.6 L711.8 275.9 L711.9 275.3 L712.0 274.7 L712.2 274.1 L712.3 273.5 L712.4 272.9 L712.5 272.4 L712.6 271.9 L712.8 271.4 L712.9 270.9 L713.1 270.5 L713.4 269.7 L713.8 268.9 L714.2 268.2 L714.6 267.8 L715.0 267.6 L715.3 267.7 L715.7 268.1 L716.1 268.6 L716.4 269.2 L716.8 269.9 L717.2 270.6 L717.5 271.2 L717.8 271.8 L718.1 272.4 L718.4 273.1 L718.7 273.9 L718.9 274.5 L719.2 275.2 L719.5 275.7 L719.7 276.0 L720.0 276.1 L720.3 275.9 L720.7 275.5 L721.0 274.9 L721.3 274.1 L721.6 273.3 L721.9 272.5 L722.1 272.0 L722.2 271.5 L722.3 271.0 L722.5 270.4 L722.6 269.8 L722.7 269.1 L722.8 268.5 L722.9 267.8 L723.0 267.2 L723.1 266.5 L723.2 265.8 L723.3 265.1 L723.4 264.4 L723.5 263.8 L723.6 263.1 L723.7 262.5 L723.8 261.9 L723.9 261.3 L724.1 260.6 L724.2 260.0 L724.3 259.4 L724.4 258.8 L724.5 258.2 L724.7 257.6 L724.8 257.0 L724.9 256.3 L725.0 255.7 L725.1 255.1 L725.3 254.4 L725.4 253.8 L725.5 253.2 L725.6 252.5 L725.7 251.9 L725.8 251.4 L725.9 250.8 L726.0 250.2 L726.1 249.6 L726.2 249.0 L726.3 248.4 L726.4 247.8 L726.5 247.2 L726.6 246.6 L726.6 245.9 L726.7 245.3 L726.8 244.7 L726.9 244.1 L727.0 243.5 L727.1 242.9 L727.2 242.3 L727.3 241.7 L727.3 241.1 L727.4 240.6 L727.5 240.0 L727.6 239.4 L727.7 238.7 L727.7 238.1 L727.8 237.5 L727.9 236.9 L727.9 236.3 L728.0 235.7 L728.1 235.1 L728.1 234.5 L728.2 233.9 L728.3 233.3 L728.3 232.7 L728.4 232.1 L728.5 231.4 L728.6 230.7 L728.7 230.0 L728.8 229.5 L728.9 229.0 L728.9 228.4 L729.0 227.9 L729.1 227.3 L729.2 226.7 L729.3 226.1 L729.4 225.5 L729.5 224.9 L729.6 224.3 L729.7 223.6 L729.9 223.0 L730.0 222.4 L730.1 221.7 L730.2 221.1 L730.3 220.4 L730.4 219.8 L730.6 219.1 L730.7 218.5 L730.8 217.8 L730.9 217.2 L731.1 216.5 L731.2 215.9 L731.3 215.2 L731.4 214.6 L731.6 214.0 L731.7 213.4 L731.8 212.8 L732.0 212.2 L732.1 211.6 L732.2 211.1 L732.4 210.5 L732.5 210.0 L732.7 209.3 L732.8 208.7 L733.0 208.0 L733.2 207.3 L733.3 206.7 L733.5 206.0 L733.7 205.4 L733.9 204.7 L734.0 204.1 L734.2 203.5 L734.4 202.9 L734.6 202.3 L734.8 201.7 L735.0 201.1 L735.2 200.6 L735.4 200.1 L735.6 199.6 L735.8 199.1 L736.0 198.6 L736.2 198.2 L736.6 197.5 L737.0 196.8 L737.4 196.1 L737.8 195.5 L738.2 195.0 L738.6 194.6 L739.0 194.3 L739.4 194.2 L739.8 194.3 L740.2 194.6 L740.6 195.1 L741.1 195.6 L741.5 196.3 L741.8 197.0 L742.2 197.8 L742.5 198.5 L742.7 198.9 L742.8 199.4 L743.0 199.9 L743.1 200.4 L743.2 200.9 L743.3 201.5 L743.4 202.1 L743.5 202.7 L743.6 203.3 L743.7 203.9 L743.7 204.5 L743.8 205.2 L743.9 205.8 L743.9 206.5 L744.0 207.1 L744.1 207.8 L744.1 208.5 L744.2 209.2 L744.3 209.8 L744.3 210.5 L744.4 211.2 L744.5 211.7 L744.5 212.3 L744.6 212.8 L744.6 213.4 L744.7 214.0 L744.8 214.5 L744.8 215.1 L744.9 215.7 L744.9 216.3 L745.0 216.9 L745.1 217.5 L745.1 218.1 L745.2 218.7 L745.2 219.3 L745.3 219.9 L745.3 220.5 L745.4 221.1 L745.4 221.7 L745.5 222.4 L745.5 223.0 L745.6 223.6 L745.6 224.3 L745.7 224.9 L745.7 225.5 L745.8 226.2 L745.8 226.8 L745.9 227.5 L745.9 228.1 L746.0 228.8 L746.0 229.4 L746.1 230.1 L746.1 230.7 L746.2 231.3 L746.2 232.0 L746.2 232.6 L746.3 233.1 L746.3 233.7 L746.3 234.3 L746.4 234.9 L746.4 235.5 L746.4 236.1 L746.5 236.7 L746.5 237.3 L746.5 237.9 L746.6 238.5 L746.6 239.1 L746.6 239.7 L746.6 240.3 L746.7 240.9 L746.7 241.5 L746.7 242.1 L746.8 242.7 L746.8 243.3 L746.8 244.0 L746.8 244.6 L746.9 245.2 L746.9 245.8 L746.9 246.4 L746.9 247.1 L747.0 247.7 L747.0 248.3 L747.0 248.9 L747.0 249.5 L747.1 250.2 L747.1 250.8 L747.1 251.4 L747.1 252.0 L747.2 252.6 L747.2 253.2 L747.2 253.9 L747.3 254.5 L747.3 255.1 L747.3 255.7 L747.4 256.3 L747.4 256.9 L747.4 257.5 L747.5 258.1 L747.5 258.7 L747.5 259.3 L747.6 259.9 L747.6 260.6 L747.7 261.2 L747.7 261.8 L747.7 262.4 L747.8 263.0 L747.8 263.7 L747.9 264.3 L747.9 264.9 L748.0 265.5 L748.0 266.1 L748.1 266.8 L748.1 267.4 L748.2 268.0 L748.2 268.6 L748.3 269.2 L748.3 269.8 L748.3 270.5 L748.4 271.1 L748.4 271.7 L748.5 272.3 L748.5 272.9 L748.6 273.5 L748.6 274.1 L748.7 274.7 L748.7 275.3 L748.8 276.0 L748.8 276.6 L748.9 277.2 L748.9 277.8 L749.0 278.4 L749.0 279.0 L749.1 279.6 L749.1 280.2 L749.2 280.8 L749.2 281.3 L749.3 281.9 L749.3 282.5 L749.4 283.1 L749.4 283.7 L749.4 284.3 L749.5 285.0 L749.5 285.6 L749.6 286.2 L749.6 286.8 L749.7 287.4 L749.7 288.0 L749.8 288.6 L749.8 289.2 L749.9 289.8 L749.9 290.4 L750.0 291.0 L750.0 291.6 L750.0 292.2 L750.1 292.8 L750.1 293.3 L750.2 293.9 L750.2 294.5 L750.3 295.1 L750.3 295.7 L750.4 296.3 L750.4 296.9 L750.4 297.5 L750.5 298.1 L750.5 298.7 L750.6 299.3 L750.6 299.9 L750.7 300.5 L750.7 301.2 L750.8 301.8 L750.8 302.4 L750.9 303.0 L750.9 303.7 L751.0 304.3 L751.0 305.0 L751.0 305.6 L751.1 306.1 L751.1 306.7 L751.2 307.2 L751.2 307.8 L751.2 308.4 L751.3 309.0 L751.3 309.6 L751.4 310.2 L751.4 310.8 L751.4 311.4 L751.5 312.0 L751.5 312.6 L751.6 313.3 L751.6 313.9 L751.6 314.5 L751.7 315.1 L751.7 315.8 L751.8 316.4 L751.8 317.0 L751.8 317.6 L751.9 318.3 L751.9 318.9 L752.0 319.5 L752.0 320.2 L752.1 320.8 L752.1 321.4 L752.1 322.1 L752.2 322.7 L752.2 323.3 L752.3 324.0 L752.3 324.6 L752.3 325.2 L752.4 325.8 L752.4 326.4 L752.5 327.0 L752.5 327.6 L752.6 328.2 L752.6 328.8 L752.6 329.4 L752.7 330.0 L752.7 330.6 L752.8 331.2 L752.8 331.7 L752.9 332.3 L752.9 332.9 L753.0 333.4 L753.0 333.9 L753.1 334.5 L753.1 335.0 L753.2 335.7 L753.2 336.4 L753.3 337.2 L753.3 338.0 L753.4 338.7 L753.5 339.5 L753.5 340.4 L753.6 341.2 L753.7 342.0 L753.7 342.8 L753.8 343.6 L753.9 344.4 L753.9 345.2 L754.0 345.9 L754.1 346.7 L754.1 347.4 L754.2 348.0 L754.3 348.7 L754.3 349.3 L754.4 349.9 L754.5 350.4 L754.5 350.9 L754.6 351.3 L754.7 351.7 L754.7 352.0 L754.8 352.3 L754.9 352.4 L754.9 352.6 L755.0 352.6 L755.1 352.5 L755.2 352.3 L755.3 352.0 L755.4 351.6 L755.5 351.1 L755.6 350.5 L755.7 349.8 L755.8 349.1 L755.9 348.3 L756.0 347.5 L756.0 346.7 L756.1 345.9 L756.2 345.0 L756.3 344.2 L756.4 343.4 L756.5 342.7 L756.6 342.0 L756.7 341.4 L756.7 340.9 L756.8 340.3 L756.9 339.7 L757.0 339.1 L757.0 338.5 L757.1 337.9 L757.1 337.3 L757.2 336.7 L757.3 336.1 L757.3 335.5 L757.4 334.9 L757.5 334.3 L757.5 333.7 L757.6 333.1 L757.7 332.5 L757.7 331.9 L757.8 331.2 L757.9 330.6 L757.9 330.0 L758.0 329.3 L758.1 328.7 L758.2 328.1 L758.2 327.6 L758.3 327.0 L758.4 326.4 L758.5 325.8 L758.6 325.2 L758.6 324.5 L758.7 323.9 L758.8 323.3 L758.9 322.7 L759.0 322.1 L759.1 321.4 L759.2 320.8 L759.3 320.2 L759.3 319.6 L759.4 318.9 L759.5 318.3 L759.6 317.7 L759.7 317.1 L759.8 316.5 L759.8 315.9 L759.9 315.3 L760.0 314.7 L760.1 314.2 L760.1 313.6 L760.2 313.1 L760.2 312.5 L760.3 312.0 L760.4 311.3 L760.4 310.6 L760.5 310.0 L760.5 309.4 L760.6 308.8 L760.6 308.2 L760.7 307.6 L760.7 307.0 L760.8 306.4 L760.8 305.8 L760.8 305.2 L760.9 304.6 L760.9 303.9 L761.0 303.2 L761.0 302.5 L761.0 302.0 L761.1 301.5 L761.1 300.9 L761.1 300.4 L761.2 299.8 L761.2 299.2 L761.2 298.7 L761.3 298.1 L761.3 297.5 L761.4 296.9 L761.4 296.2 L761.4 295.6 L761.5 295.0 L761.5 294.4 L761.5 293.7 L761.6 293.1 L761.6 292.4 L761.7 291.8 L761.7 291.2 L761.7 290.5 L761.8 289.9 L761.8 289.2 L761.9 288.6 L761.9 288.0 L761.9 287.3 L762.0 286.7 L762.0 286.1 L762.1 285.5 L762.1 284.9 L762.2 284.3 L762.2 283.7 L762.2 283.1 L762.3 282.4 L762.3 281.8 L762.4 281.2 L762.4 280.5 L762.5 279.9 L762.5 279.2 L762.6 278.6 L762.6 277.9 L762.7 277.3 L762.8 276.6 L762.8 276.0 L762.9 275.4 L762.9 274.7 L763.0 274.1 L763.0 273.5 L763.1 272.9 L763.1 272.3 L763.2 271.7 L763.3 271.1 L763.3 270.6 L763.4 270.0 L763.4 269.5 L763.5 269.0 L763.6 268.5 L763.6 268.0 L763.7 267.5 L763.8 266.7 L763.9 266.0 L764.0 265.3 L764.1 264.6 L764.2 264.0 L764.3 263.4 L764.4 262.8 L764.6 262.2 L764.8 261.7 L765.0 261.2 L765.3 260.6 L765.7 260.0 L766.1 259.5 L766.6 259.0 L767.0 258.6 L767.5 258.2 L768.1 257.6 L768.7 257.1 L769.4 256.7 L770.0 256.6 L770.5 256.8 L771.1 257.1 L771.6 257.7 L772.1 258.3 L772.5 259.0 L772.7 259.4 L772.9 259.9 L773.1 260.4 L773.2 261.0 L773.4 261.6 L773.5 262.2 L773.6 262.8 L773.7 263.5 L773.8 264.2 L773.9 264.9 L774.1 265.5 L774.2 266.2 L774.3 266.9 L774.4 267.5 L774.5 268.1 L774.6 268.7 L774.8 269.3 L774.9 269.9 L775.0 270.5 L775.1 271.1 L775.2 271.8 L775.3 272.4 L775.4 273.0 L775.5 273.6 L775.7 274.3 L775.8 274.9 L775.9 275.5 L776.0 276.2 L776.1 276.8 L776.2 277.5 L776.3 278.1 L776.4 278.6 L776.5 279.2 L776.6 279.8 L776.6 280.4 L776.7 281.1 L776.8 281.7 L776.9 282.3 L777.0 282.9 L777.1 283.5 L777.2 284.2 L777.3 284.8 L777.3 285.4 L777.4 286.0 L777.5 286.6 L777.6 287.2 L777.7 287.8 L777.8 288.4 L777.9 288.9 L778.0 289.5 L778.1 290.0 L778.2 290.7 L778.4 291.3 L778.5 292.0 L778.6 292.6 L778.7 293.2 L778.9 293.8 L779.0 294.4 L779.1 295.0 L779.3 295.6 L779.4 296.1 L779.6 296.6 L779.8 297.1 L780.0 297.6 L780.3 298.3 L780.7 299.0 L781.0 299.7 L781.4 300.4 L781.8 300.9 L782.2 301.2 L782.5 301.3 L782.8 301.1 L783.0 300.7 L783.2 300.2 L783.4 299.5 L783.6 298.7 L783.8 297.9 L784.0 297.1 L784.2 296.5 L784.4 296.0 L784.8 295.3 L785.2 294.6 L785.6 294.4 L785.9 294.6 L786.1 295.0 L786.4 295.6 L786.7 296.4 L786.9 297.2 L787.2 298.0 L787.5 298.7 L787.7 299.2 L787.9 299.8 L788.2 300.3 L788.4 300.9 L788.7 301.5 L788.9 302.0 L789.1 302.6 L789.4 303.2 L789.6 303.8 L789.8 304.4 L790.0 305.0 L790.2 305.6 L790.3 306.2 L790.5 306.8 L790.7 307.4 L790.8 308.0 L790.9 308.6 L791.1 309.3 L791.2 309.9 L791.4 310.4 L791.6 311.0 L791.7 311.5 L791.9 312.0 L792.2 312.7 L792.4 313.4 L792.7 314.1 L793.0 314.7 L793.3 315.1 L793.7 315.3 L794.1 315.2 L794.6 314.9 L795.1 314.4 L795.7 313.9 L796.2 313.5 L796.7 313.2 L797.3 312.9 L797.9 312.7 L798.5 312.4 L799.0 312.0 L799.4 311.5 L799.6 311.1 L799.8 310.6 L799.9 310.1 L800.1 309.6 L800.1 309.0 L800.2 308.4 L800.3 307.8 L800.3 307.1 L800.3 306.5 L800.4 305.8 L800.4 305.1 L800.5 304.4 L800.6 303.7 L800.7 303.2 L800.8 302.6 L800.8 302.1 L800.9 301.5 L801.0 300.9 L801.1 300.3 L801.1 299.7 L801.2 299.1 L801.3 298.5 L801.4 297.9 L801.5 297.3 L801.5 296.6 L801.6 296.0 L801.7 295.4 L801.8 294.8 L801.9 294.1 L802.0 293.5 L802.1 292.9 L802.1 292.3 L802.2 291.7 L802.3 291.1 L802.4 290.6 L802.5 290.0 L802.6 289.3 L802.7 288.7 L802.8 288.0 L802.9 287.3 L803.0 286.7 L803.1 286.0 L803.2 285.4 L803.4 284.7 L803.5 284.1 L803.6 283.5 L803.7 282.9 L803.8 282.3 L804.0 281.7 L804.1 281.1 L804.2 280.6 L804.4 280.0 L804.6 279.4 L804.8 278.7 L805.0 278.1 L805.2 277.4 L805.4 276.8 L805.6 276.2 L805.8 275.6 L806.1 275.1 L806.3 274.6 L806.6 274.1 L806.9 273.7 L807.4 273.2 L807.9 272.9 L808.5 272.6 L809.0 272.3 L809.6 272.0 L810.0 271.5 L810.3 271.1 L810.5 270.5 L810.7 270.0 L810.8 269.4 L811.0 268.7 L811.1 268.1 L811.2 267.4 L811.4 266.8 L811.5 266.1 L811.7 265.5 L811.9 265.0 L812.2 264.4 L812.4 263.8 L812.7 263.2 L813.0 262.7 L813.4 262.1 L813.7 261.6 L814.0 261.2 L814.4 260.8 L815.0 260.2 L815.7 259.8 L816.3 259.4 L816.9 259.4 L817.3 259.6 L817.7 260.0 L818.0 260.5 L818.4 261.1 L818.7 261.8 L819.0 262.5 L819.2 262.9 L819.4 263.4 L819.5 263.9 L819.7 264.4 L819.9 265.0 L820.1 265.6 L820.2 266.2 L820.4 266.8 L820.5 267.4 L820.7 268.1 L820.8 268.7 L821.0 269.4 L821.1 270.0 L821.2 270.7 L821.4 271.4 L821.5 272.0 L821.6 272.6 L821.7 273.2 L821.8 273.7 L821.9 274.3 L822.1 274.9 L822.2 275.5 L822.3 276.1 L822.4 276.8 L822.5 277.4 L822.5 278.0 L822.6 278.6 L822.7 279.2 L822.8 279.9 L822.9 280.5 L823.0 281.2 L823.1 281.8 L823.2 282.4 L823.3 283.1 L823.3 283.7 L823.4 284.4 L823.5 285.0 L823.6 285.6 L823.6 286.2 L823.7 286.7 L823.8 287.3 L823.8 287.9 L823.9 288.5 L824.0 289.1 L824.0 289.7 L824.1 290.3 L824.2 290.9 L824.2 291.5 L824.3 292.1 L824.3 292.7 L824.4 293.3 L824.5 293.9 L824.5 294.6 L824.6 295.2 L824.6 295.8 L824.7 296.4 L824.7 297.0 L824.8 297.6 L824.8 298.2 L824.9 298.8 L824.9 299.4 L825.0 300.0 L825.1 300.6 L825.1 301.2 L825.2 301.8 L825.2 302.4 L825.2 303.0 L825.3 303.6 L825.3 304.2 L825.4 304.8 L825.4 305.4 L825.5 306.0 L825.5 306.6 L825.6 307.2 L825.6 307.8 L825.6 308.4 L825.7 309.0 L825.7 309.6 L825.8 310.2 L825.8 310.8 L825.9 311.4 L825.9 312.0 L826.0 312.6 L826.0 313.2 L826.1 313.8 L826.1 314.4 L826.2 315.0 L826.3 315.6 L826.3 316.2 L826.4 316.8 L826.4 317.4 L826.5 318.0 L826.6 318.6 L826.6 319.2 L826.7 319.8 L826.8 320.4 L826.8 321.0 L826.9 321.6 L827.0 322.2 L827.1 322.8 L827.1 323.4 L827.2 324.1 L827.3 324.7 L827.4 325.3 L827.4 325.9 L827.5 326.5 L827.6 327.1 L827.7 327.7 L827.7 328.3 L827.8 328.9 L827.9 329.5 L828.0 330.0 L828.0 330.6 L828.1 331.2 L828.2 331.8 L828.3 332.4 L828.3 333.1 L828.4 333.7 L828.5 334.3 L828.6 334.9 L828.7 335.5 L828.8 336.1 L828.9 336.7 L828.9 337.4 L829.0 338.0 L829.1 338.6 L829.2 339.2 L829.3 339.8 L829.4 340.3 L829.5 340.9 L829.5 341.5 L829.6 342.1 L829.7 342.7 L829.8 343.3 L829.9 343.9 L829.9 344.4 L830.0 345.0 L830.1 345.6 L830.2 346.3 L830.2 346.9 L830.3 347.5 L830.4 348.2 L830.4 348.8 L830.5 349.4 L830.6 350.0 L830.6 350.6 L830.7 351.2 L830.8 351.8 L830.8 352.4 L830.9 353.0 L830.9 353.7 L831.0 354.3 L831.1 354.9 L831.1 355.6 L831.2 356.2 L831.3 356.8 L831.3 357.3 L831.4 357.9 L831.4 358.5 L831.5 359.1 L831.5 359.6 L831.6 360.2 L831.7 360.8 L831.7 361.4 L831.8 362.0 L831.8 362.6 L831.9 363.2 L832.0 363.8 L832.0 364.4 L832.1 365.0 L832.1 365.6 L832.2 366.2 L832.2 366.8 L832.3 367.5 L832.3 368.1 L832.4 368.7 L832.4 369.4 L832.5 370.0 L832.5 370.6 L832.6 371.1 L832.6 371.7 L832.7 372.3 L832.7 372.9 L832.7 373.5 L832.8 374.1 L832.8 374.7 L832.8 375.3 L832.9 375.9 L832.9 376.5 L832.9 377.1 L833.0 377.7 L833.0 378.3 L833.1 378.9 L833.1 379.6 L833.1 380.2 L833.2 380.8 L833.2 381.4 L833.2 382.0 L833.3 382.7 L833.3 383.3 L833.3 383.9 L833.4 384.5 L833.4 385.1 L833.5 385.7 L833.5 386.3 L833.6 386.9 L833.6 387.5 L833.6 388.1 L833.7 388.7 L833.8 389.3 L833.8 390.0 L833.9 390.6 L833.9 391.2 L834.0 391.9 L834.1 392.5 L834.1 393.1 L834.2 393.8 L834.3 394.4 L834.3 395.1 L834.4 395.7 L834.5 396.3 L834.5 397.0 L834.6 397.6 L834.7 398.2 L834.8 398.8 L834.8 399.4 L834.9 400.0 L835.0 400.6 L835.1 401.2 L835.1 401.8 L835.2 402.3 L835.3 402.9 L835.4 403.4 L835.4 404.0 L835.5 404.5 L835.6 405.0 L835.7 405.7 L835.8 406.5 L835.9 407.2 L836.1 407.8 L836.2 408.5 L836.3 409.2 L836.4 409.8 L836.5 410.4 L836.7 411.0 L836.8 411.6 L836.9 412.2 L837.1 412.7 L837.2 413.2 L837.4 414.0 L837.6 414.8 L837.8 415.5 L838.1 416.2 L838.3 416.6 L838.5 416.8 L838.7 416.7 L838.9 416.3 L839.1 415.7 L839.4 415.0 L839.6 414.2 L839.8 413.3 L840.0 412.5 L840.1 412.1 L840.2 411.6 L840.3 411.1 L840.4 410.6 L840.6 410.0 L840.7 409.5 L840.8 408.9 L840.9 408.3 L841.0 407.7 L841.1 407.1 L841.2 406.5 L841.3 405.8 L841.4 405.2 L841.5 404.5 L841.6 403.9 L841.8 403.2 L841.9 402.5 L842.0 401.9 L842.1 401.2 L842.2 400.6 L842.3 399.9 L842.4 399.3 L842.5 398.7 L842.6 398.1 L842.7 397.5 L842.8 396.9 L842.9 396.3 L843.0 395.7 L843.1 395.1 L843.2 394.5 L843.3 393.9 L843.4 393.3 L843.5 392.7 L843.6 392.1 L843.7 391.5 L843.8 390.9 L843.9 390.3 L844.0 389.6 L844.1 389.0 L844.2 388.4 L844.3 387.8 L844.4 387.2 L844.5 386.6 L844.6 386.0 L844.7 385.4 L844.8 384.9 L844.9 384.3 L845.0 383.7 L845.1 383.1 L845.2 382.4 L845.3 381.8 L845.4 381.1 L845.5 380.5 L845.5 379.8 L845.6 379.1 L845.7 378.5 L845.8 377.8 L845.9 377.2 L845.9 376.6 L846.0 375.9 L846.1 375.3 L846.2 374.7 L846.3 374.1 L846.4 373.6 L846.5 373.0 L846.6 372.5 L846.7 372.0 L846.8 371.5 L846.9 371.0 L847.1 370.3 L847.3 369.5 L847.5 368.7 L847.7 368.1 L847.9 367.4 L848.1 366.9 L848.4 366.6 L848.7 366.4 L849.1 366.4 L849.6 366.7 L850.2 367.2 L850.7 367.8 L851.2 368.3 L851.6 368.8 L852.0 369.4 L852.4 370.1 L852.8 370.8 L853.2 371.5 L853.6 372.0 L854.0 372.4 L854.4 372.5 L854.8 372.4 L855.2 372.1 L855.6 371.6 L856.0 371.0 L856.4 370.3 L856.8 369.6 L857.2 368.8 L857.5 368.1 L857.7 367.6 L857.9 367.1 L858.1 366.5 L858.2 365.9 L858.4 365.3 L858.5 364.6 L858.7 364.0 L858.8 363.3 L859.0 362.7 L859.1 362.0 L859.2 361.4 L859.4 360.8 L859.5 360.2 L859.7 359.7 L859.8 359.2 L860.0 358.7 L860.3 358.0 L860.6 357.2 L860.9 356.5 L861.3 355.9 L861.6 355.5 L861.9 355.4 L862.1 355.6 L862.3 356.0 L862.6 356.6 L862.8 357.3 L863.0 358.1 L863.2 359.0 L863.5 359.9 L863.7 360.7 L863.9 361.4 L864.1 362.0 L864.2 362.4 L864.4 362.5 L864.5 362.4 L864.7 362.1 L864.8 361.7 L864.9 361.2 L865.0 360.6 L865.1 359.9 L865.2 359.1 L865.3 358.3 L865.4 357.4 L865.4 356.6 L865.5 355.8 L865.6 355.0 L865.7 354.5 L865.7 354.0 L865.8 353.5 L865.8 353.0 L865.9 352.4 L865.9 351.8 L865.9 351.3 L866.0 350.7 L866.0 350.1 L866.1 349.5 L866.1 348.8 L866.1 348.2 L866.2 347.6 L866.2 346.9 L866.3 346.3 L866.3 345.7 L866.3 345.0 L866.4 344.4 L866.4 343.7 L866.5 343.1 L866.5 342.4 L866.6 341.8 L866.6 341.2 L866.6 340.5 L866.7 339.9 L866.7 339.3 L866.8 338.7 L866.8 338.1 L866.9 337.5 L867.0 336.9 L867.0 336.2 L867.1 335.6 L867.1 335.0 L867.2 334.3 L867.3 333.7 L867.3 333.0 L867.4 332.4 L867.5 331.7 L867.5 331.1 L867.6 330.5 L867.6 329.8 L867.7 329.2 L867.8 328.6 L867.9 328.0 L867.9 327.4 L868.0 326.8 L868.1 326.2 L868.2 325.6 L868.2 325.1 L868.3 324.5 L868.4 324.0 L868.5 323.5 L868.6 323.0 L868.7 322.5 L868.9 321.7 L869.0 321.0 L869.2 320.3 L869.3 319.6 L869.5 319.0 L869.7 318.3 L869.9 317.8 L870.1 317.2 L870.3 316.7 L870.6 316.3 L871.0 315.7 L871.5 315.2 L872.0 314.8 L872.6 314.5 L873.1 314.4 L873.5 314.5 L874.0 314.8 L874.5 315.2 L875.0 315.7 L875.5 316.3 L875.9 316.9 L876.4 317.5 L876.9 318.1 L877.3 318.6 L877.7 319.2 L878.1 319.8 L878.4 320.5 L878.8 321.1 L879.2 321.8 L879.6 322.4 L879.9 322.9 L880.3 323.3 L880.7 323.5 L881.0 323.6 L881.4 323.5 L881.8 323.2 L882.2 322.7 L882.6 322.1 L883.0 321.4 L883.4 320.7 L883.7 320.0 L883.9 319.6 L884.1 319.1 L884.3 318.6 L884.4 318.0 L884.6 317.5 L884.7 316.9 L884.9 316.3 L885.0 315.7 L885.1 315.0 L885.3 314.4 L885.4 313.8 L885.5 313.1 L885.7 312.5 L885.8 311.8 L885.9 311.2 L886.1 310.6 L886.2 310.0 L886.3 309.4 L886.5 308.8 L886.7 308.2 L886.8 307.5 L887.0 306.9 L887.2 306.3 L887.3 305.6 L887.5 305.0 L887.6 304.4 L887.8 303.8 L887.9 303.2 L888.1 302.6 L888.2 302.0 L888.4 301.5 L888.5 301.0 L888.6 300.5 L888.7 300.0 L888.8 299.3 L889.0 298.7 L889.1 298.1 L889.2 297.6 L889.3 297.0 L889.4 296.2 L889.5 295.8 L889.5 295.3 L889.6 294.8 L889.7 294.3 L889.8 293.7 L889.9 293.2 L890.0 292.6 L890.1 291.9 L890.2 291.3 L890.3 290.6 L890.4 290.0 L890.5 289.3 L890.6 288.6 L890.7 288.0 L890.8 287.3 L890.9 286.6 L891.0 285.9 L891.2 285.3 L891.3 284.6 L891.4 284.0 L891.5 283.4 L891.6 282.8 L891.7 282.2 L891.8 281.7 L891.9 281.2 L892.0 280.5 L892.2 279.8 L892.3 279.1 L892.4 278.4 L892.5 277.8 L892.7 277.2 L892.8 276.6 L892.9 276.0 L893.1 275.4 L893.3 274.9 L893.5 274.4 L893.7 274.0 L894.1 273.3 L894.6 272.7 L895.1 272.1 L895.7 271.8 L896.2 271.6 L896.7 271.7 L897.2 271.9 L897.7 272.3 L898.2 272.8 L898.7 273.3 L899.1 273.8 L899.5 274.3 L899.8 274.9 L900.2 275.6 L900.5 276.2 L900.9 276.8 L901.2 277.3 L901.7 278.0 L902.1 278.7 L902.6 279.3 L903.1 279.5 L903.4 279.3 L903.8 278.9 L904.1 278.2 L904.4 277.5 L904.8 276.9 L905.2 276.3 L905.6 276.0 L906.2 275.9 L906.8 275.9 L907.5 276.0 L908.2 276.2 L908.9 276.4 L909.4 276.8 L909.8 277.2 L910.1 277.8 L910.3 278.4 L910.6 279.1 L910.8 279.8 L911.0 280.5 L911.2 281.2 L911.4 281.8 L911.7 282.4 L911.9 283.1 L912.1 283.7 L912.3 284.3 L912.6 284.9 L912.8 285.6 L913.1 286.2 L913.4 286.8 L913.6 287.3 L913.9 287.8 L914.2 288.4 L914.5 288.9 L914.8 289.4 L915.1 290.0 L915.4 290.6 L915.6 291.2 L915.8 291.7 L916.0 292.3 L916.1 292.8 L916.3 293.4 L916.4 294.0 L916.6 294.6 L916.7 295.2 L916.8 295.8 L917.0 296.5 L917.1 297.1 L917.2 297.7 L917.4 298.4 L917.5 299.0 L917.6 299.6 L917.8 300.2 L917.9 300.8 L918.0 301.4 L918.1 302.0 L918.3 302.6 L918.4 303.2 L918.5 303.9 L918.6 304.5 L918.7 305.1 L918.9 305.7 L919.0 306.3 L919.1 306.9 L919.2 307.5 L919.3 308.1 L919.4 308.7 L919.5 309.4 L919.6 310.0 L919.7 310.6 L919.8 311.2 L919.9 311.8 L920.0 312.4 L920.1 313.0 L920.2 313.6 L920.3 314.3 L920.4 314.9 L920.5 315.5 L920.6 316.2 L920.7 316.8 L920.8 317.3 L920.9 317.9 L921.0 318.5 L921.1 319.1 L921.2 319.7 L921.3 320.3 L921.4 320.9 L921.5 321.5 L921.6 322.2 L921.7 322.8 L921.8 323.4 L921.9 324.0 L922.1 324.6 L922.2 325.2 L922.3 325.8 L922.4 326.4 L922.5 327.0 L922.6 327.6 L922.7 328.4 L922.9 329.1 L923.0 329.9 L923.1 330.6 L923.2 331.4 L923.3 332.2 L923.5 332.9 L923.6 333.6 L923.7 334.2 L923.9 334.7 L924.0 335.2 L924.1 335.5 L924.3 335.7 L924.4 335.8 L924.6 335.7 L924.8 335.4 L925.0 334.9 L925.1 334.4 L925.3 333.7 L925.5 332.9 L925.7 332.2 L925.9 331.4 L926.1 330.7 L926.3 330.0 L926.5 329.4 L926.6 328.9 L926.8 328.3 L926.9 327.8 L927.0 327.2 L927.2 326.7 L927.3 326.1 L927.5 325.5 L927.6 324.9 L927.8 324.3 L927.9 323.6 L928.1 323.0 L928.2 322.5 L928.4 321.9 L928.5 321.4 L928.7 320.8 L928.8 320.2 L929.0 319.6 L929.2 319.0 L929.3 318.4 L929.5 317.8 L929.6 317.1 L929.8 316.5 L930.0 315.9 L930.1 315.3 L930.3 314.6 L930.5 314.0 L930.6 313.4 L930.8 312.9 L930.9 312.3 L931.1 311.7 L931.2 311.2 L931.4 310.5 L931.5 309.8 L931.7 309.1 L931.8 308.5 L932.0 307.8 L932.1 307.2 L932.3 306.5 L932.4 305.9 L932.6 305.3 L932.7 304.8 L932.9 304.2 L933.1 303.7 L933.4 303.0 L933.7 302.4 L933.9 301.8 L934.3 301.2 L934.6 300.7 L935.0 300.2 L935.5 299.7 L936.0 299.4 L936.6 299.0 L937.1 298.6 L937.6 298.2 L938.1 297.7 L938.4 297.2 L938.6 296.7 L938.8 296.2 L939.0 295.6 L939.2 295.0 L939.4 294.4 L939.6 293.7 L939.8 293.1 L940.0 292.5 L940.2 291.9 L940.5 291.4 L940.8 290.8 L941.0 290.3 L941.3 289.7 L941.6 289.1 L941.9 288.5 L942.2 288.0 L942.5 287.4 L942.8 286.8 L943.1 286.2 L943.4 285.7 L943.7 285.2 L944.0 284.6 L944.3 284.1 L944.7 283.6 L945.0 283.0 L945.4 282.5 L945.7 282.0 L946.0 281.4 L946.3 280.9 L946.7 280.3 L947.0 279.8 L947.2 279.2 L947.5 278.7 L947.7 278.1 L948.0 277.6 L948.2 277.0 L948.4 276.4 L948.6 275.9 L948.8 275.3 L949.0 274.7 L949.2 274.1 L949.3 273.6 L949.5 273.0 L949.7 272.4 L949.8 271.8 L950.0 271.2 L950.2 270.6 L950.3 270.0 L950.5 269.4 L950.6 268.7 L950.7 268.1 L950.9 267.5 L951.0 266.8 L951.1 266.2 L951.2 265.6 L951.4 264.9 L951.5 264.3 L951.6 263.7 L951.8 263.1 L951.9 262.5 L952.1 261.8 L952.3 261.0 L952.5 260.2 L952.7 259.3 L952.9 258.5 L953.1 257.8 L953.3 257.1 L953.5 256.5 L953.6 256.0 L953.7 255.7 L953.7 255.6"/>
</g>
<rect x="73.0" y="13.6" width="917.7" height="531.8" fill="none" stroke="#000" stroke-width="2.2"/>
<g stroke="#000" stroke-width="2"><line x1="122.50" y1="545.4" x2="122.50" y2="557.7"/><line x1="246.53" y1="545.4" x2="246.53" y2="557.7"/><line x1="370.56" y1="545.4" x2="370.56" y2="557.7"/><line x1="494.59" y1="545.4" x2="494.59" y2="557.7"/><line x1="618.61" y1="545.4" x2="618.61" y2="557.7"/><line x1="742.64" y1="545.4" x2="742.64" y2="557.7"/><line x1="866.67" y1="545.4" x2="866.67" y2="557.7"/><line x1="990.70" y1="545.4" x2="990.70" y2="557.7"/><line x1="184.51" y1="545.4" x2="184.51" y2="551.9"/><line x1="308.54" y1="545.4" x2="308.54" y2="551.9"/><line x1="432.57" y1="545.4" x2="432.57" y2="551.9"/><line x1="556.60" y1="545.4" x2="556.60" y2="551.9"/><line x1="680.63" y1="545.4" x2="680.63" y2="551.9"/><line x1="804.66" y1="545.4" x2="804.66" y2="551.9"/><line x1="928.69" y1="545.4" x2="928.69" y2="551.9"/></g>
<g class="tl"><text transform="translate(122.50,590) scale(1,1.07)">4000</text><text transform="translate(246.53,590) scale(1,1.07)">3500</text><text transform="translate(370.56,590) scale(1,1.07)">3000</text><text transform="translate(494.59,590) scale(1,1.07)">2500</text><text transform="translate(618.61,590) scale(1,1.07)">2000</text><text transform="translate(742.64,590) scale(1,1.07)">1500</text><text transform="translate(866.67,590) scale(1,1.07)">1000</text><text transform="translate(990.70,590) scale(1,1.07)">500</text></g>
<text class="ax" x="380.5" y="632.3" textLength="305" lengthAdjust="spacingAndGlyphs">Wave number (cm<tspan font-size="21.5" dy="-19.5">-1</tspan><tspan dy="19.5">)</tspan></text>
<text class="ax" style="font-size:36px" transform="translate(41.8,490.6) rotate(-90)" textLength="418.5" lengthAdjust="spacingAndGlyphs">Transmittance (arb. unit)</text>
<g class="lab" fill="#000" stroke="#000" stroke-width="0.9"><text transform="translate(81.2,46.5) scale(0.86,1.06)">a</text><text transform="translate(99.6,45.8) scale(0.84,1)">)</text></g>
<g class="lab" fill="#ff0000" stroke="#ff0000" stroke-width="0.9"><text transform="translate(81.2,103.5) scale(0.86,1)">b</text><text transform="translate(101.2,103.2) scale(0.84,1)">)</text></g>
<g class="lab" fill="#0000ff" stroke="#0000ff" stroke-width="0.9"><text transform="translate(83.6,291.5) scale(0.93,1.06)">c</text><text transform="translate(101.8,291) scale(0.84,1)">)</text></g>
</svg>
</body>
</html>
